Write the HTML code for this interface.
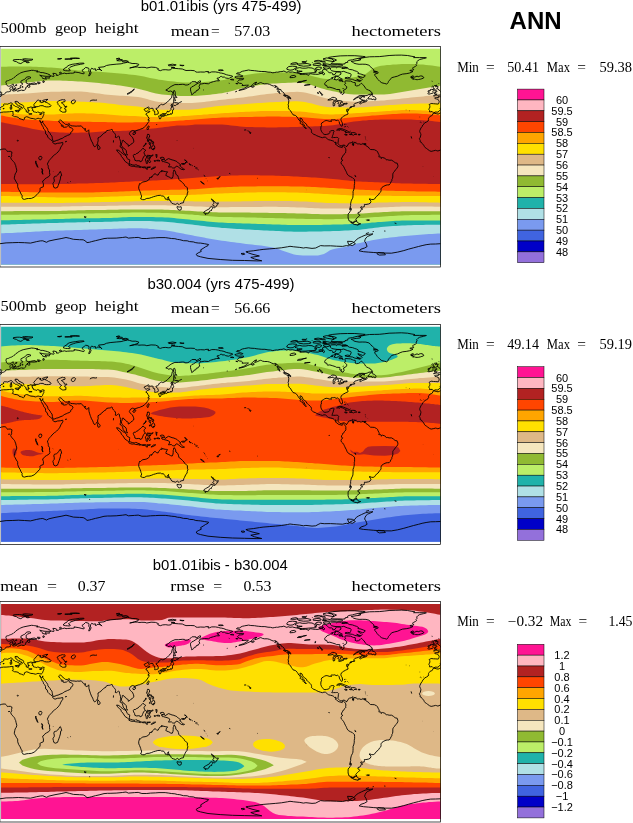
<!DOCTYPE html>
<html lang="en"><head><meta charset="utf-8"><title>ANN 500mb geopotential height</title>
<style>html,body{margin:0;padding:0;background:#fff}svg{display:block}</style></head>
<body>
<svg width="633" height="823" viewBox="0 0 633 823">
<rect width="633" height="823" fill="#fff"/>
<defs>
<clipPath id="cf0"><rect x="1.1" y="48.7" width="439.4" height="215.7"/></clipPath>
<clipPath id="cm0"><rect x="-0.1" y="46.5" width="440.6" height="220.5"/></clipPath>
<clipPath id="cf1"><rect x="1.1" y="326.7" width="439.4" height="215.1"/></clipPath>
<clipPath id="cm1"><rect x="-0.1" y="324.5" width="440.6" height="220"/></clipPath>
<clipPath id="cf2"><rect x="1.1" y="604" width="439.4" height="215"/></clipPath>
<clipPath id="cm2"><rect x="-0.1" y="601.6" width="440.6" height="220.4"/></clipPath>
</defs>
<g clip-path="url(#cf0)">
<rect x="0" y="40" width="442" height="230" fill="#BCEE68"/>
<path d="M-1,66.8 0,66.8 3,66.7 6,66.7 9,66.6 12,66.6 15,66.6 18,66.6 21,66.6 24,66.6 27,66.6 30,66.6 33,66.7 36,66.8 39,66.9 42,67.1 45,67.2 48,67.4 51,67.5 54,67.7 57,68 60,68.3 63,68.7 66,69 69,69.4 72,69.8 75,70.1 78,70.4 81,70.6 84,70.9 87,71.1 90,71.3 93,71.4 96,71.6 99,71.8 102,72 105,72.2 108,72.4 111,72.7 114,72.9 117,73.2 120,73.5 123,73.7 126,74 129,74.4 132,74.7 135,75.1 138,75.5 141,76 144,76.6 147,77.2 150,77.9 153,78.5 156,79.1 159,79.7 162,80.1 165,80.5 168,80.9 171,81.3 174,81.6 177,82 180,82.3 183,82.5 186,82.6 189,82.6 192,82.6 195,82.5 198,82.3 201,82.2 204,82 207,81.7 210,81.5 213,81.2 216,80.9 219,80.6 222,80.3 225,79.7 228,79.1 231,78.3 234,77.6 237,76.8 240,76 243,75.4 246,74.9 249,74.5 252,74 255,73.6 258,73.2 261,72.9 264,72.6 267,72.4 270,72.2 273,72.2 276,72.2 279,72.3 282,72.4 285,72.5 288,72.6 291,72.8 294,73 297,73.1 300,73.4 303,73.8 306,74.4 309,75.1 312,75.9 315,76.7 318,77.5 321,78.2 324,78.7 327,79.1 330,79.2 333,79.2 336,79.1 339,78.9 342,78.7 345,78.4 348,78.1 351,77.7 354,77.3 357,76.8 360,76.1 363,75.1 366,73.8 369,71.4 372,69.1 375,67.6 378,66.6 381,65.8 384,65.5 387,65.1 390,64.9 393,64.6 396,64.4 399,64.2 402,64.1 405,64 408,64 411,64 414,64.1 417,64.2 420,64.4 423,64.6 426,64.9 429,65.2 432,65.6 435,66 438,66.4 440,66.8 442,66.8 442,267 -1,267Z" fill="#90BA32"/>
<path d="M-1,85.7 0,85.7 3,85.3 6,84.9 9,84.5 12,84.1 15,83.8 18,83.4 21,83.1 24,82.8 27,82.5 30,82.2 33,81.9 36,81.5 39,81.2 42,81 45,80.7 48,80.6 51,80.5 54,80.5 57,80.5 60,80.6 63,80.7 66,80.8 69,81 72,81.1 75,81.3 78,81.4 81,81.6 84,81.8 87,82 90,82.2 93,82.5 96,82.8 99,83.1 102,83.4 105,83.7 108,84.1 111,84.4 114,84.8 117,85.2 120,85.6 123,86.1 126,86.5 129,87.1 132,87.6 135,88.1 138,88.7 141,89.4 144,90.2 147,91.1 150,91.9 153,92.7 156,93.4 159,94 162,94.4 165,94.7 168,95 171,95.3 174,95.5 177,95.7 180,95.9 183,96 186,96.1 189,96.1 192,96 195,95.9 198,95.8 201,95.5 204,95.3 207,95 210,94.7 213,94.3 216,94 219,93.6 222,93.2 225,92.6 228,92 231,91.2 234,90.4 237,89.5 240,88.7 243,88 246,87.4 249,86.9 252,86.3 255,85.8 258,85.3 261,84.8 264,84.4 267,84 270,83.7 273,83.5 276,83.4 279,83.2 282,83 285,82.9 288,82.8 291,82.7 294,82.6 297,82.6 300,82.7 303,83 306,83.6 309,84.3 312,85.2 315,86.2 318,87.2 321,88.2 324,89.1 327,90 330,90.6 333,91.2 336,91.8 339,92.4 342,92.9 345,93.4 348,93.9 351,94.2 354,94.4 357,94.4 360,94.4 363,94.4 366,94.4 369,94.4 372,94.4 375,94.4 378,94.4 381,94.4 384,94.4 387,94.2 390,93.9 393,93.4 396,93 399,92.4 402,91.9 405,91.4 408,90.9 411,90.5 414,90 417,89.5 420,89.1 423,88.6 426,88.1 429,87.6 432,87.1 435,86.6 438,86.1 440,85.7 442,85.7 442,267 -1,267Z" fill="#F5E6BE"/>
<path d="M-1,94.7 0,94.7 3,94.6 6,94.5 9,94.3 12,94.2 15,94.1 18,93.9 21,93.8 24,93.6 27,93.4 30,93.2 33,93 36,92.8 39,92.5 42,92.3 45,92.1 48,91.9 51,91.8 54,91.8 57,91.7 60,91.7 63,91.6 66,91.6 69,91.5 72,91.5 75,91.5 78,91.5 81,91.6 84,91.7 87,92 90,92.4 93,92.8 96,93.2 99,93.6 102,94.1 105,94.5 108,94.8 111,95.1 114,95.3 117,95.5 120,95.7 123,95.8 126,96 129,96.2 132,96.4 135,96.7 138,97.1 141,97.6 144,98.3 147,99.1 150,99.9 153,100.7 156,101.4 159,101.9 162,102.2 165,102.4 168,102.5 171,102.7 174,102.8 177,102.9 180,103 183,103.1 186,103.1 189,103.1 192,103 195,102.8 198,102.6 201,102.3 204,102 207,101.6 210,101.2 213,100.8 216,100.5 219,100.1 222,99.8 225,99.5 228,99.1 231,98.8 234,98.4 237,98.1 240,97.7 243,97.4 246,97 249,96.6 252,96.2 255,95.7 258,95.3 261,94.8 264,94.4 267,94 270,93.7 273,93.4 276,93.1 279,92.9 282,92.6 285,92.4 288,92.2 291,92 294,91.9 297,91.8 300,91.9 303,92.2 306,92.7 309,93.4 312,94.2 315,95.1 318,96.1 321,97 324,97.8 327,98.5 330,99 333,99.4 336,99.9 339,100.3 342,100.7 345,101 348,101.3 351,101.5 354,101.7 357,101.7 360,101.7 363,101.6 366,101.5 369,101.3 372,101.1 375,101 378,100.8 381,100.6 384,100.4 387,100.1 390,99.8 393,99.5 396,99.2 399,98.9 402,98.5 405,98.2 408,97.9 411,97.6 414,97.3 417,97 420,96.7 423,96.4 426,96.1 429,95.8 432,95.5 435,95.2 438,94.9 440,94.7 442,94.7 442,267 -1,267Z" fill="#DEB887"/>
<path d="M-1,103.3 0,103.3 3,103.2 6,103.1 9,102.9 12,102.8 15,102.7 18,102.6 21,102.4 24,102.3 27,102.2 30,102 33,101.8 36,101.6 39,101.4 42,101.2 45,101.1 48,101 51,100.9 54,100.9 57,100.9 60,101 63,101.1 66,101.2 69,101.3 72,101.4 75,101.5 78,101.6 81,101.7 84,101.8 87,101.9 90,102 93,102.2 96,102.4 99,102.6 102,102.8 105,103.1 108,103.4 111,103.7 114,104.1 117,104.5 120,104.9 123,105.2 126,105.5 129,105.7 132,106 135,106.3 138,106.6 141,107.1 144,107.6 147,108.1 150,108.6 153,109 156,109.4 159,109.6 162,109.7 165,109.7 168,109.7 171,109.7 174,109.7 177,109.7 180,109.7 183,109.7 186,109.7 189,109.7 192,109.6 195,109.3 198,109 201,108.6 204,108.1 207,107.6 210,107.2 213,106.7 216,106.3 219,105.9 222,105.7 225,105.4 228,105.2 231,105 234,104.8 237,104.6 240,104.4 243,104.2 246,104 249,103.8 252,103.6 255,103.3 258,103.1 261,102.9 264,102.7 267,102.5 270,102.3 273,102.2 276,102 279,101.9 282,101.7 285,101.6 288,101.5 291,101.4 294,101.3 297,101.3 300,101.4 303,101.7 306,102.2 309,102.9 312,103.6 315,104.4 318,105.2 321,105.9 324,106.5 327,107 330,107.2 333,107.2 336,107.2 339,107.3 342,107.3 345,107.4 348,107.4 351,107.4 354,107.4 357,107.4 360,107.3 363,107.2 366,107 369,106.8 372,106.5 375,106.2 378,106 381,105.8 384,105.6 387,105.3 390,105.1 393,104.9 396,104.7 399,104.5 402,104.3 405,104.1 408,104 411,103.9 414,103.8 417,103.7 420,103.6 423,103.5 426,103.5 429,103.4 432,103.4 435,103.3 438,103.3 440,103.3 442,103.3 442,267 -1,267Z" fill="#FFE000"/>
<path d="M-1,112 0,112 3,112.4 6,112.8 9,113.2 12,113.5 15,113.8 18,114.1 21,114.3 24,114.4 27,114.4 30,114.4 33,114.4 36,114.4 39,114.4 42,114.4 45,114.4 48,114.4 51,114.4 54,114.4 57,114.3 60,114.1 63,113.9 66,113.7 69,113.5 72,113.4 75,113.2 78,113.2 81,113.2 84,113.3 87,113.4 90,113.5 93,113.6 96,113.7 99,113.9 102,114.1 105,114.2 108,114.5 111,114.7 114,115 117,115.3 120,115.5 123,115.7 126,115.8 129,115.9 132,116 135,116.1 138,116.3 141,116.6 144,116.8 147,116.9 150,117 153,117.1 156,117.1 159,117.2 162,117.2 165,117.2 168,117.1 171,116.9 174,116.8 177,116.6 180,116.4 183,116.1 186,115.9 189,115.7 192,115.5 195,115.3 198,115.1 201,114.9 204,114.6 207,114.4 210,114.1 213,113.9 216,113.7 219,113.5 222,113.3 225,113.1 228,112.9 231,112.7 234,112.5 237,112.3 240,112.1 243,111.9 246,111.8 249,111.7 252,111.5 255,111.4 258,111.2 261,111.1 264,111 267,111 270,110.9 273,110.9 276,110.9 279,110.9 282,111 285,111 288,111.1 291,111.2 294,111.3 297,111.4 300,111.5 303,111.7 306,112 309,112.4 312,112.8 315,113.2 318,113.5 321,113.9 324,114.2 327,114.3 330,114.4 333,114.4 336,114.3 339,114.2 342,114 345,113.9 348,113.7 351,113.5 354,113.3 357,113.1 360,113 363,112.8 366,112.5 369,112.3 372,112.1 375,111.9 378,111.7 381,111.5 384,111.3 387,111.1 390,110.9 393,110.6 396,110.4 399,110.3 402,110.1 405,110 408,110 411,110 414,110.1 417,110.2 420,110.3 423,110.4 426,110.6 429,110.9 432,111.1 435,111.4 438,111.8 440,112 442,112 442,267 -1,267Z" fill="#FFA500"/>
<path d="M-1,115.2 0,115.2 3,115.8 6,116.4 9,117 12,117.6 15,118.1 18,118.5 21,118.9 24,119.2 27,119.5 30,119.7 33,119.9 36,120.1 39,120.2 42,120.4 45,120.5 48,120.6 51,120.8 54,120.9 57,121 60,121.1 63,121.2 66,121.3 69,121.4 72,121.5 75,121.5 78,121.6 81,121.7 84,121.7 87,121.8 90,121.8 93,121.9 96,121.9 99,122 102,122 105,122.1 108,122.2 111,122.2 114,122.3 117,122.5 120,122.5 123,122.5 126,122.5 129,122.4 132,122.4 135,122.3 138,122.3 141,122.2 144,122.2 147,122.1 150,122 153,122 156,121.9 159,121.8 162,121.7 165,121.6 168,121.4 171,121.2 174,121 177,120.8 180,120.6 183,120.4 186,120.1 189,119.9 192,119.7 195,119.5 198,119.2 201,119 204,118.7 207,118.5 210,118.3 213,118.1 216,117.9 219,117.7 222,117.6 225,117.5 228,117.4 231,117.3 234,117.3 237,117.2 240,117.1 243,117.1 246,117 249,116.9 252,116.9 255,116.8 258,116.8 261,116.7 264,116.7 267,116.6 270,116.6 273,116.6 276,116.6 279,116.6 282,116.7 285,116.7 288,116.8 291,116.8 294,116.9 297,117 300,117.1 303,117.2 306,117.4 309,117.7 312,118 315,118.2 318,118.5 321,118.7 324,118.9 327,119.1 330,119.1 333,119 336,118.9 339,118.7 342,118.4 345,118.1 348,117.8 351,117.5 354,117.2 357,116.9 360,116.7 363,116.4 366,116.2 369,115.9 372,115.6 375,115.4 378,115.2 381,115 384,114.8 387,114.6 390,114.3 393,114.1 396,113.9 399,113.8 402,113.6 405,113.5 408,113.5 411,113.5 414,113.6 417,113.6 420,113.7 423,113.9 426,114 429,114.2 432,114.4 435,114.7 438,115 440,115.2 442,115.2 442,267 -1,267Z" fill="#FF4500"/>
<path d="M-1,122.1 0,122.1 3,122.6 6,123.2 9,123.8 12,124.4 15,125 18,125.6 21,126.3 24,127 27,127.6 30,128.3 33,129 36,129.5 39,130.1 42,130.6 45,131.1 48,131.5 51,131.8 54,132.1 57,132.3 60,132.5 63,132.6 66,132.7 69,132.8 72,132.8 75,132.7 78,132.7 81,132.6 84,132.6 87,132.5 90,132.4 93,132.2 96,132 99,131.8 102,131.5 105,131.3 108,131.2 111,131.1 114,131 117,130.9 120,130.9 123,130.8 126,130.7 129,130.6 132,130.4 135,130.1 138,129.8 141,129.6 144,129.4 147,129.1 150,128.8 153,128.5 156,128.2 159,127.8 162,127.5 165,127.1 168,126.7 171,126.3 174,125.9 177,125.6 180,125.5 183,125.4 186,125.4 189,125.2 192,124.9 195,124.6 198,124.5 201,124.5 204,124.5 207,124.5 210,124.5 213,124.5 216,124.5 219,124.5 222,124.6 225,124.8 228,125 231,125.4 234,125.8 237,126.1 240,126.5 243,126.7 246,126.9 249,127 252,127.1 255,127.2 258,127.2 261,127.3 264,127.3 267,127.4 270,127.4 273,127.4 276,127.4 279,127.3 282,127.3 285,127.2 288,127.2 291,127.1 294,127 297,126.9 300,126.8 303,126.8 306,126.7 309,126.6 312,126.5 315,126.3 318,126.2 321,126 324,125.9 327,125.7 330,125.5 333,125.2 336,124.8 339,124.3 342,123.7 345,123.1 348,122.5 351,122 354,121.5 357,121.2 360,120.9 363,120.6 366,120.4 369,120.1 372,119.9 375,119.8 378,119.7 381,119.6 384,119.6 387,119.6 390,119.6 393,119.6 396,119.6 399,119.6 402,119.6 405,119.6 408,119.6 411,119.6 414,119.7 417,119.9 420,120 423,120.3 426,120.5 429,120.8 432,121.1 435,121.5 438,121.8 440,122.1 442,122.1 442,267 -1,267Z" fill="#B22222"/>
<path d="M-1,183.9 0,183.9 3,184 6,184 9,184 12,184.1 15,184.1 18,184.2 21,184.2 24,184.2 27,184.2 30,184.2 33,184.2 36,184.2 39,184.2 42,184.2 45,184.2 48,184.2 51,184.2 54,184.2 57,184.2 60,184.1 63,184 66,184 69,183.9 72,183.8 75,183.7 78,183.6 81,183.5 84,183.4 87,183.4 90,183.3 93,183.2 96,183.1 99,183 102,182.9 105,182.8 108,182.7 111,182.6 114,182.4 117,182.3 120,182.1 123,182 126,181.8 129,181.7 132,181.5 135,181.3 138,181.2 141,181.1 144,180.9 147,180.8 150,180.7 153,180.5 156,180.4 159,180.3 162,180.1 165,179.9 168,179.7 171,179.5 174,179.3 177,179.1 180,178.9 183,178.7 186,178.4 189,178.2 192,178 195,177.8 198,177.6 201,177.3 204,177.1 207,176.9 210,176.7 213,176.5 216,176.3 219,176.1 222,176 225,175.9 228,175.7 231,175.6 234,175.5 237,175.4 240,175.3 243,175.2 246,175.2 249,175.2 252,175.2 255,175.3 258,175.3 261,175.4 264,175.4 267,175.5 270,175.6 273,175.6 276,175.7 279,175.8 282,175.9 285,176 288,176.1 291,176.3 294,176.4 297,176.6 300,176.7 303,176.9 306,177 309,177.2 312,177.4 315,177.6 318,177.8 321,178 324,178.2 327,178.5 330,178.7 333,179 336,179.3 339,179.6 342,179.9 345,180.3 348,180.6 351,180.9 354,181.2 357,181.4 360,181.5 363,181.7 366,181.8 369,182 372,182.1 375,182.2 378,182.3 381,182.5 384,182.6 387,182.7 390,182.9 393,183 396,183.2 399,183.3 402,183.4 405,183.5 408,183.6 411,183.6 414,183.7 417,183.7 420,183.8 423,183.8 426,183.8 429,183.9 432,183.9 435,183.9 438,183.9 440,183.9 442,183.9 442,267 -1,267Z" fill="#FF4500"/>
<path d="M-1,191.7 0,191.7 3,191.7 6,191.8 9,191.8 12,191.9 15,191.9 18,192 21,192 24,192.1 27,192.1 30,192.2 33,192.3 36,192.3 39,192.4 42,192.5 45,192.5 48,192.6 51,192.6 54,192.6 57,192.6 60,192.6 63,192.6 66,192.6 69,192.6 72,192.6 75,192.6 78,192.6 81,192.6 84,192.6 87,192.5 90,192.5 93,192.4 96,192.3 99,192.2 102,192.1 105,192 108,192 111,191.9 114,191.8 117,191.7 120,191.5 123,191.4 126,191.3 129,191.2 132,191.1 135,190.9 138,190.8 141,190.7 144,190.6 147,190.5 150,190.4 153,190.3 156,190.2 159,190.1 162,190 165,189.9 168,189.9 171,189.8 174,189.8 177,189.7 180,189.7 183,189.6 186,189.6 189,189.5 192,189.3 195,189.2 198,189 201,188.7 204,188.5 207,188.3 210,188 213,187.8 216,187.6 219,187.4 222,187.3 225,187.2 228,187.1 231,186.9 234,186.8 237,186.7 240,186.6 243,186.6 246,186.5 249,186.4 252,186.4 255,186.4 258,186.3 261,186.3 264,186.2 267,186.2 270,186.2 273,186.2 276,186.2 279,186.2 282,186.3 285,186.3 288,186.3 291,186.4 294,186.4 297,186.5 300,186.5 303,186.6 306,186.7 309,186.8 312,187 315,187.1 318,187.3 321,187.4 324,187.6 327,187.7 330,187.9 333,188.1 336,188.2 339,188.4 342,188.6 345,188.8 348,189 351,189.2 354,189.4 357,189.5 360,189.7 363,189.8 366,189.9 369,190.1 372,190.2 375,190.3 378,190.4 381,190.5 384,190.6 387,190.7 390,190.7 393,190.8 396,190.9 399,191 402,191.1 405,191.1 408,191.2 411,191.3 414,191.3 417,191.4 420,191.4 423,191.5 426,191.5 429,191.6 432,191.6 435,191.6 438,191.7 440,191.7 442,191.7 442,267 -1,267Z" fill="#FFA500"/>
<path d="M-1,196.1 0,196.1 3,196.1 6,196.1 9,196.1 12,196.2 15,196.2 18,196.3 21,196.3 24,196.4 27,196.4 30,196.5 33,196.6 36,196.7 39,196.9 42,197 45,197.1 48,197.2 51,197.3 54,197.3 57,197.4 60,197.4 63,197.4 66,197.4 69,197.5 72,197.5 75,197.5 78,197.5 81,197.5 84,197.4 87,197.4 90,197.3 93,197.2 96,197.1 99,197 102,196.9 105,196.8 108,196.7 111,196.6 114,196.5 117,196.4 120,196.3 123,196.2 126,196 129,195.9 132,195.8 135,195.7 138,195.7 141,195.6 144,195.5 147,195.5 150,195.4 153,195.3 156,195.3 159,195.2 162,195.2 165,195.2 168,195.1 171,195.1 174,195.1 177,195 180,195 183,195 186,194.9 189,194.9 192,194.8 195,194.7 198,194.6 201,194.4 204,194.3 207,194.1 210,194 213,193.8 216,193.7 219,193.5 222,193.4 225,193.3 228,193.2 231,193.1 234,193 237,192.9 240,192.8 243,192.7 246,192.6 249,192.5 252,192.5 255,192.4 258,192.3 261,192.3 264,192.3 267,192.2 270,192.2 273,192.2 276,192.2 279,192.2 282,192.3 285,192.3 288,192.4 291,192.4 294,192.5 297,192.6 300,192.7 303,192.8 306,192.9 309,193.1 312,193.2 315,193.4 318,193.6 321,193.8 324,194 327,194.1 330,194.3 333,194.5 336,194.6 339,194.8 342,195 345,195.1 348,195.3 351,195.4 354,195.5 357,195.5 360,195.5 363,195.6 366,195.6 369,195.6 372,195.6 375,195.6 378,195.7 381,195.7 384,195.7 387,195.8 390,195.8 393,195.9 396,196 399,196 402,196.1 405,196.1 408,196.1 411,196.1 414,196.1 417,196.1 420,196.1 423,196.1 426,196.1 429,196.1 432,196.1 435,196.1 438,196.1 440,196.1 442,196.1 442,267 -1,267Z" fill="#FFE000"/>
<path d="M-1,202.7 0,202.7 3,202.7 6,202.7 9,202.7 12,202.7 15,202.7 18,202.7 21,202.7 24,202.7 27,202.7 30,202.7 33,202.8 36,202.8 39,202.9 42,202.9 45,202.9 48,203 51,203 54,203 57,203 60,202.9 63,202.9 66,202.8 69,202.8 72,202.7 75,202.7 78,202.6 81,202.5 84,202.5 87,202.4 90,202.4 93,202.3 96,202.3 99,202.2 102,202.1 105,202.1 108,202 111,201.9 114,201.9 117,201.8 120,201.7 123,201.6 126,201.5 129,201.5 132,201.4 135,201.3 138,201.3 141,201.2 144,201.1 147,201.1 150,201 153,201 156,200.9 159,200.9 162,200.9 165,200.9 168,200.9 171,201 174,201 177,201.1 180,201.2 183,201.2 186,201.3 189,201.3 192,201.3 195,201.4 198,201.4 201,201.5 204,201.5 207,201.5 210,201.6 213,201.6 216,201.6 219,201.6 222,201.6 225,201.6 228,201.6 231,201.5 234,201.5 237,201.4 240,201.4 243,201.3 246,201.3 249,201.3 252,201.2 255,201.1 258,201.1 261,201 264,201 267,200.9 270,200.9 273,200.9 276,200.9 279,200.9 282,201 285,201 288,201.1 291,201.1 294,201.2 297,201.3 300,201.4 303,201.5 306,201.6 309,201.8 312,202 315,202.2 318,202.4 321,202.6 324,202.8 327,202.9 330,203 333,203.1 336,203.1 339,203.2 342,203.3 345,203.3 348,203.3 351,203.4 354,203.4 357,203.4 360,203.4 363,203.3 366,203.2 369,203 372,202.9 375,202.7 378,202.6 381,202.5 384,202.5 387,202.4 390,202.3 393,202.3 396,202.2 399,202.2 402,202.1 405,202.1 408,202.1 411,202.1 414,202.1 417,202.1 420,202.2 423,202.2 426,202.3 429,202.4 432,202.4 435,202.5 438,202.6 440,202.7 442,202.7 442,267 -1,267Z" fill="#DEB887"/>
<path d="M-1,206.8 0,206.8 3,206.8 6,206.8 9,206.8 12,206.8 15,206.8 18,206.8 21,206.8 24,206.8 27,206.8 30,206.8 33,206.8 36,206.8 39,206.8 42,206.8 45,206.8 48,206.8 51,206.8 54,206.8 57,206.8 60,206.7 63,206.6 66,206.5 69,206.4 72,206.3 75,206.3 78,206.2 81,206.2 84,206.1 87,206.1 90,206 93,206 96,206 99,205.9 102,205.9 105,205.9 108,205.8 111,205.8 114,205.7 117,205.7 120,205.6 123,205.5 126,205.4 129,205.4 132,205.3 135,205.3 138,205.3 141,205.3 144,205.3 147,205.3 150,205.3 153,205.3 156,205.3 159,205.3 162,205.3 165,205.3 168,205.4 171,205.5 174,205.6 177,205.7 180,205.8 183,205.9 186,206 189,206.1 192,206.2 195,206.4 198,206.5 201,206.6 204,206.8 207,206.9 210,207 213,207.1 216,207.2 219,207.2 222,207.2 225,207.2 228,207.2 231,207.1 234,207.1 237,207.1 240,207.1 243,207 246,207 249,207 252,206.9 255,206.9 258,206.9 261,206.9 264,206.8 267,206.8 270,206.8 273,206.8 276,206.8 279,206.9 282,206.9 285,207 288,207.1 291,207.2 294,207.3 297,207.4 300,207.5 303,207.6 306,207.7 309,207.9 312,208 315,208.2 318,208.3 321,208.4 324,208.5 327,208.6 330,208.6 333,208.6 336,208.6 339,208.6 342,208.6 345,208.6 348,208.6 351,208.6 354,208.6 357,208.6 360,208.5 363,208.4 366,208.3 369,208.1 372,207.9 375,207.8 378,207.6 381,207.4 384,207.3 387,207.2 390,207 393,206.9 396,206.8 399,206.7 402,206.6 405,206.5 408,206.5 411,206.5 414,206.5 417,206.5 420,206.5 423,206.5 426,206.6 429,206.6 432,206.6 435,206.7 438,206.7 440,206.8 442,206.8 442,267 -1,267Z" fill="#F5E6BE"/>
<path d="M-1,211.2 0,211.2 3,211.2 6,211.2 9,211.2 12,211.2 15,211.1 18,211.1 21,211.1 24,211.1 27,211.1 30,211.1 33,211.1 36,211.1 39,211.1 42,211 45,211 48,211 51,211 54,211 57,210.9 60,210.9 63,210.8 66,210.7 69,210.6 72,210.5 75,210.4 78,210.3 81,210.2 84,210.2 87,210.1 90,210.1 93,210 96,210 99,210 102,209.9 105,209.9 108,209.8 111,209.8 114,209.7 117,209.7 120,209.6 123,209.5 126,209.5 129,209.5 132,209.4 135,209.4 138,209.4 141,209.4 144,209.4 147,209.4 150,209.5 153,209.5 156,209.5 159,209.6 162,209.6 165,209.7 168,209.8 171,209.9 174,210 177,210.2 180,210.4 183,210.5 186,210.7 189,210.8 192,211 195,211.2 198,211.4 201,211.6 204,211.7 207,211.9 210,212.1 213,212.2 216,212.3 219,212.4 222,212.4 225,212.5 228,212.5 231,212.5 234,212.5 237,212.5 240,212.6 243,212.6 246,212.6 249,212.6 252,212.7 255,212.7 258,212.7 261,212.8 264,212.8 267,212.8 270,212.9 273,212.9 276,213 279,213 282,213.1 285,213.1 288,213.2 291,213.2 294,213.3 297,213.4 300,213.5 303,213.5 306,213.6 309,213.8 312,213.9 315,214 318,214.1 321,214.2 324,214.2 327,214.3 330,214.3 333,214.3 336,214.3 339,214.2 342,214.2 345,214.1 348,214 351,213.9 354,213.9 357,213.8 360,213.6 363,213.5 366,213.3 369,213.1 372,212.8 375,212.6 378,212.4 381,212.2 384,212.1 387,211.9 390,211.8 393,211.6 396,211.5 399,211.4 402,211.3 405,211.2 408,211.2 411,211.2 414,211.2 417,211.2 420,211.2 423,211.2 426,211.2 429,211.2 432,211.2 435,211.2 438,211.2 440,211.2 442,211.2 442,267 -1,267Z" fill="#90BA32"/>
<path d="M-1,214.8 0,214.8 3,214.8 6,214.8 9,214.7 12,214.7 15,214.7 18,214.7 21,214.6 24,214.6 27,214.6 30,214.6 33,214.5 36,214.5 39,214.5 42,214.4 45,214.4 48,214.4 51,214.3 54,214.3 57,214.2 60,214.1 63,214 66,213.9 69,213.8 72,213.7 75,213.7 78,213.6 81,213.5 84,213.5 87,213.5 90,213.4 93,213.4 96,213.3 99,213.3 102,213.3 105,213.2 108,213.2 111,213.1 114,213.1 117,213 120,212.9 123,212.8 126,212.7 129,212.7 132,212.6 135,212.6 138,212.6 141,212.6 144,212.6 147,212.7 150,212.7 153,212.7 156,212.8 159,212.8 162,212.9 165,213 168,213.1 171,213.2 174,213.4 177,213.6 180,213.8 183,214 186,214.2 189,214.4 192,214.6 195,214.9 198,215.1 201,215.4 204,215.7 207,216 210,216.3 213,216.5 216,216.7 219,216.9 222,217 225,217 228,217.1 231,217.1 234,217.2 237,217.2 240,217.3 243,217.3 246,217.4 249,217.5 252,217.5 255,217.6 258,217.7 261,217.8 264,217.9 267,218 270,218 273,218.1 276,218.2 279,218.3 282,218.3 285,218.4 288,218.5 291,218.6 294,218.6 297,218.7 300,218.7 303,218.8 306,218.9 309,218.9 312,219 315,219 318,219.1 321,219.1 324,219.2 327,219.2 330,219.2 333,219.2 336,219.1 339,219 342,218.9 345,218.8 348,218.7 351,218.5 354,218.4 357,218.3 360,218.1 363,217.9 366,217.7 369,217.5 372,217.3 375,217.1 378,216.9 381,216.7 384,216.5 387,216.3 390,216.1 393,215.9 396,215.7 399,215.5 402,215.4 405,215.3 408,215.2 411,215.1 414,215.1 417,215 420,215 423,214.9 426,214.9 429,214.9 432,214.8 435,214.8 438,214.8 440,214.8 442,214.8 442,267 -1,267Z" fill="#BCEE68"/>
<path d="M-1,220.4 0,220.4 3,220.3 6,220.3 9,220.2 12,220.1 15,220.1 18,220 21,219.9 24,219.8 27,219.8 30,219.7 33,219.6 36,219.6 39,219.5 42,219.4 45,219.4 48,219.3 51,219.2 54,219.1 57,219.1 60,219 63,218.9 66,218.8 69,218.7 72,218.6 75,218.6 78,218.5 81,218.4 84,218.4 87,218.3 90,218.3 93,218.3 96,218.2 99,218.2 102,218.1 105,218.1 108,218 111,217.9 114,217.8 117,217.7 120,217.5 123,217.3 126,217.2 129,217.1 132,217 135,216.9 138,216.9 141,216.9 144,216.9 147,217 150,217 153,217.1 156,217.2 159,217.2 162,217.3 165,217.4 168,217.6 171,217.8 174,218.1 177,218.4 180,218.7 183,219 186,219.3 189,219.6 192,219.9 195,220.2 198,220.5 201,220.8 204,221.1 207,221.4 210,221.7 213,222 216,222.2 219,222.4 222,222.6 225,222.7 228,222.9 231,223 234,223.1 237,223.2 240,223.3 243,223.4 246,223.5 249,223.6 252,223.7 255,223.8 258,223.9 261,224 264,224.1 267,224.2 270,224.3 273,224.4 276,224.5 279,224.6 282,224.7 285,224.8 288,224.9 291,225 294,225.1 297,225.1 300,225.1 303,225.1 306,225.1 309,225 312,225 315,225 318,224.9 321,224.9 324,224.8 327,224.8 330,224.7 333,224.6 336,224.6 339,224.5 342,224.4 345,224.3 348,224.2 351,224.1 354,224 357,223.9 360,223.7 363,223.4 366,223.2 369,222.9 372,222.6 375,222.4 378,222.1 381,221.9 384,221.7 387,221.5 390,221.2 393,221 396,220.8 399,220.7 402,220.5 405,220.4 408,220.4 411,220.4 414,220.4 417,220.4 420,220.4 423,220.4 426,220.4 429,220.4 432,220.4 435,220.4 438,220.4 440,220.4 442,220.4 442,267 -1,267Z" fill="#20B2AA"/>
<path d="M-1,224.7 0,224.7 3,224.6 6,224.5 9,224.4 12,224.3 15,224.2 18,224.1 21,224 24,223.9 27,223.8 30,223.7 33,223.6 36,223.5 39,223.4 42,223.3 45,223.2 48,223.1 51,223 54,222.9 57,222.9 60,222.8 63,222.7 66,222.6 69,222.5 72,222.4 75,222.4 78,222.3 81,222.2 84,222.2 87,222.1 90,222.1 93,222 96,222 99,221.9 102,221.9 105,221.8 108,221.7 111,221.7 114,221.6 117,221.5 120,221.3 123,221.2 126,221.1 129,221 132,220.9 135,220.9 138,220.9 141,220.9 144,221 147,221.1 150,221.1 153,221.2 156,221.4 159,221.5 162,221.6 165,221.8 168,222 171,222.3 174,222.6 177,222.9 180,223.3 183,223.6 186,224 189,224.3 192,224.6 195,225 198,225.3 201,225.7 204,226 207,226.4 210,226.7 213,227 216,227.3 219,227.6 222,227.9 225,228.1 228,228.3 231,228.5 234,228.7 237,228.9 240,229 243,229.2 246,229.4 249,229.6 252,229.8 255,229.9 258,230.1 261,230.3 264,230.4 267,230.6 270,230.7 273,230.8 276,231 279,231.1 282,231.3 285,231.4 288,231.5 291,231.6 294,231.7 297,231.7 300,231.7 303,231.7 306,231.7 309,231.6 312,231.6 315,231.5 318,231.5 321,231.4 324,231.3 327,231.3 330,231.2 333,231.1 336,231 339,230.9 342,230.8 345,230.6 348,230.5 351,230.3 354,230.1 357,229.9 360,229.7 363,229.3 366,229 369,228.6 372,228.2 375,227.8 378,227.4 381,227.1 384,226.8 387,226.6 390,226.3 393,226.1 396,225.9 399,225.7 402,225.5 405,225.4 408,225.3 411,225.2 414,225.1 417,225 420,225 423,224.9 426,224.8 429,224.8 432,224.7 435,224.7 438,224.7 440,224.7 442,224.7 442,267 -1,267Z" fill="#B0E0E6"/>
<path d="M-1,233.4 0,233.4 3,233.3 6,233.1 9,233 12,232.9 15,232.7 18,232.6 21,232.4 24,232.3 27,232.1 30,232 33,231.8 36,231.6 39,231.5 42,231.3 45,231.1 48,231 51,230.8 54,230.7 57,230.6 60,230.5 63,230.4 66,230.3 69,230.3 72,230.2 75,230.1 78,230 81,229.9 84,229.8 87,229.7 90,229.6 93,229.5 96,229.4 99,229.3 102,229.2 105,229.1 108,229 111,228.9 114,228.8 117,228.7 120,228.6 123,228.5 126,228.4 129,228.3 132,228.2 135,228.2 138,228.2 141,228.3 144,228.4 147,228.6 150,228.9 153,229.1 156,229.4 159,229.7 162,230 165,230.3 168,230.8 171,231.3 174,231.8 177,232.4 180,233 183,233.6 186,234.2 189,234.8 192,235.3 195,235.9 198,236.5 201,237 204,237.6 207,238.2 210,238.7 213,239.2 216,239.8 219,240.2 222,240.7 225,241.1 228,241.6 231,242 234,242.3 237,242.7 240,243.1 243,243.5 246,243.9 249,244.3 252,244.6 255,245 258,245.3 261,245.6 264,246 267,246.4 270,246.9 273,247.5 276,248.3 279,249.3 282,250.4 285,251.5 288,252.5 291,253.5 294,254.4 297,255.1 300,255.3 303,255.4 306,255.4 309,255.5 312,255.5 315,255.5 318,255.4 321,254.8 324,254.1 327,252.2 330,250.2 333,249.2 336,248.6 339,248.1 342,247.6 345,247 348,246.3 351,245.4 354,244.5 357,243.6 360,242.9 363,242.2 366,241.5 369,240.9 372,240.3 375,239.7 378,239.2 381,238.7 384,238.3 387,237.9 390,237.5 393,237.2 396,236.9 399,236.5 402,236.3 405,236 408,235.7 411,235.4 414,235.2 417,234.9 420,234.7 423,234.5 426,234.3 429,234 432,233.9 435,233.7 438,233.5 440,233.4 442,233.4 442,267 -1,267Z" fill="#7A9AEF"/>
</g>
<g clip-path="url(#cf1)">
<rect x="0" y="320" width="442" height="230" fill="#20B2AA"/>
<path d="M-1,346.5 0,346.5 3,346.2 6,346 9,345.7 12,345.5 15,345.4 18,345.2 21,345.2 24,345.1 27,345.1 30,345.1 33,345.2 36,345.3 39,345.4 42,345.5 45,345.7 48,345.8 51,346 54,346.1 57,346.3 60,346.5 63,346.8 66,347 69,347.3 72,347.6 75,347.8 78,348.1 81,348.3 84,348.6 87,348.8 90,349 93,349.3 96,349.5 99,349.8 102,350 105,350.3 108,350.5 111,350.8 114,351.1 117,351.3 120,351.6 123,351.9 126,352.3 129,352.7 132,353.1 135,353.5 138,354 141,354.6 144,355.2 147,355.9 150,356.7 153,357.4 156,358.2 159,358.9 162,359.6 165,360.5 168,361.3 171,362 174,362.6 177,363 180,363.1 183,363.1 186,363.2 189,363.2 192,363.3 195,363.3 198,363.3 201,363.2 204,363.1 207,362.8 210,362.6 213,362.2 216,361.9 219,361.6 222,361.3 225,360.9 228,360.5 231,360.1 234,359.7 237,359.2 240,358.7 243,358.1 246,357.6 249,357 252,356.2 255,355.4 258,354.6 261,353.7 264,353 267,352.3 270,351.8 273,351.4 276,351.1 279,350.8 282,350.6 285,350.4 288,350.3 291,350.3 294,350.6 297,351 300,351.4 303,351.9 306,352.4 309,353.1 312,353.7 315,354.4 318,355.1 321,355.9 324,356.9 327,357.9 330,359 333,359.9 336,360.6 339,361.1 342,361.7 345,362.1 348,362.6 351,363 354,363.2 357,363.4 360,363.5 363,363.5 366,363.5 369,363.5 372,363.5 375,363.4 378,363.1 381,362.5 384,361.9 385.3,361.6 387,361.2 388.4,360.8 389.6,360.5 390.8,360.1 391.9,359.7 393.2,359.1 394.7,358.5 396.3,357.8 397.5,356.9 397.6,355.9 396.4,355 395,354.4 393.6,354 392.3,353.8 391,353.4 389.6,352.9 388.4,352.2 387.4,351.1 386.9,349.8 386.9,348.4 387.6,347.1 388.6,346.1 389.7,345.3 391,344.7 392.4,344.3 393.8,344 395.2,343.8 396.6,343.6 398,343.5 399.4,343.4 400.8,343.4 402.2,343.3 403.6,343.3 405,343.3 406.4,343.3 407.8,343.3 409.2,343.3 410.6,343.3 412,343.4 413.4,343.4 414.8,343.5 416.2,343.6 417.7,343.8 419,343.9 420.4,344.1 421.8,344.3 423.2,344.5 424.6,344.7 426,344.9 427.4,345.1 428.8,345.3 430.2,345.5 431.6,345.7 433,345.9 434.4,346 435.8,346.2 437.2,346.3 438.6,346.4 440,346.5 442,346.5 442,544.5 -1,544.5Z" fill="#BCEE68"/>
<path d="M-1,362.5 0,362.5 3,362.3 6,362.1 9,361.9 12,361.7 15,361.5 18,361.3 21,361.2 24,361 27,360.8 30,360.7 33,360.5 36,360.3 39,360.1 42,360 45,359.8 48,359.7 51,359.7 54,359.7 57,359.8 60,359.9 63,360 66,360.1 69,360.2 72,360.4 75,360.5 78,360.6 81,360.7 84,360.8 87,360.8 90,360.9 93,361 96,361 99,361.1 102,361.2 105,361.3 108,361.4 111,361.6 114,361.8 117,362.2 120,362.6 123,363.1 126,363.7 129,364.3 132,365.2 135,366.1 138,367.1 141,368 144,369 147,370 150,371 153,371.9 156,372.7 159,373.4 162,374 165,374.5 168,375 171,375.4 174,375.7 177,375.9 180,375.9 183,375.8 186,375.6 189,375.4 192,375.1 195,374.9 198,374.6 201,374.3 204,374 207,373.7 210,373.3 213,373 216,372.6 219,372.2 222,371.8 225,371.5 228,371.1 231,370.7 234,370.2 237,369.8 240,369.4 243,368.9 246,368.5 249,368 252,367.5 255,366.9 258,366.3 261,365.8 264,365.2 267,364.8 270,364.4 273,364.1 276,363.9 279,363.6 282,363.4 285,363.2 288,363 291,362.9 294,362.8 297,362.7 300,362.7 303,363 306,363.5 309,364.2 312,364.9 315,365.7 318,366.4 321,367.1 324,367.8 327,368.6 330,369.3 333,370 336,370.7 339,371.3 342,371.9 345,372.5 348,373.1 351,373.7 354,374.1 357,374.5 360,374.7 363,374.9 366,375 369,375.1 372,375.2 375,375.3 378,375.3 381,375.3 384,375 387,374.7 390,374.2 393,373.7 396,373.1 399,372.6 402,372 405,371.3 408,370.6 411,369.8 414,369.1 417,368.3 420,367.6 423,366.8 426,366.1 429,365.3 432,364.6 435,363.8 438,363 440,362.5 442,362.5 442,544.5 -1,544.5Z" fill="#90BA32"/>
<path d="M-1,370.7 0,370.7 3,370.6 6,370.5 9,370.4 12,370.3 15,370.2 18,370.1 21,370 24,369.9 27,369.8 30,369.6 33,369.5 36,369.4 39,369.2 42,369.1 45,369 48,368.9 51,368.9 54,368.9 57,368.9 60,368.9 63,368.9 66,368.9 69,368.9 72,368.9 75,368.9 78,368.9 81,368.9 84,368.9 87,369 90,369 93,369.1 96,369.2 99,369.3 102,369.4 105,369.5 108,369.6 111,369.8 114,370.1 117,370.6 120,371.2 123,371.9 126,372.6 129,373.2 132,373.9 135,374.6 138,375.4 141,376.2 144,377 147,378 150,378.9 153,379.8 156,380.5 159,381 162,381.4 165,381.7 168,382 171,382.2 174,382.4 177,382.5 180,382.5 183,382.3 186,382.1 189,381.8 192,381.5 195,381.2 198,380.9 201,380.6 204,380.2 207,379.9 210,379.5 213,379.1 216,378.7 219,378.3 222,378 225,377.6 228,377.3 231,377 234,376.7 237,376.4 240,376 243,375.7 246,375.3 249,374.9 252,374.5 255,374 258,373.5 261,373 264,372.6 267,372.1 270,371.7 273,371.4 276,371 279,370.6 282,370.3 285,369.9 288,369.6 291,369.3 294,369.1 297,369 300,369 303,369.2 306,369.7 309,370.2 312,370.9 315,371.5 318,372.1 321,372.7 324,373.3 327,374 330,374.7 333,375.3 336,375.8 339,376.1 342,376.5 345,376.8 348,377.1 351,377.4 354,377.6 357,377.8 360,377.8 363,377.8 366,377.8 369,377.8 372,377.8 375,377.8 378,377.8 381,377.8 384,377.6 387,377.3 390,376.9 393,376.5 396,376.1 399,375.8 402,375.4 405,375 408,374.6 411,374.2 414,373.8 417,373.4 420,373 423,372.7 426,372.3 429,371.9 432,371.6 435,371.3 438,370.9 440,370.7 442,370.7 442,544.5 -1,544.5Z" fill="#F5E6BE"/>
<path d="M-1,376.7 0,376.7 3,376.7 6,376.7 9,376.7 12,376.7 15,376.7 18,376.7 21,376.7 24,376.7 27,376.7 30,376.7 33,376.6 36,376.5 39,376.4 42,376.4 45,376.3 48,376.2 51,376.2 54,376.2 57,376.2 60,376.2 63,376.3 66,376.3 69,376.4 72,376.4 75,376.5 78,376.5 81,376.5 84,376.6 87,376.6 90,376.7 93,376.7 96,376.8 99,376.9 102,376.9 105,377 108,377.1 111,377.3 114,377.5 117,377.9 120,378.4 123,378.9 126,379.5 129,380.2 132,381.1 135,382.1 138,383 141,383.7 144,384.3 147,384.9 150,385.5 153,386 156,386.4 159,386.7 162,387 165,387.2 168,387.5 171,387.7 174,387.8 177,387.9 180,387.9 183,387.7 186,387.4 189,387 192,386.6 195,386.2 198,385.9 201,385.5 204,385.2 207,384.8 210,384.4 213,384.1 216,383.7 219,383.4 222,383.1 225,382.9 228,382.6 231,382.4 234,382.2 237,382 240,381.7 243,381.5 246,381.2 249,380.9 252,380.5 255,380.2 258,379.8 261,379.4 264,379 267,378.7 270,378.4 273,378.1 276,377.9 279,377.6 282,377.4 285,377.2 288,377 291,376.8 294,376.7 297,376.6 300,376.6 303,376.8 306,377.2 309,377.6 312,378.1 315,378.7 318,379.1 321,379.5 324,380.1 327,380.6 330,381 333,381.4 336,381.6 339,381.6 342,381.6 345,381.6 348,381.6 351,381.6 354,381.6 357,381.6 360,381.6 363,381.6 366,381.6 369,381.6 372,381.6 375,381.6 378,381.6 381,381.6 384,381.5 387,381.3 390,381 393,380.7 396,380.5 399,380.2 402,379.9 405,379.6 408,379.3 411,379 414,378.7 417,378.4 420,378.1 423,377.9 426,377.7 429,377.4 432,377.2 435,377 438,376.8 440,376.7 442,376.7 442,544.5 -1,544.5Z" fill="#DEB887"/>
<path d="M-1,383 0,383 3,383.1 6,383.2 9,383.3 12,383.5 15,383.6 18,383.7 21,383.9 24,384 27,384.2 30,384.3 33,384.5 36,384.7 39,385 42,385.2 45,385.4 48,385.5 51,385.7 54,385.8 57,385.9 60,386 63,386.1 66,386.1 69,386.2 72,386.3 75,386.3 78,386.3 81,386.3 84,386.2 87,386 90,385.9 93,385.7 96,385.5 99,385.4 102,385.2 105,385.1 108,385 111,385 114,385.2 117,385.6 120,386 123,386.6 126,387.1 129,387.7 132,388.4 135,389.1 138,389.7 141,390.3 144,390.8 147,391.2 150,391.7 153,392.1 156,392.3 159,392.4 162,392.4 165,392.4 168,392.4 171,392.4 174,392.4 177,392.4 180,392.4 183,392.1 186,391.7 189,391.3 192,390.8 195,390.4 198,390 201,389.6 204,389.3 207,388.9 210,388.6 213,388.3 216,388 219,387.7 222,387.4 225,387.2 228,386.9 231,386.7 234,386.5 237,386.2 240,386 243,385.8 246,385.6 249,385.4 252,385.2 255,384.9 258,384.7 261,384.5 264,384.3 267,384.1 270,384 273,384 276,383.9 279,383.9 282,383.9 285,383.9 288,383.8 291,383.8 294,383.8 297,383.8 300,383.8 303,384 306,384.3 309,384.7 312,385.1 315,385.5 318,385.8 321,386.1 324,386.4 327,386.7 330,387 333,387.2 336,387.3 339,387.3 342,387.2 345,387.2 348,387 351,386.9 354,386.8 357,386.6 360,386.5 363,386.4 366,386.2 369,386 372,385.8 375,385.7 378,385.5 381,385.3 384,385.1 387,384.9 390,384.7 393,384.4 396,384.2 399,384 402,383.8 405,383.5 408,383.3 411,383.1 414,383 417,382.9 420,382.9 423,382.9 426,382.9 429,382.9 432,382.9 435,382.9 438,383 440,383 442,383 442,544.5 -1,544.5Z" fill="#FFE000"/>
<path d="M-1,390.5 0,390.5 3,391.1 6,391.8 9,392.4 12,392.9 15,393.4 18,393.9 21,394.3 24,394.6 27,394.9 30,395.1 33,395.4 36,395.6 39,395.8 42,396 45,396.2 48,396.2 51,396.3 54,396.3 57,396.3 60,396.2 63,396.1 66,396 69,395.9 72,395.9 75,395.8 78,395.8 81,395.8 84,395.9 87,396.1 90,396.2 93,396.4 96,396.6 99,396.8 102,397 105,397.2 108,397.3 111,397.4 114,397.5 117,397.6 120,397.6 123,397.7 126,397.7 129,397.7 132,397.6 135,397.5 138,397.4 141,397.4 144,397.5 147,397.6 150,397.7 153,397.9 156,398 159,398 162,397.9 165,397.8 168,397.6 171,397.4 174,397.1 177,396.9 180,396.7 183,396.4 186,396.2 189,396 192,395.8 195,395.6 198,395.5 201,395.3 204,395.2 207,395.1 210,395 213,394.9 216,394.8 219,394.7 222,394.5 225,394.3 228,394 231,393.7 234,393.4 237,393.1 240,392.8 243,392.6 246,392.4 249,392.3 252,392.1 255,392 258,391.8 261,391.7 264,391.6 267,391.5 270,391.5 273,391.5 276,391.5 279,391.6 282,391.7 285,391.8 288,391.9 291,392 294,392.2 297,392.3 300,392.4 303,392.6 306,392.9 309,393.1 312,393.4 315,393.5 318,393.6 321,393.6 324,393.6 327,393.6 330,393.6 333,393.6 336,393.6 339,393.6 342,393.4 345,393.2 348,392.9 351,392.6 354,392.3 357,392 360,391.7 363,391.5 366,391.3 369,391.1 372,390.9 375,390.8 378,390.6 381,390.4 384,390.1 387,389.9 390,389.7 393,389.5 396,389.3 399,389.2 402,389 405,388.9 408,388.8 411,388.7 414,388.6 417,388.6 420,388.6 423,388.8 426,388.9 429,389.2 432,389.5 435,389.8 438,390.2 440,390.5 442,390.5 442,544.5 -1,544.5Z" fill="#FFA500"/>
<path d="M-1,395.6 0,395.6 3,396.4 6,397.2 9,397.9 12,398.6 15,399.2 18,399.7 21,400.2 24,400.5 27,400.8 30,401 33,401.2 36,401.4 39,401.5 42,401.7 45,401.8 48,401.9 51,401.9 54,401.9 57,401.8 60,401.6 63,401.3 66,401.1 69,400.8 72,400.6 75,400.5 78,400.4 81,400.4 84,400.6 87,400.7 90,400.9 93,401.2 96,401.4 99,401.7 102,402 105,402.2 108,402.4 111,402.5 114,402.7 117,402.8 120,403 123,403 126,403.1 129,403.1 132,403 135,402.8 138,402.6 141,402.5 144,402.4 147,402.3 150,402.2 153,402.1 156,401.9 159,401.8 162,401.6 165,401.3 168,401 171,400.6 174,400.3 177,400 180,399.7 183,399.5 186,399.3 189,399.1 192,398.9 195,398.8 198,398.7 201,398.6 204,398.6 207,398.6 210,398.5 213,398.5 216,398.5 219,398.4 222,398.4 225,398.3 228,398.1 231,398 234,397.9 237,397.8 240,397.7 243,397.6 246,397.6 249,397.6 252,397.6 255,397.6 258,397.7 261,397.7 264,397.8 267,397.8 270,397.9 273,397.9 276,398.1 279,398.2 282,398.5 285,398.8 288,399 291,399.3 294,399.6 297,399.8 300,399.9 303,400.1 306,400.2 309,400.4 312,400.5 315,400.6 318,400.6 321,400.5 324,400.3 327,400 330,399.6 333,399.2 336,398.8 339,398.5 342,398.1 345,397.8 348,397.4 351,397 354,396.7 357,396.3 360,396 363,395.7 366,395.4 369,395 372,394.7 375,394.5 378,394.3 381,394.1 384,393.9 387,393.8 390,393.7 393,393.6 396,393.5 399,393.4 402,393.3 405,393.2 408,393.1 411,393.1 414,393 417,393 420,393.1 423,393.2 426,393.5 429,393.8 432,394.2 435,394.7 438,395.2 440,395.6 442,395.6 442,544.5 -1,544.5Z" fill="#FF4500"/>
<path d="M-2,405.2 -1.2,405.3 -0.5,405.4 0.3,405.5 1.1,405.7 1.8,405.8 2.6,406 3.3,406.2 4.1,406.3 4.9,406.5 5.6,406.7 6.4,406.9 7.1,407.1 7.9,407.3 8.6,407.6 9.3,407.8 10.1,408 10.8,408.2 11.6,408.5 12.3,408.7 13.1,408.9 13.8,409.2 14.5,409.4 15.3,409.6 16,409.9 16.8,410.1 17.5,410.3 18.3,410.6 19,410.8 19.8,411 20.5,411.2 21.3,411.4 22,411.6 22.8,411.8 23.5,412 24.3,412.2 25,412.4 25.8,412.6 26.5,412.8 27.3,412.9 28,413.1 28.8,413.3 29.6,413.4 30.3,413.6 31.1,413.8 31.8,413.9 32.6,414.1 33.4,414.2 34.1,414.3 34.9,414.5 35.7,414.6 36.4,414.7 37.2,414.8 38,414.9 38.7,415 39.5,415.1 40.3,415.2 41.1,415.3 41.8,415.4 42.6,415.5 42.6,415.6 42.2,416.3 41.7,417 41.1,417.5 40.5,418 39.9,418.4 39.2,418.7 38.4,419 37.7,419.2 36.9,419.3 36.1,419.4 35.3,419.5 34.5,419.6 33.7,419.7 32.9,419.8 32.1,419.8 31.3,419.8 30.5,419.9 29.7,419.9 28.9,419.9 28.2,420 27.4,420 26.6,420 25.8,420 25,420.1 24.3,420.1 23.5,420.2 22.7,420.2 22,420.3 21.2,420.4 20.4,420.5 19.6,420.6 18.9,420.7 18.1,420.8 17.3,421 16.6,421.1 15.8,421.3 15,421.5 14.3,421.6 13.5,421.8 12.7,422 11.9,422.2 11.2,422.3 10.4,422.5 9.6,422.7 8.9,422.8 8.1,423 7.3,423.1 6.6,423.3 5.8,423.4 5,423.5 4.2,423.7 3.5,423.8 2.7,423.9 1.9,424 1.1,424.1 0.3,424.1 -0.4,424.2 -1.2,424.3 -2,424.3Z" fill="#B22222"/>
<path d="M315.1,415.5 316.6,413.8 318.2,412.4 320.1,411.3 322.1,410.4 324.2,409.6 326.3,408.9 328.5,408.3 330.6,407.7 332.7,407.1 334.8,406.6 337,406 339.1,405.4 341.2,404.8 343.3,404.2 345.4,403.6 347.6,403.1 349.7,402.6 351.9,402.3 354.1,401.9 356.3,401.7 358.5,401.4 360.7,401.2 362.9,401.1 365.1,400.9 367.3,400.8 369.5,400.7 371.7,400.7 373.9,400.6 376.1,400.6 378.3,400.6 380.5,400.6 382.7,400.6 384.9,400.7 387.1,400.7 389.3,400.8 391.5,400.9 393.7,401 395.9,401.1 398.1,401.2 400.3,401.3 402.5,401.5 404.7,401.6 406.9,401.7 409.1,401.9 411.3,402 413.5,402.2 415.7,402.4 417.9,402.6 420.1,402.8 422.3,403 424.5,403.2 426.7,403.4 428.9,403.6 431.1,403.9 433.3,404.1 435.4,404.4 437.6,404.6 439.8,404.9 442,405.2 442,424 439.9,423.8 437.7,423.5 435.5,423.3 433.4,423.1 431.2,422.9 429.1,422.8 426.9,422.6 424.8,422.5 422.6,422.4 420.5,422.3 418.3,422.2 416.1,422.1 414,422 411.8,421.9 409.7,421.9 407.5,421.8 405.3,421.8 403.2,421.8 401,421.7 398.9,421.7 396.7,421.7 394.5,421.7 392.4,421.7 390.2,421.7 388.1,421.7 385.9,421.7 383.7,421.7 381.6,421.7 379.4,421.7 377.3,421.7 375.1,421.7 372.9,421.7 370.8,421.7 368.6,421.7 366.4,421.7 364.3,421.7 362.1,421.7 360,421.7 357.8,421.7 355.6,421.6 353.5,421.6 351.3,421.5 349.1,421.4 347,421.3 344.8,421.1 342.7,420.9 340.5,420.7 338.4,420.4 336.3,420 334.1,419.6 332,419.2 329.9,418.8 327.8,418.3 325.7,417.8 323.6,417.4 321.4,416.9 319.3,416.4 317.2,416 315.1,415.6Z" fill="#B22222"/>
<path d="M150.8,413.5 151.6,412.7 153.8,411.7 156.7,410.9 159.5,410.1 161.9,409.4 164.1,408.9 166.1,408.4 168.1,408 170.2,407.6 172.4,407.3 174.7,407 177,406.8 179.3,406.6 181.6,406.5 183.9,406.4 186.2,406.4 188.4,406.4 190.7,406.4 193,406.4 195.3,406.5 197.6,406.7 199.9,406.9 202.1,407.2 204.2,407.5 206.2,408 208.4,408.6 210.8,409.4 213.5,410.4 215.4,411.7 215.4,413.3 213.7,415.1 211.4,416.3 209.2,417 207,417.3 204.8,417.5 202.6,417.7 200.4,417.9 198.1,418 195.8,418.2 193.5,418.3 191.2,418.4 189,418.5 186.7,418.5 184.5,418.5 182.2,418.4 179.9,418.3 177.6,418.2 175.3,418 172.9,417.8 170.6,417.6 168.4,417.3 166.3,417 164.2,416.7 162.2,416.3 160,415.9 157.4,415.4 154.6,414.8 152,414.2 150.8,413.5Z" fill="#B22222"/>
<path d="M20.5,452.4 20.7,451.8 21.3,451.3 22.1,450.9 23.1,450.6 24.1,450.4 25,450.2 25.9,450.1 26.7,450 27.5,450 28.2,450 29,450 29.8,450.1 30.7,450.2 31.5,450.3 32.3,450.5 33.1,450.7 33.9,451 34.6,451.2 35.3,451.6 36,451.9 36.8,452.2 37.6,452.5 38.6,452.7 39.7,453 40.7,453.1 41.8,453.3 42.6,453.4 43.2,453.6 43.5,453.7 43.4,453.8 42.9,453.9 42.2,454.1 41.2,454.2 40.2,454.4 39.1,454.6 38,454.8 37.1,455 36.2,455.3 35.4,455.5 34.7,455.8 34,456 33.2,456.2 32.5,456.3 31.7,456.3 30.9,456.3 30.1,456.3 29.2,456.2 28.4,456.1 27.5,456 26.7,455.9 25.9,455.8 25,455.6 24.3,455.5 23.5,455.2 22.7,454.9 22,454.4 21.3,453.8 20.7,453.1 20.5,452.4Z" fill="#B22222"/>
<path d="M13,449 13.5,448.6 14.2,448.4 14.9,448.4 15.5,448.6 15.9,449 16.2,449.6 16.4,450.3 16.5,451 16.6,451.6 16.6,452.3 16.5,452.9 16.4,453.5 16.2,454.1 15.9,454.8 15.4,455.4 15,455.8 14.5,456 14,455.8 13.5,455.4 13.1,454.7 12.8,454 12.6,453.4 12.5,452.7 12.5,452.1 12.5,451.5 12.5,450.8 12.6,450.2 12.7,449.5 13,449Z" fill="#B22222"/>
<path d="M350,449.5L353.5,452 357,451.8 360,453 363,451.5 365,448.8 368,446.8 372,446.2 385,445.9 395,446.3 398.5,447.5 400.4,450.9 398,453.5 393,455 385,455.8 374,455.6 368,454.8 364,454.2 359,454.8 354,454 351,452Z" fill="#B22222"/>
<path d="M-1,467.5 0,467.5 3,467.6 6,467.7 9,467.7 12,467.8 15,467.9 18,467.9 21,468 24,468 27,468 30,468 33,468 36,468 39,468 42,468 45,468 48,468 51,468 54,468 57,468 60,467.9 63,467.9 66,467.8 69,467.8 72,467.7 75,467.7 78,467.6 81,467.5 84,467.5 87,467.4 90,467.3 93,467.3 96,467.2 99,467.1 102,467 105,466.9 108,466.9 111,466.8 114,466.7 117,466.6 120,466.5 123,466.4 126,466.3 129,466.1 132,466 135,465.9 138,465.8 141,465.7 144,465.6 147,465.5 150,465.4 153,465.3 156,465.2 159,465.1 162,465 165,464.9 168,464.7 171,464.5 174,464.4 177,464.2 180,464 183,463.9 186,463.7 189,463.6 192,463.4 195,463.3 198,463.1 201,463 204,462.9 207,462.8 210,462.6 213,462.5 216,462.4 219,462.2 222,462.1 225,461.9 228,461.8 231,461.6 234,461.4 237,461.2 240,461.1 243,461 246,461 249,461 252,461 255,461 258,461 261,461 264,461 267,461 270,461 273,461 276,461 279,461.1 282,461.3 285,461.4 288,461.6 291,461.8 294,462 297,462.1 300,462.3 303,462.5 306,462.7 309,462.9 312,463.1 315,463.4 318,463.6 321,463.8 324,464.1 327,464.3 330,464.5 333,464.7 336,464.9 339,465.2 342,465.4 345,465.6 348,465.8 351,466 354,466.1 357,466.2 360,466.3 363,466.4 366,466.5 369,466.6 372,466.6 375,466.7 378,466.7 381,466.8 384,466.8 387,466.9 390,466.9 393,466.9 396,467 399,467 402,467 405,467.1 408,467.1 411,467.1 414,467.2 417,467.2 420,467.2 423,467.3 426,467.3 429,467.4 432,467.4 435,467.4 438,467.5 440,467.5 442,467.5 442,544.5 -1,544.5Z" fill="#FFA500"/>
<path d="M-1,472.3 0,472.3 3,472.4 6,472.4 9,472.5 12,472.5 15,472.6 18,472.7 21,472.7 24,472.8 27,472.8 30,472.9 33,472.9 36,473 39,473.1 42,473.1 45,473.2 48,473.2 51,473.2 54,473.2 57,473.2 60,473.1 63,473.1 66,473 69,473 72,472.9 75,472.9 78,472.8 81,472.8 84,472.7 87,472.7 90,472.6 93,472.6 96,472.5 99,472.5 102,472.4 105,472.4 108,472.3 111,472.3 114,472.2 117,472.1 120,472 123,471.9 126,471.8 129,471.7 132,471.6 135,471.5 138,471.4 141,471.3 144,471.2 147,471.1 150,471 153,470.9 156,470.8 159,470.7 162,470.6 165,470.5 168,470.4 171,470.3 174,470.2 177,470 180,469.9 183,469.8 186,469.8 189,469.7 192,469.6 195,469.5 198,469.5 201,469.4 204,469.4 207,469.3 210,469.3 213,469.2 216,469.2 219,469.1 222,469 225,468.9 228,468.8 231,468.6 234,468.5 237,468.3 240,468.2 243,468.1 246,468 249,467.9 252,467.8 255,467.8 258,467.7 261,467.6 264,467.6 267,467.5 270,467.5 273,467.5 276,467.5 279,467.6 282,467.7 285,467.9 288,468 291,468.2 294,468.3 297,468.5 300,468.6 303,468.7 306,468.9 309,469 312,469.2 315,469.4 318,469.5 321,469.7 324,469.9 327,470 330,470.2 333,470.4 336,470.5 339,470.7 342,470.9 345,471 348,471.2 351,471.3 354,471.4 357,471.5 360,471.6 363,471.7 366,471.7 369,471.8 372,471.8 375,471.9 378,471.9 381,472 384,472 387,472.1 390,472.1 393,472.2 396,472.2 399,472.2 402,472.3 405,472.3 408,472.3 411,472.3 414,472.3 417,472.3 420,472.3 423,472.3 426,472.3 429,472.3 432,472.3 435,472.3 438,472.3 440,472.3 442,472.3 442,544.5 -1,544.5Z" fill="#FFE000"/>
<path d="M-1,479.3 0,479.3 3,479.3 6,479.4 9,479.4 12,479.5 15,479.5 18,479.6 21,479.6 24,479.7 27,479.7 30,479.8 33,479.8 36,479.9 39,479.9 42,480 45,480 48,480.1 51,480.1 54,480.1 57,480.1 60,480 63,480 66,479.9 69,479.9 72,479.8 75,479.7 78,479.7 81,479.7 84,479.6 87,479.6 90,479.6 93,479.5 96,479.5 99,479.4 102,479.4 105,479.4 108,479.3 111,479.3 114,479.2 117,479.2 120,479.1 123,479.1 126,479 129,478.9 132,478.9 135,478.8 138,478.8 141,478.7 144,478.6 147,478.6 150,478.5 153,478.5 156,478.4 159,478.4 162,478.4 165,478.4 168,478.4 171,478.5 174,478.6 177,478.6 180,478.7 183,478.8 186,478.9 189,478.9 192,479 195,479 198,479.1 201,479.2 204,479.2 207,479.3 210,479.4 213,479.4 216,479.4 219,479.4 222,479.4 225,479.4 228,479.3 231,479.1 234,479 237,478.8 240,478.6 243,478.5 246,478.4 249,478.3 252,478.2 255,478.2 258,478.1 261,478 264,478 267,477.9 270,477.9 273,477.9 276,477.9 279,478 282,478 285,478.1 288,478.1 291,478.2 294,478.3 297,478.4 300,478.5 303,478.6 306,478.8 309,479 312,479.2 315,479.4 318,479.6 321,479.8 324,480 327,480.1 330,480.1 333,480.1 336,480.1 339,480.1 342,480.1 345,480.1 348,480.1 351,480.1 354,480.1 357,480.1 360,480.1 363,480 366,479.9 369,479.8 372,479.6 375,479.5 378,479.4 381,479.3 384,479.3 387,479.2 390,479.1 393,479.1 396,479 399,479 402,478.9 405,478.9 408,478.9 411,478.9 414,478.9 417,478.9 420,478.9 423,479 426,479 429,479.1 432,479.1 435,479.2 438,479.2 440,479.3 442,479.3 442,544.5 -1,544.5Z" fill="#DEB887"/>
<path d="M-1,484 0,484 3,484 6,484.1 9,484.1 12,484.2 15,484.2 18,484.2 21,484.3 24,484.3 27,484.3 30,484.3 33,484.4 36,484.4 39,484.4 42,484.5 45,484.5 48,484.5 51,484.5 54,484.5 57,484.5 60,484.4 63,484.4 66,484.3 69,484.2 72,484.1 75,484.1 78,484 81,483.9 84,483.9 87,483.8 90,483.8 93,483.7 96,483.7 99,483.6 102,483.6 105,483.5 108,483.5 111,483.4 114,483.4 117,483.3 120,483.3 123,483.2 126,483.2 129,483.1 132,483.1 135,483.1 138,483.1 141,483.1 144,483.1 147,483.1 150,483.1 153,483.1 156,483.1 159,483.1 162,483.1 165,483.1 168,483.2 171,483.3 174,483.4 177,483.6 180,483.7 183,483.9 186,484 189,484.1 192,484.3 195,484.4 198,484.6 201,484.8 204,484.9 207,485.1 210,485.2 213,485.3 216,485.4 219,485.4 222,485.4 225,485.4 228,485.3 231,485.2 234,485.2 237,485.1 240,485 243,484.9 246,484.8 249,484.7 252,484.6 255,484.5 258,484.4 261,484.3 264,484.2 267,484.1 270,484.1 273,484.1 276,484.1 279,484.1 282,484.2 285,484.2 288,484.3 291,484.4 294,484.4 297,484.5 300,484.5 303,484.6 306,484.7 309,484.8 312,485 315,485.1 318,485.2 321,485.3 324,485.3 327,485.4 330,485.4 333,485.4 336,485.4 339,485.4 342,485.4 345,485.4 348,485.4 351,485.4 354,485.4 357,485.4 360,485.4 363,485.3 366,485.2 369,485 372,484.9 375,484.8 378,484.6 381,484.5 384,484.4 387,484.4 390,484.3 393,484.2 396,484.1 399,484.1 402,484 405,484 408,484 411,484 414,484 417,484 420,484 423,484 426,484 429,484 432,484 435,484 438,484 440,484 442,484 442,544.5 -1,544.5Z" fill="#F5E6BE"/>
<path d="M-1,488.8 0,488.8 3,488.8 6,488.8 9,488.8 12,488.8 15,488.8 18,488.8 21,488.8 24,488.8 27,488.8 30,488.8 33,488.8 36,488.8 39,488.8 42,488.8 45,488.8 48,488.8 51,488.8 54,488.8 57,488.8 60,488.7 63,488.6 66,488.5 69,488.4 72,488.3 75,488.3 78,488.2 81,488.2 84,488.1 87,488.1 90,488 93,488 96,488 99,487.9 102,487.9 105,487.9 108,487.8 111,487.8 114,487.7 117,487.7 120,487.6 123,487.6 126,487.5 129,487.5 132,487.4 135,487.4 138,487.4 141,487.4 144,487.5 147,487.5 150,487.6 153,487.7 156,487.8 159,487.9 162,488 165,488.1 168,488.2 171,488.4 174,488.6 177,488.8 180,488.9 183,489.1 186,489.3 189,489.5 192,489.6 195,489.8 198,490 201,490.3 204,490.5 207,490.7 210,490.8 213,491 216,491.1 219,491.1 222,491.1 225,491.1 228,491.1 231,491.1 234,491 237,491 240,491 243,490.9 246,490.9 249,490.8 252,490.8 255,490.7 258,490.5 261,490.4 264,490.3 267,490.3 270,490.2 273,490.2 276,490.2 279,490.2 282,490.2 285,490.2 288,490.2 291,490.2 294,490.2 297,490.2 300,490.2 303,490.2 306,490.3 309,490.3 312,490.4 315,490.4 318,490.5 321,490.5 324,490.6 327,490.6 330,490.6 333,490.6 336,490.6 339,490.5 342,490.5 345,490.4 348,490.4 351,490.3 354,490.2 357,490.2 360,490.1 363,490 366,489.9 369,489.8 372,489.7 375,489.6 378,489.5 381,489.4 384,489.3 387,489.2 390,489.1 393,488.9 396,488.8 399,488.7 402,488.6 405,488.5 408,488.5 411,488.5 414,488.5 417,488.5 420,488.5 423,488.5 426,488.6 429,488.6 432,488.6 435,488.7 438,488.7 440,488.8 442,488.8 442,544.5 -1,544.5Z" fill="#90BA32"/>
<path d="M-1,492.3 0,492.3 3,492.3 6,492.3 9,492.3 12,492.3 15,492.3 18,492.2 21,492.2 24,492.2 27,492.2 30,492.2 33,492.2 36,492.1 39,492.1 42,492.1 45,492.1 48,492 51,492 54,492 57,491.9 60,491.8 63,491.7 66,491.6 69,491.6 72,491.5 75,491.4 78,491.3 81,491.2 84,491.2 87,491.1 90,491.1 93,491 96,491 99,490.9 102,490.9 105,490.8 108,490.8 111,490.7 114,490.7 117,490.6 120,490.5 123,490.4 126,490.3 129,490.3 132,490.2 135,490.2 138,490.2 141,490.2 144,490.3 147,490.4 150,490.5 153,490.6 156,490.7 159,490.8 162,490.9 165,491 168,491.2 171,491.4 174,491.7 177,491.9 180,492.2 183,492.4 186,492.7 189,492.9 192,493.1 195,493.3 198,493.6 201,493.8 204,494 207,494.2 210,494.4 213,494.6 216,494.8 219,494.9 222,494.9 225,495 228,495.1 231,495.1 234,495.2 237,495.2 240,495.3 243,495.3 246,495.3 249,495.3 252,495.2 255,495.2 258,495.1 261,495.1 264,495 267,494.9 270,494.9 273,494.9 276,494.9 279,494.9 282,494.9 285,494.9 288,494.9 291,494.9 294,494.9 297,494.9 300,494.9 303,494.9 306,494.9 309,494.9 312,494.9 315,494.9 318,494.9 321,494.9 324,494.9 327,494.9 330,494.9 333,494.9 336,494.9 339,494.8 342,494.8 345,494.7 348,494.6 351,494.5 354,494.5 357,494.4 360,494.3 363,494.1 366,494 369,493.8 372,493.7 375,493.5 378,493.4 381,493.2 384,493.1 387,493 390,492.8 393,492.7 396,492.6 399,492.5 402,492.4 405,492.3 408,492.3 411,492.3 414,492.3 417,492.3 420,492.3 423,492.3 426,492.3 429,492.3 432,492.3 435,492.3 438,492.3 440,492.3 442,492.3 442,544.5 -1,544.5Z" fill="#BCEE68"/>
<path d="M-1,496.3 0,496.3 3,496.3 6,496.2 9,496.2 12,496.1 15,496.1 18,496.1 21,496 24,496 27,496 30,496 33,495.9 36,495.9 39,495.9 42,495.9 45,495.9 48,495.8 51,495.8 54,495.8 57,495.7 60,495.6 63,495.5 66,495.3 69,495.2 72,495.1 75,495 78,494.9 81,494.8 84,494.8 87,494.7 90,494.7 93,494.6 96,494.6 99,494.5 102,494.5 105,494.4 108,494.3 111,494.3 114,494.2 117,494.1 120,494 123,493.9 126,493.8 129,493.8 132,493.7 135,493.7 138,493.7 141,493.7 144,493.8 147,493.9 150,494 153,494.2 156,494.3 159,494.5 162,494.6 165,494.8 168,495 171,495.2 174,495.5 177,495.7 180,496 183,496.3 186,496.5 189,496.8 192,497 195,497.3 198,497.6 201,497.9 204,498.2 207,498.5 210,498.7 213,498.9 216,499.1 219,499.3 222,499.4 225,499.4 228,499.5 231,499.6 234,499.7 237,499.7 240,499.8 243,499.8 246,499.8 249,499.8 252,499.8 255,499.8 258,499.8 261,499.8 264,499.8 267,499.8 270,499.8 273,499.8 276,499.8 279,499.8 282,499.8 285,499.8 288,499.8 291,499.8 294,499.8 297,499.8 300,499.8 303,499.8 306,499.8 309,499.8 312,499.8 315,499.7 318,499.7 321,499.7 324,499.7 327,499.6 330,499.6 333,499.6 336,499.5 339,499.4 342,499.4 345,499.3 348,499.2 351,499.1 354,499 357,498.9 360,498.7 363,498.6 366,498.4 369,498.2 372,498.1 375,497.9 378,497.7 381,497.6 384,497.4 387,497.2 390,497 393,496.9 396,496.7 399,496.5 402,496.4 405,496.3 408,496.3 411,496.3 414,496.3 417,496.3 420,496.3 423,496.3 426,496.3 429,496.3 432,496.3 435,496.3 438,496.3 440,496.3 442,496.3 442,544.5 -1,544.5Z" fill="#20B2AA"/>
<path d="M-1,500.1 0,500.1 3,500.1 6,500 9,500 12,499.9 15,499.9 18,499.8 21,499.8 24,499.7 27,499.7 30,499.6 33,499.6 36,499.6 39,499.5 42,499.5 45,499.4 48,499.4 51,499.3 54,499.3 57,499.2 60,499.1 63,498.9 66,498.8 69,498.7 72,498.6 75,498.5 78,498.4 81,498.3 84,498.2 87,498.2 90,498.1 93,498 96,498 99,497.9 102,497.9 105,497.8 108,497.7 111,497.7 114,497.6 117,497.5 120,497.5 123,497.4 126,497.3 129,497.3 132,497.2 135,497.2 138,497.2 141,497.3 144,497.4 147,497.5 150,497.7 153,497.8 156,498 159,498.2 162,498.4 165,498.6 168,498.8 171,499 174,499.3 177,499.5 180,499.8 183,500.1 186,500.3 189,500.6 192,500.9 195,501.2 198,501.5 201,501.9 204,502.2 207,502.5 210,502.8 213,503.1 216,503.4 219,503.5 222,503.7 225,503.8 228,504 231,504.1 234,504.2 237,504.3 240,504.3 243,504.4 246,504.5 249,504.6 252,504.7 255,504.7 258,504.8 261,504.9 264,504.9 267,505 270,505 273,505 276,505 279,505 282,505 285,505 288,505 291,505 294,505 297,505 300,505 303,505 306,505 309,504.9 312,504.9 315,504.8 318,504.8 321,504.7 324,504.6 327,504.6 330,504.5 333,504.4 336,504.3 339,504.3 342,504.2 345,504.1 348,503.9 351,503.8 354,503.7 357,503.6 360,503.4 363,503.2 366,503 369,502.8 372,502.6 375,502.4 378,502.2 381,502 384,501.8 387,501.6 390,501.4 393,501.2 396,501 399,500.8 402,500.7 405,500.6 408,500.5 411,500.4 414,500.4 417,500.3 420,500.3 423,500.2 426,500.2 429,500.2 432,500.1 435,500.1 438,500.1 440,500.1 442,500.1 442,544.5 -1,544.5Z" fill="#B0E0E6"/>
<path d="M-1,505 0,505 3,504.9 6,504.8 9,504.8 12,504.7 15,504.6 18,504.5 21,504.4 24,504.4 27,504.3 30,504.2 33,504.1 36,504 39,504 42,503.9 45,503.8 48,503.7 51,503.6 54,503.5 57,503.4 60,503.3 63,503.2 66,503.1 69,503 72,502.9 75,502.8 78,502.7 81,502.6 84,502.6 87,502.5 90,502.5 93,502.4 96,502.3 99,502.3 102,502.3 105,502.2 108,502.2 111,502.1 114,502.1 117,502.1 120,502 123,502 126,502 129,501.9 132,501.9 135,501.9 138,501.9 141,502 144,502.1 147,502.3 150,502.6 153,502.8 156,503.1 159,503.4 162,503.6 165,503.8 168,504.1 171,504.4 174,504.7 177,505 180,505.3 183,505.7 186,506 189,506.3 192,506.6 195,507 198,507.4 201,507.7 204,508.1 207,508.5 210,508.8 213,509.1 216,509.4 219,509.6 222,509.8 225,510 228,510.1 231,510.3 234,510.4 237,510.5 240,510.6 243,510.8 246,510.9 249,511 252,511.2 255,511.3 258,511.5 261,511.6 264,511.8 267,511.9 270,512 273,512 276,512.1 279,512.1 282,512.2 285,512.2 288,512.2 291,512.3 294,512.3 297,512.3 300,512.3 303,512.3 306,512.2 309,512.2 312,512.1 315,512 318,511.9 321,511.8 324,511.6 327,511.5 330,511.4 333,511.3 336,511.1 339,510.9 342,510.7 345,510.5 348,510.3 351,510.1 354,509.9 357,509.6 360,509.4 363,509.1 366,508.8 369,508.5 372,508.3 375,508 378,507.7 381,507.5 384,507.2 387,507 390,506.8 393,506.6 396,506.3 399,506.1 402,506 405,505.8 408,505.7 411,505.6 414,505.5 417,505.4 420,505.3 423,505.2 426,505.2 429,505.1 432,505.1 435,505 438,505 440,505 442,505 442,544.5 -1,544.5Z" fill="#7A9AEF"/>
<path d="M-1,513.2 0,513.2 3,513.1 6,512.9 9,512.8 12,512.6 15,512.5 18,512.4 21,512.2 24,512.1 27,512 30,511.8 33,511.7 36,511.6 39,511.4 42,511.3 45,511.2 48,511.1 51,510.9 54,510.8 57,510.7 60,510.5 63,510.4 66,510.2 69,510.1 72,510 75,509.8 78,509.7 81,509.6 84,509.4 87,509.2 90,509.1 93,508.9 96,508.8 99,508.6 102,508.5 105,508.5 108,508.4 111,508.4 114,508.4 117,508.4 120,508.5 123,508.5 126,508.6 129,508.6 132,508.7 135,508.8 138,508.9 141,509 144,509.3 147,509.6 150,509.9 153,510.3 156,510.7 159,511 162,511.4 165,511.8 168,512.2 171,512.6 174,513 177,513.4 180,513.8 183,514.3 186,514.7 189,515 192,515.4 195,515.7 198,516.1 201,516.4 204,516.7 207,517 210,517.4 213,517.7 216,518 219,518.3 222,518.6 225,518.9 228,519.2 231,519.5 234,519.8 237,520.1 240,520.4 243,520.7 246,521 249,521.3 252,521.6 255,521.9 258,522.2 261,522.5 264,522.8 267,523.1 270,523.4 273,523.7 276,524 279,524.3 282,524.6 285,524.9 288,525.2 291,525.5 294,525.8 297,526.1 300,526.4 303,526.8 306,527.2 309,527.5 312,527.8 315,527.9 318,527.9 321,527.7 324,527.6 327,527.3 330,527.1 333,526.8 336,526.4 339,525.9 342,525.4 345,524.8 348,524.2 351,523.6 354,523 357,522.5 360,522 363,521.5 366,521 369,520.5 372,520 375,519.5 378,519 381,518.5 384,518.1 387,517.6 390,517.2 393,516.7 396,516.3 399,515.9 402,515.5 405,515.2 408,514.9 411,514.7 414,514.4 417,514.2 420,514 423,513.8 426,513.7 429,513.5 432,513.4 435,513.3 438,513.2 440,513.2 442,513.2 442,544.5 -1,544.5Z" fill="#4064E0"/>
</g>
<g clip-path="url(#cf2)">
<rect x="0" y="598" width="442" height="230" fill="#B22222"/>
<path d="M-1,614.8 0,614.8 3,615.1 6,615.4 9,615.6 12,615.9 15,616.2 18,616.5 21,616.9 24,617.2 27,617.5 30,617.9 33,618.3 36,618.8 39,619.2 42,619.7 45,620 48,620.3 51,620.5 54,620.5 57,620.6 60,620.6 63,620.6 66,620.7 69,620.7 72,620.7 75,620.8 78,620.9 81,621 84,621.1 87,621.2 90,621.2 93,621.3 96,621.3 99,621.2 102,620.9 105,620.6 108,620.4 111,620.1 114,619.9 117,619.7 120,619.5 123,619.3 126,619.2 129,619.2 132,619.5 135,619.8 138,620.1 141,620.4 144,620.6 147,620.6 150,620.5 153,620.5 156,620.3 159,620.2 162,620 165,619.1 168,617.8 171,617.6 174,617.6 177,617.5 180,617.4 183,617.4 186,617.4 189,617.4 192,617.4 195,617.4 198,617.4 201,617.4 204,617.4 207,617.4 210,617.4 213,617.5 216,617.5 219,617.5 222,617.5 225,617.6 228,617.7 231,617.8 234,617.9 237,618 240,618.1 243,618.2 246,618.2 249,618.2 252,618.1 255,618 258,617.8 261,617.7 264,617.5 267,617.3 270,617.1 273,616.9 276,616.7 279,616.5 282,616.3 285,616 288,615.7 291,615.4 294,615.2 297,614.9 300,614.6 303,614.3 306,614 309,613.7 312,613.4 315,613.1 318,612.8 321,612.5 324,612.2 327,612 330,611.8 333,611.6 336,611.5 339,611.4 342,611.3 345,611.2 348,611.1 351,611 354,610.9 357,610.8 360,610.6 363,610.4 366,610.2 369,610.1 372,609.9 375,609.8 378,609.7 381,609.6 384,609.6 387,609.6 390,609.7 393,609.7 396,609.8 399,609.8 402,609.9 405,610 408,610.1 411,610.3 414,610.6 417,610.9 420,611.4 423,611.8 426,612.3 429,612.7 432,613.2 435,613.8 438,614.4 440,614.8 442,614.8 442,824 -1,824Z" fill="#FFB6C1"/>
<path d="M164.8,645 165,644.4 165.7,644 166.7,643.6 167.9,643.3 169.1,643 170.2,642.7 171.2,642.4 172.1,642.1 172.9,641.9 173.7,641.7 174.5,641.5 175.3,641.4 176.1,641.3 176.9,641.2 177.8,641.2 178.7,641.1 179.6,641.1 180.6,641 181.7,640.8 182.9,640.6 184.2,640.3 185.5,640 186.8,639.8 188,639.5 189.1,639.4 189.9,639.4 190.5,639.7 190.8,640.2 190.7,640.9 190.3,641.8 189.6,642.6 188.9,643.2 188.1,643.7 187.3,644.1 186.4,644.4 185.5,644.7 184.6,644.9 183.7,645.2 182.7,645.3 181.8,645.5 180.8,645.7 179.9,645.8 179,646 178,646.1 177.1,646.3 176.2,646.5 175.3,646.7 174.3,646.9 173.4,647.1 172.5,647.2 171.6,647.4 170.7,647.5 169.7,647.6 168.8,647.5 167.8,647.3 166.8,646.9 165.9,646.3 165.1,645.7 164.8,645Z" fill="#FF1493"/>
<path d="M200.8,638.7 201.6,637.6 203.9,636.4 206.5,635.3 208.8,634.3 210.7,633.6 212.6,633 214.5,632.5 216.6,632.1 218.8,631.8 221,631.5 223.3,631.3 225.6,631.1 227.9,631 230.2,630.9 232.5,630.8 234.8,630.8 237,630.8 239.2,630.8 241.3,630.9 243.3,631 245.3,631.1 247.2,631.3 249.1,631.5 251.2,631.8 253.5,632.1 256.2,632.4 259.2,632.8 261.9,633.3 263.5,634 263.4,635 261.5,636 258.9,637 256.6,637.7 254.6,638.3 252.6,638.7 250.5,639.1 248.5,639.5 246.3,640 244.1,640.4 241.9,640.9 239.7,641.4 237.5,641.8 235.4,642.2 233.2,642.6 231,642.9 228.9,643.1 226.7,643.1 224.5,643 222.2,642.8 220,642.5 217.8,642.2 215.7,641.8 213.6,641.4 211.6,641 209.6,640.7 207.5,640.4 205,640 202.3,639.5 200.8,638.7Z" fill="#FF1493"/>
<path d="M318.5,628 319.8,626.5 322.6,625.4 325.6,624.6 328,624 330.3,623.4 332.7,622.9 335.2,622.4 337.7,621.9 340.3,621.4 342.9,621 345.5,620.7 348.1,620.4 350.7,620.3 353.3,620.2 355.8,620.2 358.4,620.2 360.9,620.3 363.5,620.4 366,620.6 368.6,620.7 371.2,620.9 373.7,621.1 376.3,621.3 378.8,621.5 381.4,621.7 384,621.9 386.6,622.1 389.1,622.3 391.7,622.6 394.2,622.8 396.8,623.1 399.3,623.5 401.8,623.9 404.3,624.3 406.8,624.7 409.3,625.1 411.8,625.5 414.4,625.8 417.1,626.1 419.8,626.4 422.4,626.8 424.8,627.7 426.9,629.1 428.3,631.2 427.5,633 425.1,634.4 422,635.5 418.8,636.5 416.1,637.3 413.7,638.1 411.4,638.8 409.2,639.5 407,640.1 404.6,640.7 402.1,641.3 399.6,641.8 397,642.3 394.4,642.8 391.8,643.2 389.2,643.7 386.7,644.1 384.1,644.5 381.6,644.9 379.1,645.2 376.5,645.3 374,645.4 371.4,645.3 368.8,645.2 366.3,645 363.7,644.7 361.1,644.3 358.6,644 356.1,643.5 353.6,643 351.1,642.4 348.6,641.8 346.1,641.1 343.7,640.3 341.3,639.4 338.9,638.4 336.5,637.3 334.1,636.2 331.8,635.2 329.5,634.3 327.2,633.5 324.9,632.6 322.4,631.4 319.8,629.8 318.5,628Z" fill="#FF1493"/>
<path d="M-1,638.8 0,638.8 3,638.7 6,638.7 9,638.7 12,638.6 15,638.6 18,638.6 21,638.6 24,638.6 27,638.6 30,638.9 33,639.3 36,639.8 39,640.4 42,641 45,641.5 48,641.8 51,642 54,642.1 57,642.2 60,642.3 63,642.4 66,642.5 69,642.5 72,642.6 75,642.6 78,642.6 81,642.6 84,642.4 87,642.1 90,641.7 93,641.2 96,640.6 99,640.1 102,639.7 105,639.4 108,639.1 111,639.1 114,639.1 117,639.2 120,639.3 123,639.4 126,639.5 129,639.9 132,641.1 135,642.8 138,644.8 141,647.3 144,649.8 147,651.9 150,653.9 153,655.4 156,656.7 159,657.7 162,658.2 165,658.2 168,658.2 171,658.2 174,658.1 177,657.7 180,657.3 183,656.9 186,656.6 189,656.5 192,656.4 195,656.4 198,656.3 201,656.3 204,656.3 207,656.2 210,656.2 213,656.2 216,656.1 219,656 222,655.9 225,655.7 228,655.3 231,654.9 234,654.5 237,654 240,653.4 243,652.7 246,651.9 249,651.1 252,650.2 255,649.4 258,648.7 261,647.8 264,647 267,646.2 270,645.6 273,645 276,644.5 279,644.1 282,643.6 285,643.3 288,643.1 291,643.1 294,643.3 297,643.5 300,643.8 303,644.1 306,644.3 309,644.4 312,644.4 315,644.5 318,644.5 321,644.6 324,644.6 327,644.7 330,644.8 333,645.1 336,645.6 339,646.2 342,646.8 345,647.4 348,647.9 351,648.3 354,648.7 357,649 360,649.3 363,649.5 366,649.5 369,649.4 372,649.3 375,649.2 378,649 381,648.8 384,648.5 387,648.3 390,647.9 393,647.5 396,647.1 399,646.7 402,646.2 405,645.7 408,645.1 411,644.6 414,644 417,643.4 420,642.8 423,642.2 426,641.6 429,641 432,640.4 435,639.8 438,639.2 440,638.8 442,638.8 442,824 -1,824Z" fill="#B22222"/>
<path d="M-1,644.1 0,644.1 3,644.1 6,644.2 9,644.3 12,644.4 15,644.5 18,644.7 21,644.9 24,645.1 27,645.4 30,645.9 33,646.5 36,647.2 39,648 42,649 45,650 48,651 51,651.6 54,652 57,652.3 60,652.6 63,652.7 66,652.7 69,652.7 72,652.7 75,652.7 78,652.7 81,652.6 84,652.3 87,651.6 90,650.9 93,650.3 96,649.9 99,649.6 102,649.3 105,649.1 108,648.9 111,648.9 114,649 117,649.2 120,649.5 123,650.1 126,651.2 129,652.6 132,654.3 135,656.6 138,659.1 141,660.6 144,661.6 147,662.1 150,662.5 153,662.6 156,662.6 159,662.6 162,662.6 165,662.6 168,662.4 171,661.9 174,661.4 177,661 180,660.8 183,660.6 186,660.5 189,660.4 192,660.3 195,660.2 198,660.2 201,660.2 204,660.3 207,660.4 210,660.5 213,660.6 216,660.7 219,660.7 222,660.7 225,660.6 228,660.5 231,660.3 234,660 237,659.7 240,659.2 243,658.1 246,657 249,656 252,655.2 255,654.3 258,653.6 261,653 264,652.5 267,652.1 270,651.7 273,651.2 276,650.7 279,650.1 282,649.5 285,649.1 288,648.8 291,648.8 294,648.8 297,648.9 300,648.9 303,648.9 306,649 309,649 312,649.1 315,649.1 318,649.2 321,649.2 324,649.3 327,649.4 330,649.5 333,649.6 336,649.8 339,650 342,650.3 345,650.5 348,650.7 351,651 354,651.3 357,651.7 360,651.9 363,652.1 366,652.1 369,652.1 372,652.1 375,652.1 378,652.1 381,652.1 384,652.1 387,651.9 390,651.7 393,651.4 396,651.1 399,650.8 402,650.4 405,650.1 408,649.6 411,649.2 414,648.8 417,648.3 420,647.8 423,647.3 426,646.8 429,646.2 432,645.7 435,645.1 438,644.5 440,644.1 442,644.1 442,824 -1,824Z" fill="#FF4500"/>
<path d="M-1,649.1 0,649.1 3,648.7 6,648.4 9,648.3 12,648.3 15,648.4 18,648.7 21,649.3 24,649.9 27,650.6 30,651.7 33,653.1 36,654.5 39,655.8 42,657.2 45,658.6 48,660 51,661.2 54,662.3 57,663.4 60,664.3 63,664.8 66,665 69,665.2 72,665.3 75,665.4 78,665.5 81,665.5 84,665.2 87,664.7 90,664.1 93,663.5 96,663.1 99,662.5 102,662.1 105,661.9 108,662.1 111,662.4 114,662.9 117,663.4 120,664.1 123,664.8 126,665.5 129,666.2 132,667.2 135,668.1 138,668.7 141,668.9 144,668.7 147,668.3 150,667.9 153,667.6 156,667.3 159,667.1 162,666.9 165,666.6 168,666.3 171,665.9 174,665.5 177,665.2 180,664.9 183,664.6 186,664.4 189,664.1 192,663.9 195,663.8 198,663.8 201,663.9 204,664.1 207,664.4 210,664.7 213,665 216,665.2 219,665.3 222,665.3 225,665.2 228,665.1 231,665 234,664.8 237,664.5 240,663.9 243,662.8 246,661.4 249,660.4 252,659.5 255,658.6 258,657.9 261,657.3 264,656.9 267,656.6 270,656.2 273,655.9 276,655.5 279,655.1 282,654.7 285,654.4 288,654.2 291,654.2 294,654.2 297,654.2 300,654.2 303,654.2 306,654.2 309,654.2 312,654.2 315,654.1 318,654.1 321,654 324,654 327,653.9 330,653.9 333,653.9 336,653.9 339,654 342,654.1 345,654.1 348,654.2 351,654.4 354,654.6 357,654.9 360,655.1 363,655.3 366,655.3 369,655.3 372,655.3 375,655.3 378,655.3 381,655.3 384,655.3 387,655 390,654.7 393,654.3 396,653.9 399,653.6 402,653.3 405,653 408,652.7 411,652.4 414,652.1 417,651.8 420,651.5 423,651.1 426,650.8 429,650.4 432,650.1 435,649.7 438,649.4 440,649.1 442,649.1 442,824 -1,824Z" fill="#FFA500"/>
<path d="M-1,653.6 0,653.6 3,653.1 6,652.8 9,652.7 12,652.7 15,652.8 18,653.3 21,654.1 24,654.9 27,655.8 30,657.1 33,658.5 36,660.1 39,661.5 42,663.1 45,664.7 48,666.2 51,667.5 54,668.6 57,669.7 60,670.6 63,671.1 66,671.4 69,671.6 72,671.8 75,671.9 78,672 81,672 84,671.8 87,671.6 90,671.3 93,671.1 96,671 99,670.9 102,670.9 105,670.8 108,670.8 111,670.8 114,671 117,671.4 120,671.9 123,672.4 126,672.9 129,673.1 132,673.4 135,673.6 138,673.8 141,673.9 144,674 147,674.1 150,674.2 153,674.2 156,674 159,673.6 162,673.2 165,672.7 168,672.2 171,671.6 174,671 177,670.5 180,670.2 183,669.8 186,669.5 189,669.3 192,669 195,668.9 198,668.9 201,669 204,669.3 207,669.6 210,669.9 213,670.2 216,670.5 219,670.6 222,670.6 225,670.4 228,670.2 231,669.9 234,669.6 237,669.2 240,668.6 243,667.8 246,667 249,666.1 252,665.2 255,664.2 258,663.2 261,662.3 264,661.3 267,661 270,661.1 273,661.3 276,661.7 279,662.4 282,663.2 285,664.1 288,664.9 291,665.5 294,666.2 297,666.9 300,667.3 303,667.3 306,666.7 309,665.7 312,664.6 315,663.6 318,662.8 321,661.9 324,661.1 327,660.5 330,660 333,659.7 336,659.4 339,659.2 342,659 345,658.8 348,658.7 351,658.6 354,658.4 357,658.3 360,658.3 363,658.2 366,658.2 369,658.2 372,658.2 375,658.2 378,658.2 381,658.2 384,658.2 387,657.9 390,657.6 393,657.2 396,656.9 399,656.5 402,656.3 405,656.1 408,655.9 411,655.7 414,655.5 417,655.3 420,655.1 423,654.9 426,654.6 429,654.4 432,654.2 435,654 438,653.8 440,653.6 442,653.6 442,824 -1,824Z" fill="#FFE000"/>
<path d="M-1,683.7 0,683.7 3,683.5 6,683.3 9,683.1 12,682.9 15,682.7 18,682.6 21,682.4 24,682.2 27,682 30,681.8 33,681.6 36,681.4 39,681.3 42,681.1 45,680.9 48,680.7 51,680.6 54,680.4 57,680.2 60,680 63,679.8 66,679.7 69,679.6 72,679.6 75,679.6 78,679.7 81,679.7 84,679.8 87,679.9 90,680 93,680.2 96,680.5 99,680.9 102,681.3 105,681.8 108,682.8 111,684 114,684.9 117,685.7 120,686.4 123,686.5 126,686.4 129,686.3 132,686.1 135,685.7 138,685.1 141,684.5 144,683.9 147,683.2 150,682.6 153,682.1 156,681.5 159,680.9 162,680.2 165,679.6 168,679.1 171,678.6 174,678.2 177,678 180,678 183,678.1 186,678.1 189,678.3 192,678.4 195,678.7 198,679.2 201,679.9 204,681.5 207,683.2 210,684.6 213,685.7 216,686.8 219,687.7 222,688.5 225,689.3 228,689.9 231,690.4 234,690.7 237,691 240,691.2 243,691.3 246,691.4 249,691.6 252,691.7 255,691.9 258,692.1 261,692.2 264,692.2 267,692.3 270,692.3 273,692.4 276,692.4 279,692.4 282,692.4 285,692.4 288,692.4 291,692.4 294,692.4 297,692.4 300,692.4 303,692.4 306,692.4 309,692.4 312,692.4 315,692.4 318,692.4 321,692.1 324,691.8 327,691.4 330,690.6 333,689.7 336,688.8 339,687.7 342,686.6 345,685.8 348,685.2 351,684.8 354,684.5 357,684.2 360,684.1 363,684.2 366,684.5 369,684.8 372,685 375,685 378,685 381,685 384,685 387,684.9 390,684.9 393,684.9 396,684.8 399,684.8 402,684.7 405,684.4 408,684.1 411,683.8 414,683.5 417,683.4 420,683.4 423,683.4 426,683.4 429,683.4 432,683.5 435,683.5 438,683.6 440,683.7 442,683.7 442,824 -1,824Z" fill="#DEB887"/>
<ellipse cx="428.5" cy="693.4" rx="6.3" ry="2.5" fill="#F5E6BE"/>
<path d="M304.3,740.4 304.8,739.2 305.9,738.2 307.2,737.4 308.5,736.9 309.8,736.5 311.2,736.3 312.6,736.1 313.9,736 315.3,735.9 316.8,735.8 318.2,735.8 319.6,735.8 321,735.8 322.4,735.8 323.7,735.9 325.1,736.1 326.5,736.3 327.9,736.6 329.2,736.9 330.6,737.4 331.8,737.9 333.1,738.6 334.2,739.4 335.3,740.3 336.3,741.3 337.2,742.4 337.9,743.7 338.3,745 338.2,746.3 337.7,747.7 337,748.9 336,750 335,751 333.9,751.8 332.6,752.5 331.4,753.1 330,753.5 328.7,753.8 327.3,754 325.9,754 324.5,753.9 323.1,753.7 321.7,753.4 320.4,753 319,752.5 317.8,752 316.5,751.4 315.3,750.7 314,750 312.8,749.3 311.7,748.5 310.5,747.7 309.4,746.9 308.4,746 307.4,745 306.5,744 305.5,742.9 304.6,741.6 304.3,740.4Z" fill="#F5E6BE"/>
<ellipse cx="182.8" cy="742.3" rx="29.7" ry="6.8" fill="#FFE000"/>
<ellipse cx="269" cy="745.3" rx="16" ry="6.3" fill="#FFE000" transform="rotate(4 269 745.3)"/>
<path d="M-2,757.2 3.2,756.4 8.4,755.4 13.5,754.3 18.6,753.1 23.7,751.7 28.8,750.4 34,749.4 39.2,748.9 44.5,748.8 49.7,749 55,749.3 60.3,749.6 65.5,749.8 70.8,750.1 76,750.4 81.3,750.6 86.5,750.8 91.8,751 97,751.1 102.3,751.2 107.6,751.2 112.8,751.2 118.1,751.1 123.4,751 128.6,750.9 133.9,750.8 139.1,750.7 144.4,750.7 149.7,750.6 154.9,750.5 160.2,750.5 165.4,750.5 170.7,750.5 176,750.6 181.2,750.7 186.5,750.8 191.7,750.9 197,751 202.2,751.1 207.5,751.2 212.8,751.2 218,751.2 223.3,751.1 228.6,751 233.8,751.1 239.1,751.3 244.3,751.8 249.5,752.5 254.7,753.4 259.9,754.3 265.1,755.2 270.3,756.1 275.4,757 280.6,757.7 285.9,758.3 291.2,758.7 296.4,759 301.6,759.8 306.5,761.7 306.5,762 301.7,764.2 296.8,766.1 291.8,767.8 286.8,769.4 281.7,770.9 276.6,772.3 271.5,773.5 266.3,774.5 261.1,775.3 255.9,775.9 250.6,776.4 245.3,776.8 240.1,777.1 234.8,777.3 229.5,777.4 224.3,777.5 219,777.5 213.7,777.4 208.4,777.3 203.2,777.2 197.9,777 192.6,776.7 187.4,776.5 182.1,776.2 176.8,775.9 171.6,775.6 166.3,775.3 161,775.1 155.8,774.9 150.5,774.8 145.2,774.7 140,774.7 134.7,774.8 129.4,775 124.1,775.2 118.9,775.4 113.6,775.7 108.3,775.9 103.1,776 97.8,776.1 92.5,776.1 87.2,776.1 82,776 76.7,775.9 71.4,775.7 66.2,775.4 60.9,775.1 55.6,774.8 50.4,774.4 45.1,773.9 39.9,773.4 34.6,772.9 29.4,772.2 24.2,771.5 18.9,770.8 13.7,770.1 8.5,769.5 3.2,768.8 -2,768.3Z" fill="#F5E6BE"/>
<path d="M359.5,756 359.6,754.3 359.9,752.8 360.4,751.3 361.1,749.9 362,748.5 363,747.3 364.1,746.2 365.3,745.2 366.6,744.2 368,743.4 369.4,742.7 370.9,742 372.4,741.5 373.9,741.1 375.5,740.7 377,740.4 378.6,740.2 380.2,740.1 381.8,740 383.4,740 385,740 386.6,740 388.1,740.1 389.7,740.2 391.3,740.4 392.9,740.6 394.4,740.8 396,741.1 397.6,741.4 399.1,741.7 400.7,742.1 402.2,742.5 403.7,742.9 405.2,743.5 406.7,744 408.2,744.7 409.6,745.4 410.9,746.2 412.3,747 413.6,747.9 415,748.7 416.3,749.6 417.7,750.3 419.1,751.1 420.5,751.8 422,752.4 423.5,753 425,753.6 426.5,754 428,754.5 429.5,754.9 431.1,755.3 432.6,755.6 434.2,755.9 435.7,756.2 437.3,756.5 438.9,756.7 440.4,757 442,757.2 442,768.3 440.6,768.5 439.2,768.5 437.8,768.5 436.4,768.4 435,768.3 433.6,768.1 432.2,767.9 430.8,767.6 429.4,767.4 428,767.2 426.6,766.9 425.2,766.7 423.8,766.6 422.4,766.5 421,766.4 419.6,766.3 418.2,766.3 416.7,766.3 415.3,766.3 413.9,766.3 412.5,766.3 411.1,766.3 409.7,766.4 408.3,766.4 406.9,766.4 405.5,766.4 404,766.4 402.6,766.4 401.2,766.4 399.8,766.4 398.4,766.4 397,766.4 395.6,766.4 394.2,766.4 392.8,766.4 391.4,766.4 389.9,766.4 388.5,766.4 387.1,766.4 385.7,766.4 384.3,766.3 382.9,766.3 381.5,766.2 380,766.1 378.6,766 377.2,765.8 375.8,765.6 374.5,765.4 373.1,765.1 371.7,764.8 370.3,764.4 369,764 367.7,763.5 366.4,762.9 365.1,762.3 363.9,761.6 362.7,760.8 361.6,759.9 360.5,759Z" fill="#F5E6BE"/>
<path d="M19.1,762.6 22.4,759.8 26.6,758.4 30.8,757.3 35,756.4 39.3,755.7 43.7,755.2 48.1,755 52.4,754.8 56.8,754.7 61.2,754.6 65.5,754.6 69.9,754.7 74.3,754.7 78.6,754.8 83,754.9 87.3,755.1 91.7,755.2 96.1,755.3 100.4,755.4 104.8,755.4 109.2,755.4 113.5,755.3 117.9,755.2 122.3,755.1 126.6,754.9 131,754.8 135.4,754.6 139.7,754.5 144.1,754.4 148.4,754.4 152.8,754.4 157.2,754.3 161.5,754.3 165.9,754.3 170.3,754.2 174.6,754.2 179,754.2 183.4,754.2 187.7,754.3 192.1,754.4 196.4,754.5 200.8,754.6 205.2,754.7 209.5,754.8 213.9,754.9 218.3,754.9 222.6,754.9 227,754.8 231.4,754.8 235.7,755 240.1,755.4 244.4,756 248.7,756.9 253,757.8 257.2,758.7 261.5,759.8 265.6,761.1 269.6,762.8 273.5,764.9 273.5,765.4 269.6,767.3 265.5,768.9 261.3,770.2 257.1,771.3 252.8,772.2 248.5,773 244.2,773.8 239.9,774.5 235.6,775 231.2,775.4 226.9,775.7 222.5,775.9 218.1,776 213.8,776.1 209.4,776 205,775.9 200.7,775.8 196.3,775.6 191.9,775.3 187.6,775.1 183.2,774.8 178.9,774.5 174.5,774.2 170.2,773.9 165.8,773.6 161.4,773.4 157.1,773.1 152.7,772.9 148.3,772.7 144,772.5 139.6,772.5 135.2,772.5 130.9,772.6 126.5,772.9 122.2,773.1 117.8,773.3 113.4,773.6 109.1,773.7 104.7,773.8 100.3,773.8 96,773.8 91.6,773.7 87.2,773.5 82.9,773.3 78.5,773 74.2,772.8 69.8,772.5 65.5,772.2 61.1,771.8 56.7,771.5 52.4,771.2 48,770.9 43.6,770.6 39.3,770.1 35,769.3 30.8,768.3 26.6,767.1 22.5,765.5 19.1,762.8Z" fill="#90BA32"/>
<path d="M37.4,763.3 40.5,761.2 44.2,760.2 47.9,759.5 51.6,759 55.4,758.6 59.1,758.3 62.9,758.1 66.7,757.9 70.5,757.8 74.2,757.7 78,757.7 81.8,757.7 85.6,757.8 89.3,757.9 93.1,758 96.9,758.2 100.7,758.3 104.4,758.5 108.2,758.6 112,758.6 115.7,758.6 119.5,758.5 123.3,758.4 127.1,758.2 130.8,758 134.6,757.9 138.4,757.7 142.1,757.5 145.9,757.4 149.7,757.2 153.5,757.1 157.2,757 161,756.9 164.8,756.9 168.6,756.8 172.3,756.8 176.1,756.8 179.9,756.8 183.7,756.8 187.4,756.9 191.2,757 195,757.1 198.7,757.2 202.5,757.3 206.3,757.4 210.1,757.5 213.8,757.6 217.6,757.6 221.4,757.6 225.2,757.5 229,757.6 232.7,757.7 236.5,758.1 240.2,758.6 243.9,759.3 247.6,760.2 251.3,761.2 254.7,762.9 257.4,765.5 257.4,765.9 254.7,768.6 251.3,770.1 247.6,771 243.8,771.7 240.1,772.4 236.4,773 232.7,773.6 228.9,773.9 225.2,774.1 221.4,774.3 217.6,774.3 213.8,774.3 210,774.2 206.2,774.1 202.5,773.9 198.7,773.7 194.9,773.5 191.2,773.2 187.4,773 183.6,772.7 179.9,772.5 176.1,772.2 172.3,772 168.6,771.7 164.8,771.5 161,771.2 157.3,771 153.5,770.8 149.7,770.6 145.9,770.4 142.2,770.3 138.4,770.3 134.6,770.3 130.8,770.4 127.1,770.6 123.3,770.8 119.5,771 115.8,771.2 112,771.3 108.2,771.3 104.4,771.3 100.7,771.2 96.9,771 93.1,770.8 89.3,770.6 85.6,770.3 81.8,770 78,769.8 74.3,769.5 70.5,769.3 66.7,769 63,768.8 59.2,768.5 55.4,768.2 51.7,767.8 48,767.2 44.2,766.5 40.6,765.5 37.4,763.5Z" fill="#BCEE68"/>
<path d="M62.6,764.7 65.6,764.1 68.7,763.7 71.8,763.4 74.9,763.2 78,763 81.1,762.8 84.2,762.7 87.3,762.6 90.4,762.6 93.5,762.5 96.6,762.6 99.7,762.6 102.8,762.6 105.9,762.6 109,762.6 112.1,762.6 115.2,762.5 118.3,762.4 121.4,762.3 124.5,762.2 127.6,762 130.7,761.9 133.8,761.7 136.9,761.6 140,761.4 143.1,761.2 146.2,761.1 149.3,760.9 152.4,760.8 155.5,760.6 158.6,760.5 161.7,760.4 164.8,760.3 167.9,760.2 171,760.2 174.1,760.1 177.2,760.1 180.3,760 183.4,760 186.5,760 189.6,760 192.8,760 195.9,760 199,760 202.1,760.1 205.2,760.1 208.3,760.1 211.4,760.2 214.5,760.3 217.6,760.3 220.7,760.4 223.8,760.5 226.9,760.7 230,760.9 233.1,761.2 236.2,761.7 239.1,762.6 241.8,764 244.3,766 244.3,766.3 241.8,768.3 239.1,769.6 236.1,770.5 233,771 229.9,771.3 226.8,771.6 223.7,771.7 220.6,771.8 217.5,771.8 214.4,771.9 211.3,771.8 208.2,771.8 205.1,771.7 202,771.6 198.9,771.5 195.8,771.3 192.7,771.1 189.6,770.9 186.5,770.7 183.4,770.4 180.3,770.1 177.2,769.8 174.1,769.5 171,769.2 167.9,769 164.9,768.7 161.8,768.5 158.7,768.3 155.6,768.1 152.5,768 149.4,767.9 146.3,767.8 143.2,767.8 140,767.8 136.9,767.8 133.8,767.8 130.7,767.9 127.6,767.9 124.5,768 121.4,768.1 118.3,768.1 115.2,768.2 112.1,768.2 109,768.2 105.9,768.2 102.8,768.1 99.7,768 96.6,767.8 93.5,767.7 90.4,767.5 87.3,767.3 84.2,767.1 81.1,766.9 78,766.6 74.9,766.3 71.8,766 68.8,765.6 65.7,765.2 62.6,764.9Z" fill="#20B2AA"/>
<path d="M-1,772.3 0,772.3 3,772.6 6,772.8 9,773.1 12,773.3 15,773.6 18,773.8 21,774 24,774.3 27,774.5 30,774.7 33,774.9 36,775.1 39,775.3 42,775.5 45,775.7 48,775.9 51,776.1 54,776.3 57,776.4 60,776.6 63,776.8 66,776.9 69,777 72,777.1 75,777.2 78,777.2 81,777.2 84,777.2 87,777.2 90,777.3 93,777.3 96,777.3 99,777.3 102,777.3 105,777.3 108,777.3 111,777.3 114,777.2 117,777.2 120,777 123,776.9 126,776.8 129,776.6 132,776.6 135,776.5 138,776.5 141,776.5 144,776.6 147,776.6 150,776.7 153,776.7 156,776.8 159,776.8 162,776.9 165,777 168,777 171,777.1 174,777.2 177,777.3 180,777.4 183,777.5 186,777.6 189,777.7 192,777.8 195,778 198,778.1 201,778.2 204,778.3 207,778.4 210,778.5 213,778.6 216,778.7 219,778.8 222,778.8 225,778.9 228,778.9 231,779 234,779 237,779 240,779 243,778.9 246,778.8 249,778.6 252,778.5 255,778.3 258,778.1 261,777.9 264,777.7 267,777.4 270,777.1 273,776.8 276,776.4 279,776 282,775.5 285,775 288,774.5 291,774.1 294,773.5 297,773 300,772.5 303,772 306,771.4 309,770.9 312,770.4 315,769.8 318,769.3 321,768.8 324,768.4 327,768 330,767.8 333,767.7 336,767.5 339,767.4 342,767.4 345,767.3 348,767.3 351,767.4 354,767.6 357,767.8 360,768.1 363,768.3 366,768.6 369,768.9 372,769.3 375,769.6 378,769.9 381,770.2 384,770.4 387,770.6 390,770.8 393,771 396,771.1 399,771.3 402,771.4 405,771.6 408,771.7 411,771.8 414,771.9 417,772 420,772.1 423,772.2 426,772.2 429,772.3 432,772.4 435,772.4 438,772.5 440,772.5 442,772.5 442,824 -1,824Z" fill="#FFE000"/>
<path d="M-1,778 0,778 3,778.1 6,778.3 9,778.4 12,778.5 15,778.7 18,778.8 21,778.9 24,779 27,779.1 30,779.2 33,779.3 36,779.4 39,779.5 42,779.6 45,779.8 48,779.9 51,780 54,780.1 57,780.2 60,780.3 63,780.3 66,780.4 69,780.5 72,780.5 75,780.6 78,780.6 81,780.6 84,780.6 87,780.6 90,780.7 93,780.7 96,780.7 99,780.7 102,780.7 105,780.7 108,780.7 111,780.7 114,780.7 117,780.6 120,780.6 123,780.5 126,780.4 129,780.4 132,780.3 135,780.3 138,780.3 141,780.3 144,780.4 147,780.4 150,780.4 153,780.5 156,780.6 159,780.6 162,780.7 165,780.8 168,780.9 171,781 174,781.1 177,781.2 180,781.3 183,781.4 186,781.5 189,781.6 192,781.7 195,781.7 198,781.8 201,781.8 204,781.9 207,781.9 210,782 213,782 216,782.1 219,782.2 222,782.3 225,782.4 228,782.6 231,782.8 234,782.9 237,783 240,783 243,783 246,783 249,783 252,783 255,783 258,782.9 261,782.8 264,782.6 267,782.4 270,782.2 273,782 276,781.8 279,781.6 282,781.4 285,781.1 288,780.8 291,780.6 294,780.3 297,780 300,779.7 303,779.4 306,779.1 309,778.7 312,778.3 315,777.9 318,777.4 321,776.9 324,776.5 327,776.2 330,776 333,775.9 336,775.7 339,775.6 342,775.6 345,775.5 348,775.5 351,775.5 354,775.6 357,775.7 360,775.8 363,775.9 366,776 369,776.1 372,776.2 375,776.3 378,776.4 381,776.5 384,776.6 387,776.7 390,776.8 393,776.9 396,777.1 399,777.2 402,777.3 405,777.4 408,777.5 411,777.5 414,777.6 417,777.7 420,777.8 423,777.9 426,777.9 429,778 432,778.1 435,778.2 438,778.3 440,778.3 442,778.3 442,824 -1,824Z" fill="#FFA500"/>
<path d="M-1,783 0,783 3,783 6,783 9,783 12,783 15,783 18,783 21,783 24,783 27,783 30,783 33,783 36,783 39,783 42,783 45,783 48,783 51,783.1 54,783.1 57,783.1 60,783.1 63,783.2 66,783.2 69,783.2 72,783.3 75,783.3 78,783.3 81,783.3 84,783.3 87,783.4 90,783.4 93,783.4 96,783.4 99,783.4 102,783.5 105,783.5 108,783.5 111,783.5 114,783.5 117,783.5 120,783.6 123,783.6 126,783.6 129,783.6 132,783.6 135,783.6 138,783.6 141,783.7 144,783.7 147,783.7 150,783.7 153,783.7 156,783.8 159,783.8 162,783.8 165,783.8 168,783.9 171,783.9 174,784 177,784 180,784.1 183,784.1 186,784.2 189,784.3 192,784.4 195,784.4 198,784.5 201,784.6 204,784.6 207,784.7 210,784.8 213,784.9 216,784.9 219,785 222,785 225,785.1 228,785.2 231,785.2 234,785.3 237,785.4 240,785.4 243,785.5 246,785.5 249,785.6 252,785.6 255,785.6 258,785.6 261,785.6 264,785.5 267,785.4 270,785.4 273,785.3 276,785.2 279,785.1 282,785 285,784.9 288,784.8 291,784.6 294,784.5 297,784.4 300,784.2 303,784 306,783.9 309,783.6 312,783.3 315,783 318,782.6 321,782.3 324,782 327,781.8 330,781.7 333,781.7 336,781.7 339,781.7 342,781.7 345,781.7 348,781.7 351,781.7 354,781.7 357,781.7 360,781.7 363,781.7 366,781.7 369,781.7 372,781.7 375,781.8 378,781.8 381,781.8 384,781.9 387,781.9 390,782 393,782 396,782 399,782.1 402,782.1 405,782.2 408,782.2 411,782.3 414,782.4 417,782.4 420,782.5 423,782.6 426,782.6 429,782.7 432,782.8 435,782.9 438,782.9 440,783 442,783 442,824 -1,824Z" fill="#FF4500"/>
<path d="M-1,787.6 0,787.6 3,787.6 6,787.5 9,787.5 12,787.5 15,787.5 18,787.4 21,787.4 24,787.4 27,787.4 30,787.3 33,787.3 36,787.3 39,787.3 42,787.2 45,787.2 48,787.2 51,787.2 54,787.1 57,787.1 60,787.1 63,787.1 66,787 69,787 72,787 75,787 78,787 81,787 84,787 87,787 90,787 93,787 96,787 99,787 102,787 105,787 108,787 111,787 114,787 117,787 120,787 123,787 126,787 129,787 132,787 135,787 138,787 141,787 144,787 147,787 150,787 153,787 156,787 159,787 162,787 165,787 168,787 171,787 174,787 177,787.1 180,787.1 183,787.1 186,787.1 189,787.2 192,787.2 195,787.2 198,787.3 201,787.3 204,787.4 207,787.4 210,787.4 213,787.5 216,787.5 219,787.6 222,787.6 225,787.7 228,787.8 231,787.9 234,788.1 237,788.2 240,788.3 243,788.4 246,788.6 249,788.6 252,788.7 255,788.7 258,788.7 261,788.7 264,788.7 267,788.7 270,788.7 273,788.7 276,788.7 279,788.7 282,788.7 285,788.7 288,788.7 291,788.7 294,788.7 297,788.7 300,788.7 303,788.7 306,788.7 309,788.7 312,788.6 315,788.4 318,788.2 321,788 324,787.8 327,787.7 330,787.6 333,787.6 336,787.6 339,787.6 342,787.6 345,787.6 348,787.6 351,787.6 354,787.6 357,787.6 360,787.6 363,787.6 366,787.6 369,787.6 372,787.6 375,787.6 378,787.6 381,787.6 384,787.6 387,787.6 390,787.6 393,787.6 396,787.6 399,787.6 402,787.6 405,787.6 408,787.6 411,787.6 414,787.6 417,787.6 420,787.6 423,787.6 426,787.6 429,787.6 432,787.6 435,787.6 438,787.6 440,787.6 442,787.6 442,824 -1,824Z" fill="#B22222"/>
<path d="M-1,792.9 0,792.9 3,792.8 6,792.8 9,792.7 12,792.7 15,792.6 18,792.6 21,792.5 24,792.4 27,792.4 30,792.3 33,792.2 36,792.2 39,792.1 42,792 45,792 48,791.9 51,791.8 54,791.7 57,791.6 60,791.6 63,791.5 66,791.4 69,791.3 72,791.2 75,791.2 78,791.1 81,791 84,791 87,790.9 90,790.8 93,790.7 96,790.7 99,790.6 102,790.5 105,790.5 108,790.4 111,790.4 114,790.3 117,790.3 120,790.3 123,790.2 126,790.2 129,790.1 132,790.1 135,790.1 138,790 141,790 144,790 147,790 150,789.9 153,789.9 156,789.9 159,789.9 162,789.9 165,789.9 168,789.9 171,790 174,790 177,790.1 180,790.2 183,790.3 186,790.3 189,790.4 192,790.6 195,790.7 198,790.8 201,790.9 204,791 207,791.1 210,791.2 213,791.4 216,791.5 219,791.6 222,791.7 225,791.8 228,791.9 231,792 234,792.1 237,792.2 240,792.3 243,792.4 246,792.5 249,792.6 252,792.8 255,792.9 258,793.1 261,793.3 264,793.5 267,793.8 270,794 273,794.3 276,794.6 279,794.9 282,795.2 285,795.5 288,795.8 291,796.2 294,796.5 297,796.9 300,797.2 303,797.6 306,798 309,798.4 312,798.9 315,799.4 318,799.9 321,800.4 324,800.8 327,801.1 330,801.2 333,801.2 336,801.2 339,801.2 342,801.2 345,801.2 348,801.2 351,801.1 354,801 357,800.9 360,800.7 363,800.4 366,800.2 369,799.9 372,799.5 375,799.1 378,798.7 381,798.2 384,797.8 387,797.4 390,796.9 393,796.5 396,796 399,795.7 402,795.3 405,795 408,794.7 411,794.4 414,794.1 417,793.9 420,793.7 423,793.5 426,793.4 429,793.2 432,793.1 435,793 438,792.9 440,792.9 442,792.9 442,824 -1,824Z" fill="#FFB6C1"/>
<path d="M-1,801.5 0,801.5 3,801.5 6,801.4 9,801.3 12,801.2 15,801 18,800.9 21,800.6 24,800.2 27,799.7 30,799.2 33,798.8 36,798.5 39,798.2 42,798 45,797.8 48,797.6 51,797.4 54,797.3 57,797.2 60,797.2 63,797.1 66,797 69,797 72,796.9 75,796.9 78,796.9 81,796.9 84,796.9 87,796.9 90,796.9 93,796.9 96,796.9 99,796.9 102,796.9 105,796.9 108,796.9 111,796.9 114,796.9 117,796.9 120,796.9 123,796.9 126,796.9 129,796.9 132,796.9 135,796.9 138,796.9 141,796.9 144,796.9 147,796.9 150,796.9 153,796.9 156,796.9 159,796.9 162,796.9 165,796.9 168,796.9 171,797 174,797.1 177,797.1 180,797.2 183,797.3 186,797.4 189,797.4 192,797.5 195,797.5 198,797.5 201,797.6 204,797.6 207,797.6 210,797.7 213,797.7 216,797.8 219,797.9 222,798 225,798.2 228,798.4 231,798.8 234,799.1 237,799.5 240,799.8 243,800.1 246,800.5 249,801 252,801.5 255,802.1 258,803 261,804.3 264,805.9 267,808.5 270,810.9 273,813 276,814.3 279,814.9 282,815.3 285,815.6 288,815.9 291,816.1 294,816.3 297,816.4 300,816.5 303,816.6 306,816.8 309,816.9 312,817 315,817.2 318,817.4 321,817.5 324,817.6 327,817.7 330,817.7 333,817.7 336,817.6 339,817.5 342,817.4 345,817.3 348,817.2 351,817 354,816.6 357,816.3 360,815.8 363,815.4 366,814.9 369,814.4 372,813.8 375,813.2 378,812.6 381,811.8 384,811.1 387,810.2 390,809.2 393,808.3 396,807.4 399,806.5 402,805.8 405,805.2 408,804.6 411,804.1 414,803.7 417,803.3 420,803 423,802.6 426,802.4 429,802.1 432,801.9 435,801.7 438,801.6 440,801.5 442,801.5 442,824 -1,824Z" fill="#FF1493"/>
</g>
<g clip-path="url(#cm0)"><path d="M39.5,118.7 38.9,118.4 37.9,118.3 36.5,118.8 35.4,119.2 33.2,118.6 30.8,118.3 29.3,117.7 28.1,117.1 26.5,116.7 24.4,117.7 24.4,119.3 23.4,119.9 21.4,119.2 19,118.4 18.4,117.4 16.1,116.7 14.6,116.7 13.4,116 12.3,115.5 13.4,114.2 12.9,113.2 12.9,112.5 13.4,111.8 11.9,111.4 9.5,111.8 6.1,112 3.6,112 1.2,112.4 -0.8,113.3 -2.5,114.1 -3.7,113.8 -6.5,113.1 -7.3,113.2 -7.6,113.9 -8.4,115.4 -9.4,115.9 -10.5,116.3 -11.3,117.5 -12,118.4 -12.2,119.5 -11.8,119.8 -12.5,121 -14.1,122.1 -15.8,122.8 -16.4,123.8 -17.8,125 -18.4,126.6 -19.5,127.9 -20.7,130.6 -20.9,131.5 -20.2,133.2 -19.9,133.6 -19.6,134.7 -20.2,137.3 -21,138.5 -21.5,138.9 -20.6,139.7 -20.4,140.5 -20.5,141.8 -19.1,142.3 -18.4,143.4 -17.9,144 -16.8,145.2 -16.2,146.4 -15.3,147.6 -14.1,148.4 -13.3,149.1 -11.1,150.7 -9.5,151.4 -7.4,150.9 -4.9,150.3 -3.7,150.7 -2.6,151 -0.3,150.1 1.4,149.3 2.9,149.1 4.1,149 5.3,149.1 6.1,149.7 6.7,150.4 7.4,151.5 8.5,151.4 10.4,151.3 11,151.9 11.8,151.9 11.9,153.1 11.5,154.3 11.7,155.5 11.5,156.3 10.7,157.6 11.3,159.2 12.2,160.2 13.4,161.5 14.4,162.6 14.9,163.6 15,164.2 15.6,165.3 16.1,167.5 16.8,170.2 16.3,172.2 15.2,173.9 14.8,175.4 14.3,177.9 14.4,178.8 15.2,180 16.3,182.2 17.6,184.1 17.7,184.9 17.7,186.8 18.6,189.3 20.1,191.8 21.1,194.1 22.3,195.9 21.9,197.2 22.5,198.3 22.6,198.9 24.4,199.4 27,198.6 28.6,198.5 31.3,198.4 34.1,197.2 36.9,194.7 37.9,193.4 39.8,191.7 40.2,189.8 39.8,188.6 41.1,187.6 43.3,186.8 43.4,186 43.4,183.7 42.9,182.5 42.7,181 44.4,179.8 45.1,178.7 46.5,177.8 48.8,176.6 49.8,175.1 49.9,174.5 49.5,172.7 49.6,169.9 49.1,169.4 48.3,167.8 48.3,166.6 48,165.1 47.4,164.3 47.8,163 48.5,161.8 49,160.7 50,159.6 50.7,158.8 52,157.2 54.4,154.9 55.4,154.3 56.6,153.3 58.1,151.9 59.3,150.3 59.9,149.5 60.9,147 62.1,145.2 62.9,144.1 62.7,142.4 60.2,143 57.5,143.3 55,144.1 53.2,143 52.7,142.6 52.9,141.6 52.2,140.9 50.4,139.5 49.1,138.5 48.3,137.8 47.9,137.3 47.1,134.9 45.7,133.9 45.5,132.9 45.5,131.2 44.7,129.8 43.6,128.8 43.4,127.6 42.7,126.3 41.9,125.1 41.3,123.7 40.6,122.5 39.8,120.9 39.7,120.3M480,118.7 479.4,118.4 478.4,118.3 477.1,118.8 476,119.2 473.8,118.6 471.3,118.3 469.9,117.7 468.6,117.1 467.1,116.7 465,117.7 465,119.3 464,119.9 461.9,119.2 459.6,118.4 459,117.4 456.7,116.7 455.2,116.7 454,116 452.9,115.5 454,114.2 453.5,113.2 453.5,112.5 454,111.8 452.5,111.4 450,111.8 446.6,112 444.2,112 441.7,112.4 439.8,113.3 438.1,114.1 436.8,113.8 434,113.1 433.3,113.2 432.9,113.9 432.2,115.4 431.2,115.9 430.1,116.3 429.2,117.5 428.5,118.4 428.4,119.5 428.8,119.8 428,121 426.4,122.1 424.7,122.8 424.1,123.8 422.8,125 422.1,126.6 421,127.9 419.8,130.6 419.7,131.5 420.3,133.2 420.7,133.6 420.9,134.7 420.3,137.3 419.6,138.5 419.1,138.9 419.9,139.7 420.2,140.5 420.1,141.8 421.4,142.3 422.1,143.4 422.6,144 423.7,145.2 424.3,146.4 425.2,147.6 426.4,148.4 427.3,149.1 429.5,150.7 431.1,151.4 433.2,150.9 435.6,150.3 436.8,150.7 437.9,151 440.3,150.1 442,149.3 443.4,149.1 444.7,149 445.9,149.1 446.6,149.7 447.2,150.4 448,151.5 449.1,151.4 450.9,151.3 451.5,151.9 452.4,151.9 452.5,153.1 452,154.3 452.2,155.5 452,156.3 451.3,157.6 451.9,159.2 452.7,160.2 454,161.5 454.9,162.6 455.4,163.6 455.6,164.2 456.2,165.3 456.7,167.5 457.4,170.2 456.9,172.2 455.8,173.9 455.3,175.4 454.8,177.9 454.9,178.8 455.8,180 456.9,182.2 458.1,184.1 458.2,184.9 458.2,186.8 459.1,189.3 460.7,191.8 461.7,194.1 462.9,195.9 462.4,197.2 463,198.3 463.1,198.9 465,199.4 467.5,198.6 469.1,198.5 471.8,198.4 474.6,197.2 477.5,194.7 478.4,193.4 480.4,191.7 480.8,189.8 480.4,188.6 481.6,187.6 483.8,186.8 483.9,186 483.9,183.7 483.5,182.5 483.2,181 484.9,179.8 485.7,178.7 487,177.8 489.3,176.6 490.3,175.1 490.4,174.5 490.1,172.7 490.2,169.9 489.7,169.4 488.8,167.8 488.8,166.6 488.6,165.1 488,164.3 488.3,163 489.1,161.8 489.6,160.7 490.6,159.6 491.3,158.8 492.5,157.2 495,154.9 495.9,154.3 497.2,153.3 498.6,151.9 499.9,150.3 500.5,149.5 501.4,147 502.7,145.2 503.4,144.1 503.3,142.4 500.7,143 498,143.3 495.6,144.1 493.7,143 493.2,142.6 493.5,141.6 492.8,140.9 490.9,139.5 489.7,138.5 488.8,137.8 488.5,137.3 487.6,134.9 486.3,133.9 486,132.9 486,131.2 485.3,129.8 484.2,128.8 483.9,127.6 483.2,126.3 482.5,125.1 481.9,123.7 481.1,122.5 480.4,120.9 480.3,120.3M71.3,102 71.8,100.8 73.1,100.1 74.6,100 75.6,100.8 75,102 74.6,103 73.4,103.7 72.2,103.6 71.3,102.9 71.3,102M174.3,169.9 175.6,172.1 175.9,174.3 177.8,175.7 178.4,177.5 178.9,179.4 179.6,180.4 181.1,181.2 182.5,182.7 184.1,184.3 184.5,185.5 185.3,186.2 186.6,187.1 187.4,187.7 187.4,190.4 187.9,191.8 187.2,193.9 187.1,195.2 185.7,197.1 185.1,198.3 184.5,199.6 183.8,200.8 183.5,202.7 181.1,203.2 179.8,203.9 179.1,204.6 178,203.9 177.4,203.3 176.8,203.7 175.6,204.4 173.2,203.8 171.9,203.3 170.9,202.1 170.7,200.8 169.4,200.4 169.4,199.5 168.9,198.6 168.6,199.7 167.5,200 168.2,198.4 168.6,196.7 167.6,198 166.4,199.1 166.3,199.5 165.4,199.1 164.9,197.8 164.2,196.9 163.6,196.1 161.5,195.9 160.5,195.3 157.8,195.5 155.4,196.2 153.5,196.7 151.7,197.4 149.1,198.3 146.8,198.4 144.2,199.7 142.5,199.6 140.8,198.9 140.7,197.9 141.4,197.5 141.6,195.9 141,194.7 140.7,193.5 140.2,192 139.6,190.6 138.8,188.8 138.7,186.8 139.2,184.9 139.7,183.5 140.2,184.1 141.3,183 142.8,182 145.1,181.6 146.8,181.1 148.6,180 149.5,178.8 149.5,177.8 150.3,177 151.2,177.9 151.2,176.7 152.3,176.7 152.9,175.5 153.9,174.3 155.1,173.7 156.3,174.5 156.8,175.1 158.2,175 158.7,173.9 159.4,172.9 160,171.9 160.5,171.6 162.1,171.6 162.2,170.7 161.5,170.5 162.7,171 165.2,171.6 166.4,171.7 167.5,171.8 167,172.9 166.4,173.3 166.3,174.5 165.6,175.1 167,176.1 168.2,176.6 170.1,177.5 170.8,178.2 172.3,178.2 173,176.3 173.2,174.5 173.2,172.7 173.6,171.4 173.8,170.2 174.3,169.9M127,94.1 128.4,93.9 130.3,92.8 132.1,91.7 133.7,90.1 134.3,88.9 133.3,89.5 131.9,91.2 129.7,92.4 127.8,93.5 127,94.1M89.9,101.3 91.1,100.4 93,100 95.4,100.2 97,100M35.4,106.7 37,106.7 38.4,106.5 40.3,105.7 43,105.7 44.4,106.5 46.3,106.9 48.5,106.9 50.6,106.4 51,105.6 50.1,104.5 48.5,103.7 47.8,103.1 46.2,102.4 44.9,101.8 45.7,101.7 46.3,100.8 46.8,100 48,99.4 45.8,99.5 45,99.8 43.1,100.3 42.5,100.6 43.1,101.5 44.6,101.5 43.3,102 41.8,102.6 40.9,102.5 40.9,101.8 39.7,101.7 41.1,100.8 39.7,100.7 38.5,100.1 37.5,100.2 36.3,101.8 35.1,103 34.1,104.2 33.6,105.1 34.2,105.8 35.4,106.7M134.1,154.3 135.2,154.7 136.2,153.7 138.2,152.9 139.5,151.3 140.7,150.7 141.9,149.5 142.9,148.2 144,149 144.5,149.7 145.8,150.3 144.4,151.6 144,152.5 144.4,154.1 145.6,155.5 144.4,155.8 143.7,156.8 142.9,158.3 142.5,159.4 142.1,160.8 140.3,161.8 140.1,160.9 138.2,160.7 136.8,160.9 134.9,160.3 134.6,158.6 133.6,156.9 133.3,155.5 134.1,154.3M58.7,100.8 60.5,100.2 62.4,99.6 63.6,99.8 64.8,99.7 65.1,100.4 64.8,101.7 62.7,102 62.4,102.6 61.4,102.8 62.6,103.7 64.1,104.7 64.4,106.3 64.8,106.7 66.6,106.2 66.9,106.9 65.8,107.1 64.8,108.1 64.6,109 65.9,109.4 65.9,111.4 66,111.9 63.6,112.2 62.4,112.1 61.1,111.3 60.5,111.2 59.8,110.1 59.8,109.6 60.4,108.8 61.6,107.6 60.5,107.4 59.9,106.3 59.1,105.6 58.1,104.5 58.1,103.5 57.1,102.6 57.5,101.8 58.4,101.3 58.7,100.8M17.1,140.6 17.8,140 18.3,140.7 17.6,141.2 17.1,140.6M25.6,61.7 28.7,61.8 29.3,62.5 26.9,62.8 25.6,61.7M39.5,118.7 41.3,118.9 42,118.4 42.5,117.7 42.8,116.9 43.4,115.5 43.8,114.9 43.8,113.6 44.2,112.2 43.1,112.2 42.3,112 41.4,112.6 40.1,113 39.1,112.4 37.5,111.9 36.8,112.6 35.6,112.2 34.6,112 33.5,111.8 33.4,110.7 32.1,110.2 32.9,109.2 31.9,108.7 32,108.1 32,107.4 31.6,107.1 29.8,107 29.3,107.7 29,108.1 28,107.4 27.6,107.6 27.7,108.4 28.1,109 27.9,109.6 28.8,109.9 29.3,110.9 29,110.7 28.1,110.7 28.3,111.2 27.9,111.2 28.3,112.5 27.5,112.5 27,111.8 26.5,112 26,110.8 26.5,110.3 25.8,110.2 25.3,109.4 24.8,108.7 24.4,108.2 23.7,107.6 23.7,106.5 23.3,105.6 22.1,104.9 20,103.9 18.6,103.1 18.2,102 17.6,101.7 16.8,102.2 16.8,101.3 15,101.5 15.2,102.2 15,102.8 16.5,103.7 17.3,105.1 18.6,105.8 19.8,105.8 19.4,106.3 20.6,106.8 22,107.4 22.6,108 22.5,108.4 22,108.1 21,107.5 20.3,108.4 21,109.2 20.3,109.9 19.5,110.7 19,110.4 19.5,108.8 19.2,108.1 18.1,107.3 17.3,107.1 16.6,106.7 15.4,106.4 14.4,105.6 13.5,105.2 12.8,104.6 12.6,103.9 11.9,103.1 10.8,102.8 9.7,103.4 8.9,103.6 7.2,104.3 6.6,104.1 5.8,104.1 4.7,103.9 3.7,104.3 3.6,104.8 4,105.3 2.6,106.4 1.4,106.8 1.1,107.3 -0.1,108.1 -0.4,108.7 0.2,109.7 -0.7,110.2 -1.3,111 -2.7,112.1 -4.3,112.1 -5.4,112.1 -6.6,112.9 -6.9,113 -7.8,112.4 -8.5,111.5 -9.7,111.8 -11.1,111.8 -10.9,110.5 -11.7,109.6 -11.6,108.8 -10.9,108 -10.7,106.8 -10.8,105.4 -11.4,104.6 -10.3,104 -9.5,103.5 -7,103.7 -4.7,103.9 -2.5,104.1 -2,103.9 -1.5,102.4 -1.4,101.3 -1.5,100.6 -2.3,100.2 -2.7,99.2 -3.8,99 -5.4,98.6 -5.9,97.9 -4.9,97.5 -3.7,97.4 -2.5,97.7 -1.9,97.7 -2,97.4 -2.4,96.3 -1.6,96.3 -1.4,96.7 -0.4,96.8 0.1,96.6 1.3,96.1 1.9,95.1 2.3,94.7 3.5,94.5 4.4,94.2 5,93.5 5.7,92.4 6.6,92.1 7.5,91.8 8.5,91.8 9.7,91.5 10.6,91.2 10.8,91 10.5,90.6 10.2,90 10.2,89.3 9.9,88.7 9.9,87.9 10.5,87.3 12.1,86.7 12.9,86.6 12.8,87 12.6,87.9 13.3,88.2 12.4,88.5 11.9,89.3 11.6,89.9 11.9,90.1 12.4,90.6 13.4,90.6 13.3,91.1 14.8,90.8 16.5,90.4 17.4,91.2 19,90.8 20.1,90.5 21.4,90.1 23,90.4 22.8,90.6 24.4,90.2 25.8,89 25.6,88 26.3,87 27.6,86.5 28.3,87.3 29.3,87.4 29.8,87.1 29.9,85.7 28.7,85.5 28.6,84.8 30.2,84.5 31.8,84.3 34.2,84.4 36.9,83.9 35.4,83.5 35.1,82.9 33,83.2 30.5,83.6 28.1,84 27.1,83.3 26,82.8 26.3,81.8 26,81 26.3,80 27.5,79.2 29.3,78.3 31,77.7 29.9,76.9 29.4,76.7 27.1,77 26.3,77.3 25.9,78.1 24.8,79.2 23.2,79.9 21.9,80.6 21.1,80.9 20.9,81.7 21,82.9 22.6,83.5 22.8,84 22.1,84.6 21.5,85.2 20.5,85.5 20.3,86.5 20,87.8 19.5,88.4 19,88.5 17.9,88.5 17.6,89.2 16.8,89.4 15.9,89.1 15.5,88.7 15.2,88.3 15.7,87.8 14.9,87.3 14.5,86.6 13.7,85.7 13.7,85.1 13.3,84.8 13,83.9 12.8,84.5 12.4,85 11.5,85.1 10.7,85.6 9.7,86.1 8.5,86.2 7.3,85.7 6.8,85 6.3,84.5 6.3,83.3 5.9,82.6 6.1,81.8 6.2,81.1 7.4,80.8 8.6,80.5 9.4,80 10.4,79.7 11.6,79.3 12.2,78.8 13.2,78.3 13.7,77.8 14.9,77.1 15.4,76.5 15.9,75.9 17.6,74.9 18.3,74.1 19.5,73.6 20.8,72.8 23.2,72 25,71.5 29,70.8 31.5,70.3 33.6,70.4 34.8,70.7 38,71.1 36.7,71.6 36.7,72 39.1,71.8 40.8,72.6 42.8,72.6 45.2,73.2 47.7,73.9 50.1,75 50.5,75.6 49.5,76.1 47.1,76.4 44,76.1 42.2,75.8 39.7,75.2 40.9,76.1 42.5,77.7 42.5,78.3 45.2,79 46.6,79 45.8,78.4 45,77.7 46.5,77.8 48.7,78.2 49.5,78.2 48.9,77.1 51.3,76 53.8,76.5 54.2,75.9 53.6,75 52.9,73.3 55,73.5 56.9,74.3 56.2,75.3 58.3,75.4 59.3,74.4 62.4,73.6 64.8,73.1 66,73.7 67.3,73.5 70.3,73.2 72.8,73.2 74.4,72.8 74,71.9 78.9,72.6 81.9,73.5 83.8,73.8 84.4,73 83.2,71.6 81.9,70.4 83.8,69.2 85,68 85.6,67.4 88.7,68.2 89,69.8 88.7,71 89.9,72.8 89.3,74.1 88.7,75.9 89.9,75.5 90.5,74.1 91.1,72.8 90.3,71 90.9,69.2 91.7,68.2 93.6,69.2 95.4,68.7 95.4,70.4 96.6,70.2 97.9,69.2 100.9,69.8 101.8,71 100.3,69.4 98.5,67.4 104,66.8 106.4,65.5 110.1,64.8 116.2,64.2 121.1,63.8 123.5,63.1 127.6,62.3 129.7,62.8 132.1,63.5 135.8,63.5 138.8,64.3 138.2,65.5 134.6,66.8 130.9,67.7 129.7,68 134.6,67 137.6,67 138.8,67.5 141.9,67.3 145,67.4 146.8,68 151.1,67.1 155.4,67.4 158.4,68.6 157.8,69.7 160.3,70.7 162.7,69.8 165.8,69.7 168.2,70 170.7,69.8 171.3,68.7 172.5,68.2 178.6,68.7 182.3,69 184.1,69.8 186,70.5 190.9,70.4 194.5,70.7 195.8,72 197.6,72.2 200.6,72 204.3,72.1 205.9,71.6 208.6,71.5 208,72.8 209.2,72.8 211.7,71.9 215.3,71.9 218.4,72.4 220.2,73 221.4,73.1 223.9,73.7 226.3,74.7 228.8,75.3 230.6,75.5 232.8,76.4 231.9,77 230,77.5 229.4,78.3 228.4,78.4 225.7,78 224.5,77.1 222.1,77.1 221.4,76.3 220.2,76.7 219,78 217.2,78.1 217.2,78.9 219,79.9 219.4,80.8 216.6,80.8 213.5,81.6 210.4,82.6 208.4,83.8 204.3,83.4 201.9,83.9 200,83.9 199.8,85.1 198.8,86.2 199.4,86.8 199.7,88.4 198,89.6 198.2,90.1 196.4,90.5 195.8,92.1 194.2,92.3 193.7,93.5 191.7,94.7 191.5,93.5 190.9,91.7 190.5,89.9 190.6,88 191.8,86.8 193.3,86.2 195.1,85 197,83.8 198.8,82.9 200.4,82.3 200.6,80.9 199.4,80.8 198.2,82 196.1,82.9 195.8,81.7 192.1,81.7 191.5,82.3 189.6,83.8 189,84.4 187.2,85 184.7,85 184.5,84.4 182.3,84.3 178.6,84.6 174.9,84.6 171.9,86 170.1,87.1 168.2,88.7 165.8,90.1 167.6,90.7 168.2,91.5 170.7,91 172.5,91.9 173.1,93.5 172.3,94.1 171.9,96 171.6,97.8 170.1,99 169.2,100.2 167.4,102 165.8,103.2 163.9,104.5 162.7,104.8 161.5,104.3 160.3,104.9 159.9,105.3 158.8,105.9 158.7,107.1 157.2,108.1 156.1,108.4 155.9,109.1 157.1,109.9 157.8,110.9 158.4,113 157.9,114.1 156.6,114.3 155.4,114.7 154.6,114.6 154.8,113.6 154.9,113 154.5,112 154.9,111.2 153.5,110.8 152.8,110.3 153.2,109.7 153.2,108.7 152.1,108.2 150.5,108.6 148.8,109.4 148.3,108.7 149.2,107.5 148.3,107 146.3,108.2 144.1,109.3 144.4,110.2 145.6,110.9 145.8,111.5 146.8,111.3 147.8,110.8 148.5,111.2 149.9,111.3 149.7,111.9 147.3,112.9 146.2,113.7 145.9,114.6 147.2,115.2 147.9,116.6 149,118.2 149.1,119.1 147.8,119.9 149.2,120.4 148.9,121.5 148,122.7 147.2,123.9 146.4,125.1 145.6,126.1 144.5,127 142.9,128.3 140.7,129.1 139.7,129.6 138.8,129.8 137,130.4 135.2,131 134.8,132.1 134.3,131.9 134.3,130.7 133.5,130.6 132.4,130.5 130.6,131.5 130,132.4 129.4,133.6 129.4,134 130.3,135.2 131.6,136.7 132.4,137.2 133.3,139.1 133.6,140 133.8,141.2 133.6,142.3 132.2,143.5 131,144.1 130.5,144.8 128.8,146 128.2,146.3 128.3,145 127.8,144.1 126.6,143.9 126,143 125.4,142.2 123.9,141.3 123.4,140.3 122.9,140.3 122.3,140.6 122.3,141.4 122.1,142.4 121.3,144 121.6,145.6 122.3,146.5 123.1,148 123.9,148.4 125.1,149.2 126.1,150.3 126.5,152.1 126.6,153.6 127.6,155 127,155.2 126.5,154.9 125,154.1 124,153.1 123.2,151.9 122.8,150.2 122.4,149 121.7,147.9 121,147 120.2,147.1 120.2,145.8 120.6,144.6 120.5,143.4 120.6,141.7 120,139.7 119.5,138.5 119.4,136.7 118.7,136.2 117.7,136.7 116.7,137.5 115.3,137.4 115.6,135.5 115.3,134.3 114.6,133.3 113.6,132.3 112.5,130.7 112.3,129.6 111.3,129.4 110.7,130 109.5,130.2 108.3,130.4 106.7,130.6 106.2,131.6 106,132.1 104.9,132.7 103.8,133.3 101.9,135.2 100.7,136.1 100.7,136.6 99.3,137.1 99,137.5 98,137.9 98,139.2 98.2,140.8 97.7,142.3 97.6,143.4 97.7,144.2 97,144.2 96.5,145.3 95.6,146 94.8,146.9 94.1,146.4 93.2,144.6 92.7,143 91.5,141.1 90.6,138.8 90.3,137.9 89.7,136.1 89,133.6 88.9,132.4 88.9,131 88.7,129.8 88.3,130.2 87.4,131.3 86.1,131.3 85.1,130.5 84.4,129.8 86,128.9 84.9,129 83.8,128.4 82.6,127.7 81.9,126.6 81.3,125.9 79,126.1 77.7,126 76.2,126.2 74.1,126 72.2,125.9 70.7,125.6 69.7,124.5 69.5,123.8 68.8,123.7 67.9,124.3 67.1,124.4 65.4,124.3 64.3,123.3 62.1,121.6 61.5,120.5 60.5,120.1 59.9,119.8 59.4,120.4 58.7,121 59.2,122.1 59.7,122.9 60.8,123.9 61.4,124.5 61.4,125.5 62.1,126.6 62.1,125.7 62.6,125 63.1,125.4 63.1,126.5 62.9,127 64.2,127.3 66.5,127 67.6,126 68.5,125.4 68.8,124.8 69,125.7 69.3,127.1 71.7,128.1 73.1,129.4 72.5,130.7 71.8,131.8 70.7,132.4 70.6,132.8 70.7,133.8 69.1,134.9 67.6,135.3 66.2,136.1 64.8,136.6 63.8,137.3 62.4,138.3 60,139.1 58.1,140.1 56.2,140.5 55,141.2 53.2,141.3 52.8,140.6 52.4,138.8 52.2,137.3 52,136.2 50.7,134.9 50.1,133.4 48.9,132.1 47.9,130.6 47.7,129.4 46.5,127.4 45.5,126.3 44.5,124.9 43.4,123.3 42.8,122.6 42.8,120.9 42.2,122.3 41.9,122.9 41.1,122.3 40.6,122 40,120.6 39.8,120.3M480,118.7 481.9,118.9 482.6,118.4 483.1,117.7 483.3,116.9 483.9,115.5 484.3,114.9 484.3,113.6 484.8,112.2 483.7,112.2 482.8,112 482,112.6 480.6,113 479.7,112.4 478.1,111.9 477.3,112.6 476.1,112.2 475.1,112 474,111.8 473.9,110.7 472.7,110.2 473.4,109.2 472.4,108.7 472.6,108.1 472.6,107.4 472.2,107.1 470.4,107 469.9,107.7 469.5,108.1 468.5,107.4 468.2,107.6 468.3,108.4 468.6,109 468.4,109.6 469.4,109.9 469.9,110.9 469.5,110.7 468.6,110.7 468.9,111.2 468.4,111.2 468.9,112.5 468,112.5 467.5,111.8 467.1,112 466.6,110.8 467.1,110.3 466.3,110.2 465.8,109.4 465.3,108.7 465,108.2 464.2,107.6 464.2,106.5 463.9,105.6 462.6,104.9 460.6,103.9 459.1,103.1 458.7,102 458.1,101.7 457.4,102.2 457.4,101.3 455.6,101.5 455.8,102.2 455.6,102.8 457,103.7 457.9,105.1 459.1,105.8 460.3,105.8 460,106.3 461.2,106.8 462.5,107.4 463.1,108 463,108.4 462.5,108.1 461.5,107.5 460.8,108.4 461.5,109.2 460.8,109.9 460.1,110.7 459.6,110.4 460.1,108.8 459.7,108.1 458.6,107.3 457.9,107.1 457.1,106.7 455.9,106.4 454.9,105.6 454.1,105.2 453.3,104.6 453.1,103.9 452.5,103.1 451.4,102.8 450.3,103.4 449.4,103.6 447.7,104.3 447.1,104.1 446.4,104.1 445.3,103.9 444.3,104.3 444.2,104.8 444.5,105.3 443.2,106.4 442,106.8 441.6,107.3 440.5,108.1 440.1,108.7 440.7,109.7 439.9,110.2 439.3,111 437.8,112.1 436.2,112.1 435.1,112.1 434,112.9 433.6,113 432.8,112.4 432.1,111.5 430.8,111.8 429.5,111.8 429.6,110.5 428.9,109.6 429,108.8 429.6,108 429.9,106.8 429.7,105.4 429.1,104.6 430.2,104 431.1,103.5 433.5,103.7 435.8,103.9 438.1,104.1 438.5,103.9 439,102.4 439.2,101.3 439,100.6 438.3,100.2 437.8,99.2 436.7,99 435.1,98.6 434.6,97.9 435.6,97.5 436.8,97.4 438.1,97.7 438.7,97.7 438.5,97.4 438.2,96.3 438.9,96.3 439.2,96.7 440.1,96.8 440.6,96.6 441.8,96.1 442.5,95.1 442.8,94.7 444,94.5 444.9,94.2 445.5,93.5 446.3,92.4 447.1,92.1 448.1,91.8 449.1,91.8 450.3,91.5 451.1,91.2 451.4,91 451,90.6 450.8,90 450.8,89.3 450.4,88.7 450.4,87.9 451,87.3 452.6,86.7 453.5,86.6 453.3,87 453.1,87.9 453.8,88.2 453,88.5 452.5,89.3 452.1,89.9 452.5,90.1 453,90.6 454,90.6 453.8,91.1 455.3,90.8 457,90.4 458,91.2 459.6,90.8 460.7,90.5 461.9,90.1 463.5,90.4 463.4,90.6 465,90.2 466.3,89 466.2,88 466.8,87 468.2,86.5 468.9,87.3 469.9,87.4 470.4,87.1 470.5,85.7 469.3,85.5 469.1,84.8 470.7,84.5 472.3,84.3 474.8,84.4 477.5,83.9 476,83.5 475.6,82.9 473.5,83.2 471.1,83.6 468.6,84 467.7,83.3 466.6,82.8 466.8,81.8 466.6,81 466.8,80 468,79.2 469.9,78.3 471.6,77.7 470.5,76.9 470,76.7 467.7,77 466.8,77.3 466.4,78.1 465.3,79.2 463.8,79.9 462.4,80.6 461.7,80.9 461.4,81.7 461.5,82.9 463.1,83.5 463.4,84 462.6,84.6 462,85.2 461.1,85.5 460.8,86.5 460.6,87.8 460.1,88.4 459.6,88.5 458.5,88.5 458.1,89.2 457.4,89.4 456.4,89.1 456,88.7 455.8,88.3 456.2,87.8 455.4,87.3 455.1,86.6 454.2,85.7 454.2,85.1 453.8,84.8 453.6,83.9 453.3,84.5 453,85 452,85.1 451.3,85.6 450.3,86.1 449.1,86.2 447.8,85.7 447.4,85 446.9,84.5 446.9,83.3 446.5,82.6 446.6,81.8 446.7,81.1 448,80.8 449.2,80.5 449.9,80 450.9,79.7 452.1,79.3 452.7,78.8 453.7,78.3 454.2,77.8 455.4,77.1 455.9,76.5 456.4,75.9 458.1,74.9 458.9,74.1 460.1,73.6 461.3,72.8 463.8,72 465.6,71.5 469.5,70.8 472.1,70.3 474.2,70.4 475.4,70.7 478.6,71.1 477.2,71.6 477.2,72 479.7,71.8 481.4,72.6 483.3,72.6 485.8,73.2 488.2,73.9 490.7,75 491,75.6 490.1,76.1 487.6,76.4 484.6,76.1 482.7,75.8 480.3,75.2 481.5,76.1 483.1,77.7 483.1,78.3 485.8,79 487.1,79 486.4,78.4 485.5,77.7 487,77.8 489.2,78.2 490.1,78.2 489.5,77.1 491.9,76 494.3,76.5 494.7,75.9 494.1,75 493.5,73.3 495.6,73.5 497.4,74.3 496.8,75.3 498.9,75.4 499.9,74.4 502.9,73.6 505.4,73.1 506.6,73.7 507.8,73.5 510.9,73.2 513.3,73.2 514.9,72.8 514.5,71.9 519.4,72.6 522.5,73.5 524.3,73.8 524.9,73 523.7,71.6 522.5,70.4 524.3,69.2 525.6,68 526.2,67.4 529.2,68.2 529.6,69.8 529.2,71 530.4,72.8 529.8,74.1 529.2,75.9 530.4,75.5 531.1,74.1 531.7,72.8 530.8,71 531.4,69.2 532.3,68.2 534.1,69.2 536,68.7 536,70.4 537.2,70.2 538.4,69.2 541.5,69.8 542.3,71 540.8,69.4 539,67.4 544.5,66.8 547,65.5 550.6,64.8 556.8,64.2 561.7,63.8 564.1,63.1 568.1,62.3 570.2,62.8 572.7,63.5 576.3,63.5 579.4,64.3 578.8,65.5 575.1,66.8 571.4,67.7 570.2,68 575.1,67 578.2,67 579.4,67.5 582.5,67.3 585.5,67.4 587.4,68 591.6,67.1 595.9,67.4 599,68.6 598.4,69.7 600.8,70.7 603.3,69.8 606.3,69.7 608.8,70 611.2,69.8 611.8,68.7 613,68.2 619.2,68.7 622.8,69 624.7,69.8 626.5,70.5 631.4,70.4 635.1,70.7 636.3,72 638.1,72.2 641.2,72 644.9,72.1 646.5,71.6 649.1,71.5 648.5,72.8 649.8,72.8 652.2,71.9 655.9,71.9 658.9,72.4 660.8,73 662,73.1 664.4,73.7 666.9,74.7 669.3,75.3 671.2,75.5 673.4,76.4 672.4,77 670.6,77.5 670,78.3 669,78.4 666.3,78 665.1,77.1 662.6,77.1 662,76.3 660.8,76.7 659.6,78 657.7,78.1 657.7,78.9 659.6,79.9 659.9,80.8 657.1,80.8 654,81.6 651,82.6 648.9,83.8 644.9,83.4 642.4,83.9 640.6,83.9 640.3,85.1 639.4,86.2 640,86.8 640.2,88.4 638.5,89.6 638.7,90.1 636.9,90.5 636.3,92.1 634.7,92.3 634.2,93.5 632.3,94.7 632,93.5 631.4,91.7 631,89.9 631.2,88 632.4,86.8 633.9,86.2 635.7,85 637.5,83.8 639.4,82.9 641,82.3 641.2,80.9 640,80.8 638.7,82 636.7,82.9 636.3,81.7 632.6,81.7 632,82.3 630.2,83.8 629.6,84.4 627.7,85 625.3,85 625,84.4 622.8,84.3 619.2,84.6 615.5,84.6 612.4,86 610.6,87.1 608.8,88.7 606.3,90.1 608.2,90.7 608.8,91.5 611.2,91 613,91.9 613.7,93.5 612.8,94.1 612.4,96 612.2,97.8 610.6,99 609.7,100.2 607.9,102 606.3,103.2 604.5,104.5 603.3,104.8 602,104.3 600.8,104.9 600.4,105.3 599.3,105.9 599.2,107.1 597.8,108.1 596.7,108.4 596.4,109.1 597.6,109.9 598.4,110.9 599,113 598.5,114.1 597.1,114.3 595.9,114.7 595.2,114.6 595.3,113.6 595.4,113 595.1,112 595.4,111.2 594.1,110.8 593.3,110.3 593.7,109.7 593.7,108.7 592.6,108.2 591,108.6 589.3,109.4 588.8,108.7 589.8,107.5 588.8,107 586.9,108.2 584.7,109.3 584.9,110.2 586.1,110.9 586.4,111.5 587.4,111.3 588.3,110.8 589.1,111.2 590.4,111.3 590.3,111.9 587.8,112.9 586.7,113.7 586.5,114.6 587.7,115.2 588.5,116.6 589.6,118.2 589.7,119.1 588.3,119.9 589.8,120.4 589.4,121.5 588.6,122.7 587.7,123.9 587,125.1 586.1,126.1 585,127 583.4,128.3 581.2,129.1 580.3,129.6 579.4,129.8 577.6,130.4 575.7,131 575.4,132.1 574.9,131.9 574.9,130.7 574,130.6 572.9,130.5 571.2,131.5 570.6,132.4 570,133.6 570,134 570.8,135.2 572.2,136.7 572.9,137.2 573.9,139.1 574.1,140 574.4,141.2 574.1,142.3 572.8,143.5 571.6,144.1 571.1,144.8 569.4,146 568.7,146.3 568.9,145 568.4,144.1 567.2,143.9 566.5,143 565.9,142.2 564.5,141.3 564,140.3 563.5,140.3 562.9,140.6 562.8,141.4 562.6,142.4 561.9,144 562.1,145.6 562.9,146.5 563.6,148 564.5,148.4 565.7,149.2 566.7,150.3 567,152.1 567.2,153.6 568.1,155 567.5,155.2 567,154.9 565.6,154.1 564.6,153.1 563.7,151.9 563.4,150.2 563,149 562.3,147.9 561.5,147 560.8,147.1 560.8,145.8 561.2,144.6 561,143.4 561.2,141.7 560.5,139.7 560.1,138.5 559.9,136.7 559.2,136.2 558.2,136.7 557.2,137.5 555.9,137.4 556.1,135.5 555.9,134.3 555.2,133.3 554.2,132.3 553.1,130.7 552.8,129.6 551.9,129.4 551.2,130 550,130.2 548.8,130.4 547.2,130.6 546.7,131.6 546.6,132.1 545.5,132.7 544.4,133.3 542.4,135.2 541.2,136.1 541.2,136.6 539.9,137.1 539.5,137.5 538.5,137.9 538.5,139.2 538.8,140.8 538.3,142.3 538.2,143.4 538.3,144.2 537.5,144.2 537.1,145.3 536.2,146 535.3,146.9 534.6,146.4 533.7,144.6 533.3,143 532,141.1 531.2,138.8 530.8,137.9 530.2,136.1 529.6,133.6 529.5,132.4 529.5,131 529.2,129.8 528.9,130.2 528,131.3 526.7,131.3 525.7,130.5 524.9,129.8 526.5,128.9 525.4,129 524.3,128.4 523.1,127.7 522.5,126.6 521.9,125.9 519.6,126.1 518.2,126 516.7,126.2 514.7,126 512.7,125.9 511.2,125.6 510.3,124.5 510,123.8 509.4,123.7 508.4,124.3 507.7,124.4 506,124.3 504.9,123.3 502.7,121.6 502.1,120.5 501.1,120.1 500.5,119.8 500,120.4 499.2,121 499.7,122.1 500.2,122.9 501.3,123.9 501.9,124.5 501.9,125.5 502.7,126.6 502.7,125.7 503.2,125 503.6,125.4 503.6,126.5 503.4,127 504.7,127.3 507.1,127 508.2,126 509,125.4 509.4,124.8 509.5,125.7 509.9,127.1 512.2,128.1 513.7,129.4 513.1,130.7 512.3,131.8 511.2,132.4 511.1,132.8 511.2,133.8 509.6,134.9 508.2,135.3 506.7,136.1 505.4,136.6 504.4,137.3 502.9,138.3 500.6,139.1 498.6,140.1 496.8,140.5 495.6,141.2 493.7,141.3 493.4,140.6 493,138.8 492.8,137.3 492.5,136.2 491.3,134.9 490.7,133.4 489.5,132.1 488.5,130.6 488.2,129.4 487,127.4 486,126.3 485,124.9 483.9,123.3 483.3,122.6 483.3,120.9 482.7,122.3 482.5,122.9 481.6,122.3 481.1,122 480.5,120.6 480.3,120.3M216.9,178.3 218.5,178.2 218.4,179 217,178.9 216.9,178.3M218.6,177.3 220.2,176.6 219.6,177.3 218.6,177.3M57.5,58.9 61.7,58.5 59.9,59.1 57.5,58.9M64.8,59.1 69.7,58.7 72.2,59.1 68.5,59.3 64.8,59.1M70.3,58.3 75.8,58.5 79.5,58.4 75.8,57.9 70.3,58.3M-7,95.8 -6.4,96 -5.1,95.6 -4.2,95.2 -3,95.3 -1.6,95.1 -0.2,95 1.2,94.9 1.7,94.5 0.8,94.1 1.5,93.6 2.1,92.9 1.5,92.4 0.3,92.4 0.4,92.2 0.1,91.6 -0.2,91 -0.8,90.5 -1.5,90.4 -1.8,89.9 -2.5,88.9 -4,88.7 -3.2,88.3 -2.6,87.3 -2.3,86.8 -2.5,86.6 -4.3,86.6 -5.2,86.8 -4.7,86.3 -3.8,85.7 -3.7,85.5 -6.2,85.5 -6.5,86 -7.1,86.7 -7,87.1 -7.6,87.8 -6.8,88.2 -6.9,88.7 -7.1,89.5 -6.2,88.8 -5.9,88.7 -5.7,89.3 -6.2,89.9 -6,90.4 -4.3,90 -4.5,90.5 -4,91 -3.6,91 -3.7,91.8 -4.7,91.9 -5.7,91.9 -5.3,92.2 -5.9,92.5 -5.1,92.4 -5.1,93 -5.8,93.4 -6.5,93.6 -6.3,93.9 -4.9,94 -4,94.1 -3.4,94 -3.7,94.4 -5.1,94.5 -5.6,94.7 -6.2,95.3 -6.8,95.7 -7,95.8M433.5,95.8 434.1,96 435.5,95.6 436.3,95.2 437.6,95.3 438.9,95.1 440.4,95 441.7,94.9 442.2,94.5 441.4,94.1 442.1,93.6 442.6,92.9 442.1,92.4 440.9,92.4 440.9,92.2 440.6,91.6 440.4,91 439.8,90.5 439,90.4 438.8,89.9 438.1,88.9 436.6,88.7 437.3,88.3 437.9,87.3 438.3,86.8 438.1,86.6 436.2,86.6 435.4,86.8 435.8,86.3 436.7,85.7 436.8,85.5 434.4,85.5 434,86 433.4,86.7 433.5,87.1 432.9,87.8 433.8,88.2 433.6,88.7 433.4,89.5 434.4,88.8 434.6,88.7 434.9,89.3 434.4,89.9 434.5,90.4 436.2,90 436.1,90.5 436.6,91 437,91 436.8,91.8 435.8,91.9 434.9,91.9 435.2,92.2 434.6,92.5 435.5,92.4 435.5,93 434.7,93.4 434,93.6 434.3,93.9 435.6,94 436.6,94.1 437.2,94 436.8,94.4 435.5,94.5 435,94.7 434.4,95.3 433.8,95.7 433.5,95.8M135.4,132.3 135.8,132.9 135.2,133.9 134.1,134.6 133,134.3 132.8,133.4 133.7,132.6 134.6,132.3 135.4,132.3M156,154.1 156.6,154.9 157.4,154.9 156.6,155.8 157.2,156.4 156.5,156.8 156.6,157.7 156.1,156.1 156,154.1M244.5,130 245.6,129.8 245.4,130.1 244.5,130M246.8,130.5 247.5,130.8M248,131 248.6,131.1M248.7,131.3 249.6,131.6M249.6,132.2 250.6,132.4 251.1,133 250.1,133.6 249.6,132.9 249.6,132.2M173.6,101.4 174.9,102.6 177.8,102.9 178.4,104 176.7,104.5 175.2,105.7 173.2,104.9 171.6,105.1 172.5,105.7 172.7,105.9 172.1,105.9 171.4,106.4 171,105.4 171.6,104.2 172.5,104.2 172.9,104 173.4,102.9 173.6,101.4M172.4,106.3 173,106.4 173.1,107.5 173.7,108.6 173.1,110.2 172.5,110.3 172.5,111.8 172.4,113.3 171.6,114.2 171,114.2 171,113.5 170.9,113.9 170.3,113.8 169.9,114.7 169.4,114.2 169.1,114.7 167.6,114.7 167.4,114.2 167.5,115 166.7,115.5 166.1,116.1 165.3,115.2 165.5,114.7 165.2,114.7 163.9,114.8 162,115 160.3,115.4 160.1,114.9 160.8,114.9 161.6,114.3 162.3,113.7 164.2,113.6 166,113.6 166.4,113.3 166.5,112.7 167.2,112.1 167.2,111.4 168,111.2 167.6,111.8 167.8,112 169.1,111.5 170.1,110.7 170.7,109.9 171,109.4 170.9,108.2 171.3,107.9 171.6,106.7 172.1,107 172.7,106.7 172.4,106.3M412.7,79.2 413.6,78.8 413.3,78.3 411.1,77.8 413,77.7 413.6,77.1 410.5,77.1 412.1,76 413.1,75.9 414.4,77.1 415.7,76.9 415.8,76.4 417.9,76.3 418.2,76.9 419.1,76.4 420.7,75.9 422.5,76.1 422.8,76.9 423.9,77.5 423.4,78.2 421.9,78.7 420.3,79.2 418.5,79.5 417.2,79.7 415.7,79.5 414.6,79.1 412.7,79.2M431.4,89.4 433,89.6 433.5,90.4 432.8,91.1 433,91.9 433.2,92.4 432.7,93.3 431.9,93.4 430.3,93.8 428.5,94.2 427.8,93.4 428.6,92.8 429.5,92.1 428,91.8 428.1,91.1 428.3,90.7 430,90.7 430.5,90.4 429.9,90.2 430.3,89.7 431.4,89.4M128.7,165.1 129.7,164 130.6,164.2 132.8,165 135.1,165.2 135.8,164.6 137.9,165.6 139.9,166.2 140.1,167.4 138.2,166.9 135.8,166.8 134,166.2 132.1,166.3 130.3,165.8 128.7,165.1M59.3,72.8 60.5,72.2 61.5,72.8 60.3,73.2 59.3,72.8M178.1,103.4 179.4,102.6 181.8,101.5M160.3,115.5 161.1,115.9 161.1,116.4 161.1,117.1 160.9,118 160.6,118.6 159.9,119.1 159.8,118.3 159.4,118.7 159.3,117.8 159,117.4 158.8,117 158.7,116.4 158.4,116.1 159,116 159.5,115.9 160.3,115.5M37.8,83.8 38.5,82.8 37.3,82.2 39.7,82.2 40.3,83.1 39.1,83.7 37.8,83.8M140.1,166.8 141.5,167 140.9,167.5 140.1,166.8M141.9,167 142.8,167 142.5,167.7 141.9,167M142.9,167.2 144.4,166.8 145.8,167.2 145,167.7 143.1,167.8 142.9,167.2M146.7,167.2 148.6,167 150.5,166.9 150.2,167.4 148,167.7 146.7,167.2M151.1,169.4 152.3,168 153.5,167.3 155.7,167 154.8,167.8 152.9,168.8 151.1,169.4M145.6,168.4 146.8,168.3 147.8,169 146.8,169.2 145.6,168.4M147.5,134.3 149.1,134.5 149.6,135.7 149.5,137.1 148.8,137.5 148.8,138.8 149.5,139.7 150.5,139.7 151.6,140 151.8,141.4 150.8,140.9 149.9,140.2 149,139.8 148,140.2 147.5,139.5 147.9,139 147.4,139.1 146.9,138.5 146.7,137.1 147.2,137.2 147.3,135.5 147.5,134.3M60.3,171.4 61.1,173.3 61.7,175.5 60.9,175.7 60.6,177 60.4,178.9 59.7,181.2 59.1,183.1 58.2,185.5 57.5,187.4 55.3,188.1 53.8,187.4 53.4,185.4 52.9,183.7 53.3,182.8 54.2,181.6 54.3,180 53.8,178.2 54.4,176.6 55.6,176.2 56.6,176 57.7,175 58.6,173.9 59.1,173.2 59.7,172.1 60.3,171.4M41.6,168.5 42.3,170.2 41.9,172.1 42.7,174.1 43,174.4 42.4,172.1 42.7,170.2 41.9,168.5 41.6,168.5M32,108.1 32.6,107.6 33.6,107.6 35.4,107.5 36.1,107.3 35.4,106.8 34.2,106.9 33.4,107.1 32.6,107.4 32,107.4M153.4,144.8 154.5,145.9 154.8,147.9 154.4,149.1 153.7,148.8 153.7,148.2 153.4,149.9 151.9,149.2 151.7,147.9 151,147.6 149.4,148.4 149.5,147.3 150.5,146.4 151.5,146.8 152.6,146.3 153.4,144.8M147.3,140.3 148.5,140.5 148.6,141.7 147.9,141.8 147.3,140.3M154.1,160.7 155.4,160.5 155.6,161.3 154.4,161.4 154.1,160.7M156.6,160.3 158.4,160.2 160,160.9 158.4,160.9 156.6,160.8 156.6,160.3M181.4,163.7 182.9,163.5 184.5,163.5 186,162 186.3,162.6 185.3,163.6 184.1,164.3 182.3,164.3 181.4,163.7M200.6,181.4 202.5,182.5 204.3,184.1 203.1,183.7 201.3,182.4 200.6,181.4M160.3,157.7 162.1,157.2 163.9,157.7 164.3,159.2 165.2,160.8 167,159.4 168.6,158.6 170.1,159.2 172.1,159.9 173.1,160.1 175.7,161 176.8,161.5 178.4,163.1 179.8,164.1 180.8,165 179.8,165.1 180.1,165.9 181.3,166.9 182.3,167.9 183.5,169.1 184.5,169.4 183.5,169.7 181.1,169.2 180.1,168.4 178.6,167.2 177.1,166.2 176.2,166.2 175.3,167.2 174.9,168 173.7,168 172.5,167.9 171.3,166.8 169.8,166.9 168.5,167 169.4,165.3 169.8,164.1 168.8,163.4 167,162.5 165.2,162.1 163.3,161.5 162.5,161.7 161.5,160.3 163.3,159.8 163.7,159.4 161.9,159.4 160.5,158.5 160.3,157.7M184.5,159.9 186,160.8 187.2,162.4 186.8,161.4 185.3,160.2 184.5,159.9M22.6,59.2 24.4,58.7 28.1,59 33,59.3 31.8,60.2 28.1,60.4 25,60.1 22.6,59.2M69.7,70.9 67.3,70.8 65.4,70.7 63,69.8 64.2,68.8 64.8,68 66.6,67.5 67.3,66.2 69.1,65.2 72.2,64.3 75.8,63.8 79.5,63.2 83.8,63.1 84.1,63.6 80.7,64.3 75.8,65.2 73.4,65.9 70.9,66.8 69.7,67.6 68.5,68.8 70.3,70 69.7,70.9M168.2,64.9 172.5,64.2 176.2,64.9 173.7,65.7 168.8,65.8 168.2,64.9M179.8,65.2 184.1,65.4 182.3,65.8 179.8,65.2M171.3,67.4 174.9,67.5 173.7,67.7 171.3,67.4M211.3,198.9 212.3,199.6 213.2,200 213.6,201.2 214,202 214.7,201.5 215.2,202.4 215.7,202.8 216.8,203.3 218.4,202.9 217.8,204.2 217.7,204.8 216.6,205.1 216.6,205.8 215.7,207 214.5,207.7 213.9,207.3 214.2,206.4 214.1,205.6 213.2,205.4 212.6,204.9 213,204.5 213.6,203.9 213.9,202.7 213.4,201.8 212.6,200.8 211.7,199.6 211.3,198.9M211.3,206.4 211.8,207.2 212.9,207 213.2,207.8 212.5,208.7 211.7,209.4 211.4,210 211.8,210.4 210.7,210.7 209.6,211.1 209.2,212 208.8,213 207.7,213.7 205.9,213.8 204.9,213.3 203.7,213 204.1,211.9 205.3,211 206.2,210.5 208,209.5 209.5,208.7 209.9,207.8 210.6,206.9 211.3,206.4M43.1,82.6 42.8,81.1 44,80.8 44.4,82 43.1,82.6M143.4,146.5 145,145.4 146.2,144 145.9,142.9 145.3,144.2 143.9,145.8 143.4,146.5M149.2,142.3 150.6,142.8 150,144 150.6,145.6 149.9,144.7 149.1,144 149.2,142.3M156.2,125 157,124.2M173.7,90.7 174.6,90.6 175.3,92.3 175.2,94.1 175.6,96 176.4,96.9 177,97.5 174.9,96.8 174.7,99 175.3,99.8 175.6,100.7 174.6,100 173.7,100.9 173.6,99.6 173.8,98.4 173.7,96.6 174,94.7 173.4,93.5 173.5,91.8 173.7,90.7M152.1,141.6 153.3,141.6 153.8,143.1 152.9,143.4 152.9,144.3 152.3,143.6 152.1,142.8 152.1,141.6M229.2,173.3 230,173.7M230.3,173.9 230.6,173.9M116.8,60.6 119.3,59.5 122.3,59.6 122.3,60.4 119.9,60.9 116.8,60.6M122.3,60.9 126,60.6 128.4,61.4 126,62.1 122.3,61.7 122.3,60.9M116.2,58.9 119.3,58 119.9,59.1 116.2,58.9M164.7,115.2 164.2,116.4 163.3,116 162.7,117 162.1,116.4 161.5,116.1 162.3,115.5 162.7,115.3 163.9,115 164.7,115.2M65.3,141.7 66.6,141.4 65.8,141.8 65.3,141.7M70.1,181.4 70.7,181.6M67.6,182.5 68.2,182.7M84.1,216.8 86.2,217 85.4,217.5 84.1,216.8M52.9,171 53.2,171.3M409.3,110.8 409.7,110.8M405.9,109.9 406.2,109.9M419.7,117 420.1,117M419.9,122.3 420.7,122.1M421.3,122.7 421.7,122.7M423.1,122.3 423.5,122M411.1,136.3 411.7,138.5M394.6,223 396.4,223.6M367.1,220 368.3,219.7 369.5,220.1 367.9,220.7 367.1,220M365.9,219.8 366.8,220.2M113.5,140.3 113.4,142.5M10.1,156.4 8.1,156.5M328.5,157.4 329.1,158 329.8,157.5M306.6,189.9 306.7,189.9M257.4,178.3 257.9,178.4M89.3,221.7 90.1,221.8M118.4,171.6 118.5,171.7M193.5,148.4 193.7,148.5M177,140.6 177.3,140.2M433.5,176.2 433.5,176.3M422.9,166.4 423,166.6M11.3,104.6 11.6,106.4 10.6,105.8 11.3,104.6M10,107 11.8,106.9 11.7,109.1 10.4,109.3 10.2,107.7 10,107M15.2,110.5 18.9,110.3 18.4,112.1 15.2,111 15.2,110.5M28.7,113.8 32.1,113.9 29.3,114.2 28.7,113.8M39.5,114.2 42.2,113.5 41.4,114.3 40,114.6 39.5,114.2M2.9,108.6 4.1,108.4 3.7,109 2.9,108.6M431.7,81.1 432.5,81.4M438.7,83.3 439,83.9M436.6,85 437.1,85M431.9,86.6 431.6,87.3M432.8,85.9 432.1,86.3M27.5,85.9 28.1,85.5 26.9,86.1 27.5,85.9M22.2,86.3 23.2,87 22.3,87.4 22.2,86.3M20.3,88.4 20.9,87.1M18.1,89.6 18.4,89.7M13.2,89.3 12.8,89.9 13.7,89.5 15.2,89.5 15.2,88.7 14,88.8 13.2,89.3M189.3,163.5 190.7,165.1 189.9,165 189.3,163.5M191.5,165 192.7,165.8M194,166.1 195.5,167.2M195.5,168.3 196.7,168.8M196.6,167.2 197.3,168.4M197.6,169.4 198.6,169.9M97.9,144.8 99,145.9 99.4,146.4 100.2,147.9 99.9,148.8 99.1,149.3 98.1,149.5 97.7,148.5 97.6,147 97.7,145.8 97.9,144.8M204.9,214.2 205.8,214.2 205.5,214.6 204.9,214.2M152.7,154.9 151.7,155.5 150.5,155.6 148.6,155.4 147.8,155.2 146.8,155.8 146.6,156.8 146.6,157.7 145.9,158.6 145.3,160.2 145.9,161 146.2,162.3 146.1,163.1 146.6,163.6 147.3,163.6 147.3,161.7 147.2,160.3 148,160.1 148.6,161.7 149.2,162.6 150.2,162.5 150.7,161.7 149.9,160.8 149.5,159.2 148.6,159.1 149.9,158 151,157.9 150.5,157.5 148.9,157.9 148,158.3 147.5,158 146.9,157.6 147,156.4 148,156.1 149.9,156.1 151.1,156.4 152.3,156.1 153.2,154.9 152.7,154.9M116.6,149.9 118.9,150.4 119.9,151.3 120.7,152.1 122.3,153.3 123.3,154.2 124.5,154.7 126,155.9 127,157.1 126.6,158 127.8,159 129.7,159.8 129.7,160.8 129.4,162.3 129.4,163.9 128.7,163.9 128,163.5 127.2,162.9 125.1,161.4 122.8,158 121.3,156.4 120.9,154.7 119.5,153.7 117.6,151.8 116.6,149.9M13.4,59.8 17.1,59.5 19.5,59.5 22,59.8 23.2,60.7 26.3,61.1 23.2,61.9 22.6,62.5 20.8,63.6 18.3,62.9 17.1,62.1 16.5,61.7 14,61.1 13,60.3 13.4,59.8M148.6,126 149.2,126.3 148.8,127.6 148.4,128.8 147.8,130 147.2,129.3 146.9,128.2 147.7,126.8 148,126.2 148.6,126M35.8,160.9 36.1,162.9 37.3,165.3 37.9,167.4 37.4,166.9 36.5,165.1 35.6,162.9 35.8,160.9M177,206.6 179.2,207.1 181.1,206.7 181.4,208.2 181.1,209.7 179.8,210.2 178.6,210 177.8,208.8 177.1,207.6 177,206.6M15.2,85.6 15.9,84.6 17.1,85 16.5,85.6 15.2,85.6M203.8,174.9 204.6,175.9M204.7,176.3 205.3,177M205.9,178.3 206.2,178.6M207,180.6 207.3,180.8M38.9,157.4 39.7,156.4 41.3,156.4 41.9,157.4 41.6,158.6 40.9,159.8 39.7,159.9 38.9,159 38.9,157.4M218.4,70.2 220.2,69.8 222.7,70 223.3,70.4 220.2,70.7 218.4,70.2M340.8,92.1 342,92.5 341.4,92.1 340.8,92.1M237,91.2 235.2,91.9M227.6,93.3 226.8,93.4M203,89.6 203.7,90.1M347.5,241.3 352.4,241.5 355.4,243.7 352.4,245.6 348.7,244.7 347.5,241.3M275.9,86.2 274.7,87.2 275.5,88 276.2,87.1 275.9,86.2M277.1,88.3 278.4,89.3 277.7,90.1 277,89.3 277.1,88.3M345.2,148 344.6,147 343.2,145.8 342,146.8 342.1,147.9 341.4,147.3 339.1,146.8 338.1,146.3 336.8,145.1 336.2,145 335.5,144.1 335.6,143.3 334.3,141.9 333.2,140.9 332.2,140.7 330.6,140.2 328.6,139.7 327.5,139 325.6,137.3 324,137.1 322.4,137.7 320.6,137.2 318.2,136.3 316.3,135.5 315.4,134.9 313.8,134.4 312.7,133.5 311.4,132.4 311.1,131.9 311.6,131.5 311.5,130.6 310.9,129.1 310.3,128.5 308.6,127 307.4,125.9 306.6,125.4 306.6,124.3 304.8,122.8 303.2,121.6 302.5,120.3 302,118.8 300.1,118.1 300,119.1 300.5,120.3 301.6,121.5 302.5,122.7 303.1,123.7 304.2,124.9 304.7,126.3 305.4,127.3 306.1,127.9 306,128.9 305.5,128.3 303.9,127.1 303.2,126.3 303.1,124.9 301.5,124.2 300.4,123.6 299.8,122.9 300.7,122.3 300.1,121.1 298.9,120 298.2,118.8 297.7,118.1 297.2,117.2 295.6,115.5 293,114.8 292.1,113.3 291.3,112.2 290.6,110.8 290,110.5 289.1,109.3 288.3,107.6 288.5,105.9 288.1,104.7 288.6,103.2 288.8,100.6 287.9,97.9 290,98.1 290.6,99.1 290.7,98 290,97.2 289.7,96.8 288.1,96 286.3,95.3 284.5,94.7 284.1,93.2 282.6,91.7 281,90.7 280.8,89.5 279.2,89.5 278.7,88.3 277.1,86.8 275.9,85.9 274.7,85.6 273.3,86 271.9,85.5 269.4,84.3 267.3,83.8 264.3,83.8 262.4,83.3 261.8,82.9 260.6,82.6 259.1,83.1 257.7,83.8 254.7,84.8 255.1,84.2 255.3,82.9 256.9,82.3 255.1,82.6 253.9,83.4 252.7,84.4 251.8,85.2 251.8,86 249.6,86.8 247.4,87.8 245.3,88.9 242.9,89.6 240.7,90.1 238.8,90.4 241,89.5 243.5,88.7 244.7,88 246.5,87.1 247.8,85.6 248.4,85.2 246.5,85.2 244.1,85.4 242,85.5 242.5,84.4 241.6,83.5 239.2,83.2 238.1,82.5 237.4,81.7 238.6,80.5 238.9,79.9 241,79.9 243.2,79.5 243.7,78.3 242.9,78.3 241,78.3 238.1,78.3 236.7,78.1 234.8,77 236.7,76.3 239.2,75.9 240.2,76.4 242.5,76.4 242.9,75.9 241.6,75.4 240.2,75 239.8,74.4 236.4,73.7 237.1,73 239.8,72.8 241,71.9 242.3,71.3 244.7,70.8 248.6,70 250.8,70.4 254.5,70.7 256.9,71 258.8,71.3 261.8,71.5 264.9,71.5 268,72.1 270.4,72.2 272.8,72.8 274.7,72.5 276.5,72.1 277.7,72.2 280.2,71.6 282,71.6 283.9,71 285.1,71.6 286.9,72.4 288.1,71.6 290,72.2 292.4,72 296.1,72.8 299.2,73 301,73.7 299.8,74.3 302.2,74.4 305.9,74.2 307.7,74.7 308.3,75.5 308.9,74.3 310.8,73.7 312.6,74.1 315.7,74.3 318.1,74.3 320,73.7 321.2,73.5 323,73.8 323.6,74.9 324.9,73.8 323.6,72.6 322.7,71.4 322.4,70.2 324.2,69.3 325.5,69.6 326.9,70.4 327.9,71.6 328.5,72.2 329.8,72.8 331.6,72.8 332.8,73.7 332.8,74.9 334,74.7 335.3,74.1 335.9,72.8 336.5,71.9 339.5,72 340.8,72.8 341,74.1 339.5,75 338.3,76.1 335.9,75.9 334.9,75.9 335.3,76.7 333.4,77.3 331.6,77.7 332.8,78.7 330.4,78.9 329.5,79.8 327.3,80.5 326.1,82 325.3,82.5 324.6,83.8 325.2,85.2 326.7,85.4 327.3,87.1 327.5,87.4 329.8,87.2 332.8,88 335.3,88.9 336.5,89.5 339.8,89.6 339.9,91.1 339.9,92.3 340.8,93.2 342,94.4 343.2,94.1 344.1,92.9 343.8,91.3 343.5,90.2 345.7,89.3 346.6,88 346.8,86.8 345.3,85.5 344.4,84.4 345.7,83.5 345,82.3 345,81 345.7,80.8 348.1,81 350.6,81.1 352.4,82 353.6,82.5 355.2,82.6 355.4,84 355.1,85.2 356.7,86 358.5,85.6 360,84.6 361,83.4 361.6,83.3 362.8,84.6 364,85.9 364.9,87.1 365.5,88.3 366.8,89.4 368.5,90.1 370.1,90.7 370.4,91.7 372,92.5 372.3,93.6 370.7,94.2 368.9,94.5 367.1,95.5 365,95.7 362.2,95.6 359.1,95.7 357.9,96.7 356.6,97.3 355.2,98.3 353.4,99.8 354.8,99.2 356.7,97.9 358.5,97.2 361,96.9 361.8,97.4 360.7,98.4 359.4,98.4 361,98.9 361.2,99.6 361.6,100.4 362.4,100.8 364,101.2 365.2,101.3 366.6,99.6 367.2,100.8 365.9,101.7 362.8,102.5 361.6,103.2 360.3,103.9 359.6,103.5 360,102.5 361.6,101.7 359.7,101.8 358.5,102.3 356.7,102.9 354.8,103.5 354.5,103.7 353.9,104.7 353.6,105.3 354.1,105.8 354.8,105.7 354.8,106 354,106.3 353,106.4 351.8,106.5 349.9,107.4 351.8,107 349.9,107.5 349.9,108.4 349.5,108.8 348.8,109.4 348.1,108.7 348.6,109.7 348.5,110.5 347.6,111.5 347.5,111.8 347,110.3 347.1,109.1 346.8,110.5 347.1,111.9 347.6,112.4 348.1,113.9 346.9,114.6 345.7,115 345,115.5 343.8,116 342.7,117 341.4,117.8 340.9,119.4 340.9,119.9 341.4,121.2 342,122.1 342.5,123.9 342.5,125.4 342.1,126.1 341.3,126.2 340.5,125.1 340.2,124.5 339.3,123.1 339.3,121.7 338.4,120.8 337.7,120.1 336.1,120.6 334.9,119.8 333.8,119.9 332.8,119.9 331.6,119.9 331,120.1 331.1,121.1 331.5,121.5 330.4,121.4 329.1,121.2 327.9,120.8 326.1,120.5 324.5,121.1 323.3,122 321.6,123.1 321.3,124.5 321.6,125.3 320.9,127 320.8,129.4 321.4,131.2 322.4,132.7 322.9,133.4 323.6,134 324.9,134.6 326.7,134.4 327.9,134.1 328.8,133.9 329.5,133 329.8,132.7 329.9,131.5 330.4,131 330.7,130.8 332.8,130.5 333.8,130.6 334.3,131.1 333.5,132.2 333.4,133.3 333.1,134.5 332.6,135.5 332.4,136.7 331.7,137.4 332.6,137.7 333.4,137.5 335.3,137.5 336.5,137.4 337.7,137.5 338.7,138.5 338.3,139.7 338.3,140.9 338.1,142.2 337.9,143.4 338.1,143.5 338.9,144.6 339.9,145.6 340.8,145.8 341.7,145.7 342.7,145.3 343.8,145.1 345,145.4 345.8,146.2 346.5,146.3 346.4,147 347.1,145.8 348,145.1 348.1,144.1 349,143.4 349.7,143 351.2,142.8 352.8,141.7 353.4,142.2 352.5,142.6 352.9,143.5 352.9,144.8 353.6,145.2 353.6,144 353.6,143.4 354.6,142.8 354.8,141.9 355.1,142.8 356.3,142.9 356.9,143.6 357.3,144 358.5,143.9 359.7,143.9 361,144.5 361.7,144.2 361.9,144 363.4,143.7 364.6,143.7 363.6,144.1 364,144.6 365.2,144.8 366.1,145.8 367.1,146.4 368.3,147 369.3,148.5 370.5,149.5 372.9,149.6 374.4,149.7 376.5,150.8 377.5,151.5 378.1,153.1 378.9,154.6 379.3,156.1 378.7,156.8 379.9,157 381.1,157.1 381.4,157.7 381.1,158.5 382.4,157.5 384.2,158 385.4,158.6 386,159.6 386.3,159.8 387.3,159.7 389.1,160.2 391.6,160.2 393.4,161.3 394.9,162.5 395.8,163 397.2,163.1 397.4,163.9 397.9,165.4 397.8,166.7 396.8,168.6 395.2,170.1 394.6,171.2 393.4,172.7 392.8,173.9 392.8,174.9 392.8,177 392.5,178.4 391.9,179.4 391.8,180.8 391.2,181.6 390.3,183.2 390.3,183.7 389.1,184.9 387.6,184.9 386,185.2 383.8,186.2 382,187.4 381.3,188.1 381,189.6 381.1,190.6 380.8,191.8 379.7,192.8 378.9,194.1 378.1,195.2 376.7,196.2 375.2,198 374.7,198.9 373.2,199.6 371.7,199.5 369.8,198.9 369,199.1 370.4,200 370.5,200.8 371.1,201.3 370.1,203.3 368.5,204 365.9,204.5 364.4,204.4 364.4,205.8 364.3,206.7 362.4,207.2 361,206.7 360.7,208 361.9,208.6 362.7,209.1 361.6,209.2 361,209.8 360.6,211.3 360.1,211.9 358.1,212.5 357.9,213 357.9,213.7 359.1,214.3 359.9,215.3 358.5,216.4 357.7,217.4 356.7,218.2 355.8,219.2 356.1,220 356.8,220.9 355.4,221.1 353.9,221.4 353.7,222.5 352.4,222.3 350.6,221.4 349.1,220.9 348.7,219.8 348.1,218 348.1,216.2 348.1,214.3 348,214 349.3,212.9 350.2,211.3 351.2,210 351.4,208.6 350.2,208 350.2,207 350.7,205.5 350.6,203.9 351,201.8 351.5,200.2 352.5,198.4 352.9,197.2 353,195.3 353.1,193.4 353,191.7 353.7,189.8 354.2,187.9 354.3,185.7 354.2,185 354.6,183.7 354.6,181.5 354.5,179.4 353.2,178.4 352.4,177.6 350.6,176.7 348.5,175.6 347.1,173.9 346.5,172.3 346.1,171.4 345.4,170.2 344.7,168.8 344.3,167.9 343.7,166.7 342.7,165.2 341.4,164.1 341,162.5 341.5,161.4 342.1,161 342.7,159.9 342.2,159.9 341.4,159.4 341.6,158 342.5,156.8 342.6,155.8 343,155.5 343.9,155 344.1,154.6 344.6,153.6 346.1,152 345.7,151.6 345.9,150.1 345.7,148.7 345.2,148M-0.1,243.7 6.1,242.9 12.2,242.7 18.3,242.5 24.4,242.7 30.5,243.1 36.7,241.6 40.3,240.9 42.8,240.8 46.5,242.3 48.9,241 55,239.7 61.1,238.6 66,237.5 69.7,238.3 73.4,239.3 79.5,239.7 83.2,239.8 85.6,241 86.8,242.6 89.3,242.3 91.7,241.6 95.4,240.7 99.1,239.8 104,238.6 107.6,238.2 110.1,238.2 116.2,238.1 122.3,237.5 126,237 128.4,238.1 134.6,237.6 138.2,237.4 141.9,238.5 146.8,238.5 150.5,238.1 155.4,237.8 159,237.6 165.2,237.6 168.8,238.1 171.3,238.5 174.9,238.7 177.4,239.4 179.8,239.7 183.5,240.7 187.2,240.8 189.6,241.6 193.3,241.9 195.8,242.7 198.2,243 200.6,243.1 204.3,243.7 208.6,244.5 208,245.6 205.5,246.8 203.1,248.4 200.6,249.9 201.3,251.4 198.2,252.9 196.2,254.3 197,255.7 200.6,256.8 208,258.4 220.2,259.5 232.5,260.3 244.7,260.5 256.9,260.9 261.8,260.8 254.5,259 250.8,257.4 259.4,256 252,254.1 248.4,252.9 245.9,251.8 248.4,251.3 253.3,250.8 259.4,249.9 263.1,249.4 269.2,248.9 275.3,248.4 281.4,247.8 287.5,246.8 290,246.3 293.7,246.8 299.8,247.4 303.4,248 305.9,247.6 312,248.4 315.7,248 318.1,246.8 320.6,245.6 324.2,245.9 330.4,245.8 336.5,246.2 342.6,246.4 346.3,245.6 348.7,245.9 349.9,244.3 352.4,243.1 354.8,241.6 356.4,239.6 358.5,238.2 361.6,236.7 365.1,235.2 368.3,234.4 372.9,233.9 370.7,235.2 367.7,236.4 365.9,238 365.1,239.6 364.6,241.3 365.9,243.1 366.5,244.9 367.1,246.5 364.6,248 361,249.2 359.1,250.8 363.4,251.7 368.3,252.1 373.8,252.5 381.8,253 391.3,253.2 397.7,252.1 403.8,250.6 408.7,249.1 413.6,247.8 418.5,246.5 422.1,245.6 426.1,244.7 430.7,244.1 435.6,244 440.5,243.7M440.5,243.7 446.6,242.9 452.7,242.7 458.9,242.5 465,242.7 471.1,243.1 477.2,241.6 480.9,240.9 483.3,240.8 487,242.3 489.5,241 495.6,239.7 501.7,238.6 506.6,237.5 510.3,238.3 513.9,239.3 520,239.7 523.7,239.8 526.2,241 527.4,242.6 529.8,242.3 532.3,241.6 536,240.7 539.6,239.8 544.5,238.6 548.2,238.2 550.6,238.2 556.8,238.1 562.9,237.5 566.5,237 569,238.1 575.1,237.6 578.8,237.4 582.5,238.5 587.4,238.5 591,238.1 595.9,237.8 599.6,237.6 605.7,237.6 609.4,238.1 611.8,238.5 615.5,238.7 617.9,239.4 620.4,239.7 624.1,240.7 627.7,240.8 630.2,241.6 633.9,241.9 636.3,242.7 638.7,243 641.2,243.1 644.9,243.7 649.1,244.5 648.5,245.6 646.1,246.8 643.6,248.4 641.2,249.9 641.8,251.4 638.7,252.9 636.8,254.3 637.5,255.7 641.2,256.8 648.5,258.4 660.8,259.5 673,260.3 685.3,260.5 697.5,260.9 702.4,260.8 695,259 691.4,257.4 699.9,256 692.6,254.1 688.9,252.9 686.5,251.8 688.9,251.3 693.8,250.8 699.9,249.9 703.6,249.4 709.7,248.9 715.8,248.4 722,247.8 728.1,246.8 730.5,246.3 734.2,246.8 740.3,247.4 744,248 746.4,247.6 752.6,248.4 756.2,248 758.7,246.8 761.1,245.6 764.8,245.9 770.9,245.8 777,246.2 783.2,246.4 786.8,245.6 789.3,245.9 790.5,244.3 792.9,243.1 795.4,241.6 797,239.6 799.1,238.2 802.1,236.7 805.7,235.2 808.8,234.4 813.5,233.9 811.3,235.2 808.2,236.4 806.4,238 805.7,239.6 805.2,241.3 806.4,243.1 807,244.9 807.6,246.5 805.2,248 801.5,249.2 799.7,250.8 804,251.7 808.8,252.1 814.4,252.5 822.3,253 831.9,253.2 838.2,252.1 844.3,250.6 849.2,249.1 854.1,247.8 859,246.5 862.7,245.6 866.6,244.7 871.3,244.1 876.2,244 881.1,243.7M-440.6,243.7 -434.5,242.9 -428.4,242.7 -422.2,242.5 -416.1,242.7 -410,243.1 -403.9,241.6 -400.2,240.9 -397.8,240.8 -394.1,242.3 -391.7,241 -385.5,239.7 -379.4,238.6 -374.5,237.5 -370.8,238.3 -367.2,239.3 -361.1,239.7 -357.4,239.8 -354.9,241 -353.7,242.6 -351.3,242.3 -348.8,241.6 -345.1,240.7 -341.5,239.8 -336.6,238.6 -332.9,238.2 -330.5,238.2 -324.3,238.1 -318.2,237.5 -314.6,237 -312.1,238.1 -306,237.6 -302.3,237.4 -298.6,238.5 -293.8,238.5 -290.1,238.1 -285.2,237.8 -281.5,237.6 -275.4,237.6 -271.7,238.1 -269.3,238.5 -265.6,238.7 -263.2,239.4 -260.7,239.7 -257,240.7 -253.4,240.8 -250.9,241.6 -247.2,241.9 -244.8,242.7 -242.4,243 -239.9,243.1 -236.2,243.7 -232,244.5 -232.6,245.6 -235,246.8 -237.5,248.4 -239.9,249.9 -239.3,251.4 -242.4,252.9 -244.3,254.3 -243.6,255.7 -239.9,256.8 -232.6,258.4 -220.3,259.5 -208.1,260.3 -195.9,260.5 -183.6,260.9 -178.7,260.8 -186.1,259 -189.7,257.4 -181.2,256 -188.5,254.1 -192.2,252.9 -194.6,251.8 -192.2,251.3 -187.3,250.8 -181.2,249.9 -177.5,249.4 -171.4,248.9 -165.3,248.4 -159.1,247.8 -153,246.8 -150.6,246.3 -146.9,246.8 -140.8,247.4 -137.1,248 -134.7,247.6 -128.5,248.4 -124.9,248 -122.4,246.8 -120,245.6 -116.3,245.9 -110.2,245.8 -104.1,246.2 -98,246.4 -94.3,245.6 -91.8,245.9 -90.6,244.3 -88.2,243.1 -85.7,241.6 -84.1,239.6 -82,238.2 -79,236.7 -75.4,235.2 -72.3,234.4 -67.6,233.9 -69.8,235.2 -72.9,236.4 -74.7,238 -75.4,239.6 -75.9,241.3 -74.7,243.1 -74.1,244.9 -73.5,246.5 -75.9,248 -79.6,249.2 -81.4,250.8 -77.1,251.7 -72.3,252.1 -66.7,252.5 -58.8,253 -49.2,253.2 -42.9,252.1 -36.8,250.6 -31.9,249.1 -27,247.8 -22.1,246.5 -18.4,245.6 -14.5,244.7 -9.8,244.1 -4.9,244 -0.1,243.7M361.6,96.1 363.4,96.3 364.9,97 362.8,96.8 361.6,96.1M304.4,85.4 306.5,84.8 310.2,84.6 307.7,85 304.4,85.4M334,61.7 327.9,60.7 324.2,59.7 323,58.9 326.7,57.9 331.6,58.9 333.4,60.1 334,61.7M359.7,81.4 354.8,80.4 352.4,79.3 346.9,78.7 345,78.2 345,77.8 347.5,77.3 349.9,77.7 350.6,76.5 351.2,74.7 350.6,73.7 347.5,72.8 345,71.9 343.8,71.3 341.4,71.8 337.1,71.6 334,71.3 331.6,70.7 330.4,69.4 330.6,68 331.6,67.1 335.3,67 336.5,68 337.1,67 340.2,67 341.4,67.7 342,68.6 345,68 345,67.4 347.5,68.2 349.3,69.4 352.4,69.8 354.8,70.8 356.7,71.4 358.5,72.5 357.9,73.5 361,74.1 363.4,74.9 365.2,75.6 364.6,76.7 362.8,77.7 360.3,76.7 357.9,75.9 358.5,77.1 361,78.3 362.2,79.5 361.2,80.6 359.1,80.1 356.7,79.3 358.5,80.5 360.3,81.4 359.7,81.4M290,70.2 286.9,69.3 286.9,68.1 288.8,66.5 292.4,66.2 296.7,66.5 296.7,67.4 294.9,68.5 293,69.8 290,70.2M313.2,65.2 318.1,65.5 321.2,64.9 320.6,63.7 316.9,63.5 313.2,64.1 313.2,65.2M343.2,88 343.8,88.7M342.6,88.4 342.8,88.9M230.4,79.5 232.5,79.3 233.9,79.9 232.1,79.9 230.4,79.5M235.8,83.5 237.7,83.4 237.6,84 235.8,83.5M228.8,83.2 229.5,83.4M378.1,252.5 384.2,252.9 385.4,254.8 379.3,255.1 376.9,253.8 378.1,252.5M342,67.1 345,67 347.5,67.7 345.7,68.3 342.6,68 342,67.1M344.8,127.3 345.4,126.1 345,126.7M346,124.4 346.3,124.8M345.3,124.3 344.2,124.4M347.3,126.1 347.4,126.7M348.1,127.2 348.4,127.4M350.4,131.2 351,131M364.7,143.7 365.9,143.6 365.9,144.5 364.7,144.5 364.7,143.7M364.9,136.9 365.6,137.1M365.6,138.8 366,139.1M365.9,139.8 366,140.1M367.6,140.7 367.7,140.8M362.2,143.4 362.4,143.3M356.1,141.9 356.3,142M339.2,130.2 339.4,130.6 338.9,130.6 339.2,130.2M349.7,209.8 350.4,209.8 350.6,208.2 349.9,208 349.7,209.8M338.9,80.4 340.2,80.3 342.6,80.8 339.5,81.1 338.9,80.4M322.4,65.5 326.1,65.9 326.1,64.9 323,64.8 322.4,65.5M336.6,130.1 337.7,129.1 338.9,128.8 339.7,128.7 341,128.7 342.6,128.9 343.8,129.5 345.7,130.2 347.5,131 348.7,131.6 349.8,132.2 348.5,132.6 347.7,132.4 345.4,132.7 346.1,132.1 346,131.6 344.4,131.2 343.2,130.4 342,130 340.8,129.8 339.8,129.1 338.3,129.8 337.3,130.2 336.6,130.1M342.6,64.8 337.7,64.6 331.6,64.9 327.9,64.1 323,63.6 323,64.8 327.9,66 332.8,66.2 337.7,66.2 342,66 342.6,64.8M373.4,72.1 375.6,72.5 376.9,71.9 375,71.3 373.4,72.1M345,63.8 342.6,64.1 338.9,63.8 334,63.8 331,63.7 331.6,62.9 332.8,61.8 334,61.2 336.5,60.1 334.6,59.1 329.1,58 328.5,57.4 332.8,56.7 340.2,55.9 347.5,55.7 354.8,55.7 362.2,56.3 365.2,56.7 362.2,57.6 358.5,58.3 354.8,59.1 352.4,59.8 348.7,60.4 347.5,61.3 348.1,62.1 345,62.9 345,63.8M338.4,106 339.5,106.4 340.8,106.2 342.6,105.4 343.9,104.7 342.6,104.9 341.1,104.8 339.5,105.7 338.8,105.6 338.4,106M290,77.7 293.7,77.5 296.1,76.5 294.3,75.3 291.2,75.9 290,76.7 290,77.7M297.3,82.6 301,82.3 303.4,81 306.5,80.4 304.1,81 301,81.4 298.5,81.6 297.3,82.6M386.7,84 384.8,83.5 381.8,82.8 379.9,81.4 378.7,80.1 377.2,78.7 376.3,77.1 374.8,75.4 374.8,74.1 378.1,73.1 378.1,72.2 376.9,71.6 373.8,71 373.8,69.8 372.6,68.6 371.8,68.2 370.7,66.8 368.9,65.2 365.9,64.3 362.2,64.2 359.1,64.3 356.1,63.8 353.6,63.1 352.4,61.9 351.2,61.5 356.1,60.7 359.7,60.3 361,59.5 358.5,58.9 362.2,58 365.9,57.3 369.5,56.8 374.4,56.7 379.3,56.6 384.2,56.1 389.1,55.5 395.2,55.2 401.3,55.1 407.5,55.5 411.1,56.2 414.8,56.8 413.6,57.6 419.7,57.6 425.2,57.6 426.4,57.8 423.4,58.6 419.7,59.5 417.9,60.7 416.6,61.9 417.2,63.1 416,64.3 416.6,65.5 415.4,66.4 413.6,67.4 412.4,68.2 413.6,69.2 413.6,69.9 409.9,70.4 410.5,71 413,71.4 411.7,72.2 409.3,73.1 406.2,73.7 402.6,74.1 400.1,74.9 397.7,76.1 394.6,76.9 391.6,77.7 390.7,78.9 389.7,80.1 388.5,81.4 388.1,82.6 387.5,83.5 386.7,84M277.7,90.8 279.3,91.1 279.2,92.3 280.1,93.5 278.5,92.3 277.6,91.2 277.7,90.8M349.3,134.4 349.8,134.1 351.4,134.3 351.9,134.1 351.4,133.5 350.7,132.8 352.1,132.7 352.9,132.6 354,132.7 355,132.8 355.8,133.3 356.4,133.8 356.9,134.1 356.4,134.6 355,134.3 354.1,134.6 353.5,135.3 352.8,134.9 351.8,134.6 350.2,134.6 349.3,134.4M336.8,101.1 338.3,101.7 338.6,102.6 337.8,103.6 339.5,104.3 340.5,103.9 340.6,102.6 341,101.8 342.4,102.5 342.8,102 342,101.3 340.8,100.8 338.9,100.6 337.5,100.6 336.8,101.1M344.6,134.4 345.7,134.3 347.1,134.6 347.3,135 346,135.2 344.8,134.7 344.6,134.4M323,72.8 320,73.3 318.7,72.5 321.2,71.8 323,72.4 323,72.8M252.3,87.4 254.2,86.7 253.8,85.7 252.7,86.2 251.3,86.7 252.3,87.4M342.6,81 343.2,81.7 342.4,81.6 342.6,81M352.9,143.5 352.4,144.8 353.2,145.6 353.6,144.6 352.9,143.5M298.5,65.3 303.4,66.2 308.3,65.9 310.8,65.3 310.8,64.5 307.1,63.5 302.2,63.8 297.3,64.1 298.5,65.3M333.3,105.9 333.1,104.5 333.4,102.6 332.8,102.5 334,101.4 335.3,100.9 336.5,101.1 335.9,102 335,102.6 334.6,103.9 334.9,105.1 334.2,105.9 333.3,105.9M375.5,100 376,98.9 375.6,97.8 375.5,97.5 374.4,96.7 372.6,96.1 372,95.7 372.5,94.4 372.7,94 370.9,94.7 370.5,95.1 369.8,96.3 369,97.2 367.9,98.1 367.9,98.9 370.1,98.9 372,99 372.2,99.7 373.2,99.2 374.2,99.1 374.4,99.8 374.9,100.1 375.5,100M335.4,142 336.5,143.1 335.7,142.9 335.4,142M342.8,104.1 343.8,104.1 345.7,104.1 347.1,103.9 347.1,103.1 345.7,103.4 343.8,103.5 342.8,104.1M361.8,99.7 363.4,100.2 364.6,100.3 363.6,100.8 362.2,100.4 361.8,99.7M321.8,68.1 319.3,69.8 315.7,69 315.7,68 318.1,67 321.2,67.3 321.8,68.1M290.6,64.1 294.9,64.3 297.9,63.5 296.1,62.6 292.4,63.1 290.6,64.1M358.3,134.3 360.2,134.4 360,134.9 358.3,134.9 358.3,134.3M315.1,88 315.7,86.5 315.3,86.2 315.1,88M314.5,61.7 319.3,62.1 321.8,61.1 318.1,60.3 314.5,60.9 314.5,61.7M321.8,61.9 325.5,62.1 324.2,61.1 321.2,61.3 321.8,61.9M302.2,62.3 305.9,62.4 305.9,61.7 302.2,61.5 302.2,62.3M312,62.9 312.6,62.3M305.9,61.4 307.1,60.8M241,253.5 244.1,253.3 244.7,254.3 242.3,254.6 241,253.5M329.8,68.2 326.1,69.2 323.6,68.2 323.6,67 327.9,66.8 329.8,67.3 329.8,68.2M342.4,79.2 339.5,79.3 338.3,78.9 336.5,79.9 333.8,79.3 335.3,78.1 335,76.9 336.5,76.5 338.3,76.7 340.2,78 341.4,78.6 342.4,79.2M365.9,233.6 368.9,232.7M372.6,231.7 373.8,231.5M384.2,231 385.4,231.1M327.8,100 330.4,98.6 331.3,97.9 332.8,97.3 334.6,97.5 336.5,98.5 336.7,99.7 337.1,100.2 336.5,99.8 334.6,100.2 333.4,100.2 332.8,99.4 333.1,99.1 332.2,99.6 331,99.8 329.8,100.1 327.8,100M356.8,221.2 356.9,221.6 357.3,222.3 359.1,223.5 360.7,223.8 359.7,224.2 357.9,224.6 358.1,225.2 356.1,224.7 354.2,224.4 352.4,223.4 350.6,222.3 352.4,222.8 353.9,222.9 354.5,222.2 355.4,221.3 356.8,221.2M354.8,175.5 356.1,176.6 355.1,176.3 354.8,175.5M283.4,95 286.3,95.5 287.2,96 288.8,96.9 289.5,97.9 287.9,97.8 286.4,97 285.1,96.2 284,95.8 283.4,95M297.3,72.8 299.8,73.5 302.2,73.5 305.9,73.3 308.9,73.1 312,72.8 315.7,72.6 316.3,71.9 314.5,71 317.1,70.9 315.7,69.8 313.2,68.6 312,68 308.3,67.7 305.9,68.2 302.2,68.2 299.8,67.6 296.7,68.2 294.9,69.7 296.7,70 298.5,71 302.2,71.3 298.5,71.9 297,71.6 297.3,72.8M322,95.5 322.7,94.5 321.2,93.3 320.6,92.3 319.3,91.3 320,92.5 320.8,93.8 321.8,94.7 322,95.5M318.1,93.9 317.5,92.5 318.1,92.3 318.5,93.5 318.1,93.9" fill="none" stroke="#000" stroke-width="0.9" stroke-linejoin="round"/></g>
<rect x="-0.1" y="46.5" width="440.6" height="220.5" fill="none" stroke="#000" stroke-width="0.7"/>
<g clip-path="url(#cm1)"><path d="M39.5,396.4 38.9,396.2 37.9,396.1 36.5,396.6 35.4,396.9 33.2,396.3 30.8,396.1 29.3,395.5 28.1,394.9 26.5,394.5 24.4,395.5 24.4,397 23.4,397.7 21.4,396.9 19,396.2 18.4,395.1 16.1,394.5 14.6,394.5 13.4,393.8 12.3,393.3 13.4,391.9 12.9,391 12.9,390.2 13.4,389.5 11.9,389.1 9.5,389.5 6.1,389.8 3.6,389.8 1.2,390.1 -0.8,391.1 -2.5,391.8 -3.7,391.6 -6.5,390.8 -7.3,391 -7.6,391.7 -8.4,393.2 -9.4,393.6 -10.5,394 -11.3,395.2 -12,396.2 -12.2,397.3 -11.8,397.5 -12.5,398.7 -14.1,399.8 -15.8,400.6 -16.4,401.5 -17.8,402.8 -18.4,404.3 -19.5,405.7 -20.7,408.4 -20.9,409.2 -20.2,410.9 -19.9,411.4 -19.6,412.5 -20.2,415 -21,416.3 -21.5,416.6 -20.6,417.5 -20.4,418.2 -20.5,419.5 -19.1,420 -18.4,421.1 -17.9,421.7 -16.8,422.9 -16.2,424.2 -15.3,425.4 -14.1,426.1 -13.3,426.8 -11.1,428.4 -9.5,429.1 -7.4,428.7 -4.9,428.1 -3.7,428.4 -2.6,428.8 -0.3,427.8 1.4,427.1 2.9,426.8 4.1,426.7 5.3,426.8 6.1,427.4 6.7,428.2 7.4,429.3 8.5,429.1 10.4,429 11,429.6 11.8,429.6 11.9,430.9 11.5,432.1 11.7,433.3 11.5,434 10.7,435.4 11.3,436.9 12.2,437.9 13.4,439.3 14.4,440.4 14.9,441.4 15,442 15.6,443.1 16.1,445.3 16.8,448 16.3,449.9 15.2,451.6 14.8,453.1 14.3,455.7 14.4,456.6 15.2,457.8 16.3,460 17.6,461.8 17.7,462.7 17.7,464.5 18.6,467.1 20.1,469.5 21.1,471.9 22.3,473.7 21.9,474.9 22.5,476 22.6,476.6 24.4,477.1 27,476.4 28.6,476.3 31.3,476.1 34.1,474.9 36.9,472.5 37.9,471.1 39.8,469.4 40.2,467.6 39.8,466.4 41.1,465.4 43.3,464.5 43.4,463.8 43.4,461.4 42.9,460.2 42.7,458.8 44.4,457.5 45.1,456.4 46.5,455.6 48.8,454.3 49.8,452.9 49.9,452.3 49.5,450.4 49.6,447.6 49.1,447.1 48.3,445.5 48.3,444.3 48,442.8 47.4,442.1 47.8,440.7 48.5,439.5 49,438.4 50,437.3 50.7,436.6 52,435 54.4,432.7 55.4,432.1 56.6,431.1 58.1,429.6 59.3,428.1 59.9,427.2 60.9,424.8 62.1,422.9 62.9,421.9 62.7,420.2 60.2,420.8 57.5,421 55,421.9 53.2,420.8 52.7,420.4 52.9,419.3 52.2,418.7 50.4,417.2 49.1,416.3 48.3,415.5 47.9,415 47.1,412.6 45.7,411.6 45.5,410.7 45.5,409 44.7,407.5 43.6,406.5 43.4,405.3 42.7,404.1 41.9,402.9 41.3,401.4 40.6,400.2 39.8,398.6 39.7,398M480,396.4 479.4,396.2 478.4,396.1 477.1,396.6 476,396.9 473.8,396.3 471.3,396.1 469.9,395.5 468.6,394.9 467.1,394.5 465,395.5 465,397 464,397.7 461.9,396.9 459.6,396.2 459,395.1 456.7,394.5 455.2,394.5 454,393.8 452.9,393.3 454,391.9 453.5,391 453.5,390.2 454,389.5 452.5,389.1 450,389.5 446.6,389.8 444.2,389.8 441.7,390.1 439.8,391.1 438.1,391.8 436.8,391.6 434,390.8 433.3,391 432.9,391.7 432.2,393.2 431.2,393.6 430.1,394 429.2,395.2 428.5,396.2 428.4,397.3 428.8,397.5 428,398.7 426.4,399.8 424.7,400.6 424.1,401.5 422.8,402.8 422.1,404.3 421,405.7 419.8,408.4 419.7,409.2 420.3,410.9 420.7,411.4 420.9,412.5 420.3,415 419.6,416.3 419.1,416.6 419.9,417.5 420.2,418.2 420.1,419.5 421.4,420 422.1,421.1 422.6,421.7 423.7,422.9 424.3,424.2 425.2,425.4 426.4,426.1 427.3,426.8 429.5,428.4 431.1,429.1 433.2,428.7 435.6,428.1 436.8,428.4 437.9,428.8 440.3,427.8 442,427.1 443.4,426.8 444.7,426.7 445.9,426.8 446.6,427.4 447.2,428.2 448,429.3 449.1,429.1 450.9,429 451.5,429.6 452.4,429.6 452.5,430.9 452,432.1 452.2,433.3 452,434 451.3,435.4 451.9,436.9 452.7,437.9 454,439.3 454.9,440.4 455.4,441.4 455.6,442 456.2,443.1 456.7,445.3 457.4,448 456.9,449.9 455.8,451.6 455.3,453.1 454.8,455.7 454.9,456.6 455.8,457.8 456.9,460 458.1,461.8 458.2,462.7 458.2,464.5 459.1,467.1 460.7,469.5 461.7,471.9 462.9,473.7 462.4,474.9 463,476 463.1,476.6 465,477.1 467.5,476.4 469.1,476.3 471.8,476.1 474.6,474.9 477.5,472.5 478.4,471.1 480.4,469.4 480.8,467.6 480.4,466.4 481.6,465.4 483.8,464.5 483.9,463.8 483.9,461.4 483.5,460.2 483.2,458.8 484.9,457.5 485.7,456.4 487,455.6 489.3,454.3 490.3,452.9 490.4,452.3 490.1,450.4 490.2,447.6 489.7,447.1 488.8,445.5 488.8,444.3 488.6,442.8 488,442.1 488.3,440.7 489.1,439.5 489.6,438.4 490.6,437.3 491.3,436.6 492.5,435 495,432.7 495.9,432.1 497.2,431.1 498.6,429.6 499.9,428.1 500.5,427.2 501.4,424.8 502.7,422.9 503.4,421.9 503.3,420.2 500.7,420.8 498,421 495.6,421.9 493.7,420.8 493.2,420.4 493.5,419.3 492.8,418.7 490.9,417.2 489.7,416.3 488.8,415.5 488.5,415 487.6,412.6 486.3,411.6 486,410.7 486,409 485.3,407.5 484.2,406.5 483.9,405.3 483.2,404.1 482.5,402.9 481.9,401.4 481.1,400.2 480.4,398.6 480.3,398M71.3,379.8 71.8,378.6 73.1,377.8 74.6,377.7 75.6,378.6 75,379.8 74.6,380.8 73.4,381.5 72.2,381.4 71.3,380.6 71.3,379.8M174.3,447.6 175.6,449.8 175.9,452 177.8,453.5 178.4,455.2 178.9,457.2 179.6,458.1 181.1,459 182.5,460.5 184.1,462.1 184.5,463.3 185.3,463.9 186.6,464.9 187.4,465.5 187.4,468.2 187.9,469.5 187.2,471.6 187.1,473 185.7,474.8 185.1,476 184.5,477.4 183.8,478.6 183.5,480.4 181.1,480.9 179.8,481.7 179.1,482.4 178,481.7 177.4,481.1 176.8,481.4 175.6,482.2 173.2,481.5 171.9,481.1 170.9,479.8 170.7,478.6 169.4,478.1 169.4,477.3 168.9,476.4 168.6,477.5 167.5,477.7 168.2,476.1 168.6,474.4 167.6,475.8 166.4,476.9 166.3,477.3 165.4,476.9 164.9,475.5 164.2,474.7 163.6,473.8 161.5,473.7 160.5,473.1 157.8,473.2 155.4,473.9 153.5,474.4 151.7,475.2 149.1,476 146.8,476.1 144.2,477.5 142.5,477.4 140.8,476.6 140.7,475.7 141.4,475.3 141.6,473.7 141,472.5 140.7,471.2 140.2,469.8 139.6,468.3 138.8,466.6 138.7,464.5 139.2,462.7 139.7,461.2 140.2,461.8 141.3,460.7 142.8,459.7 145.1,459.4 146.8,458.9 148.6,457.8 149.5,456.6 149.5,455.6 150.3,454.7 151.2,455.7 151.2,454.5 152.3,454.5 152.9,453.2 153.9,452 155.1,451.4 156.3,452.3 156.8,452.9 158.2,452.8 158.7,451.6 159.4,450.7 160,449.7 160.5,449.3 162.1,449.3 162.2,448.5 161.5,448.2 162.7,448.7 165.2,449.3 166.4,449.4 167.5,449.6 167,450.7 166.4,451 166.3,452.3 165.6,452.9 167,453.9 168.2,454.3 170.1,455.2 170.8,455.9 172.3,455.9 173,454.1 173.2,452.3 173.2,450.4 173.6,449.2 173.8,448 174.3,447.6M127,371.9 128.4,371.6 130.3,370.5 132.1,369.4 133.7,367.9 134.3,366.6 133.3,367.3 131.9,369 129.7,370.2 127.8,371.3 127,371.9M89.9,379.1 91.1,378.2 93,377.7 95.4,378 97,377.7M35.4,384.4 37,384.4 38.4,384.3 40.3,383.4 43,383.4 44.4,384.3 46.3,384.6 48.5,384.6 50.6,384.2 51,383.3 50.1,382.2 48.5,381.5 47.8,380.9 46.2,380.1 44.9,379.5 45.7,379.4 46.3,378.6 46.8,377.7 48,377.1 45.8,377.2 45,377.6 43.1,378.1 42.5,378.3 43.1,379.3 44.6,379.3 43.3,379.8 41.8,380.4 40.9,380.3 40.9,379.5 39.7,379.4 41.1,378.6 39.7,378.4 38.5,377.8 37.5,378 36.3,379.5 35.1,380.8 34.1,382 33.6,382.8 34.2,383.5 35.4,384.4M134.1,432.1 135.2,432.4 136.2,431.5 138.2,430.6 139.5,429 140.7,428.4 141.9,427.2 142.9,426 144,426.7 144.5,427.4 145.8,428.1 144.4,429.4 144,430.2 144.4,431.8 145.6,433.3 144.4,433.5 143.7,434.5 142.9,436.1 142.5,437.2 142.1,438.5 140.3,439.5 140.1,438.7 138.2,438.4 136.8,438.7 134.9,438.1 134.6,436.3 133.6,434.6 133.3,433.3 134.1,432.1M58.7,378.6 60.5,378 62.4,377.3 63.6,377.6 64.8,377.5 65.1,378.2 64.8,379.4 62.7,379.8 62.4,380.4 61.4,380.5 62.6,381.5 64.1,382.5 64.4,384 64.8,384.4 66.6,383.9 66.9,384.6 65.8,384.9 64.8,385.9 64.6,386.7 65.9,387.2 65.9,389.1 66,389.6 63.6,390 62.4,389.9 61.1,389 60.5,388.9 59.8,387.8 59.8,387.3 60.4,386.6 61.6,385.4 60.5,385.1 59.9,384 59.1,383.3 58.1,382.2 58.1,381.2 57.1,380.4 57.5,379.5 58.4,379.1 58.7,378.6M17.1,418.3 17.8,417.7 18.3,418.4 17.6,418.9 17.1,418.3M25.6,339.4 28.7,339.5 29.3,340.3 26.9,340.5 25.6,339.4M39.5,396.4 41.3,396.7 42,396.2 42.5,395.5 42.8,394.6 43.4,393.3 43.8,392.7 43.8,391.3 44.2,390 43.1,390 42.3,389.8 41.4,390.4 40.1,390.7 39.1,390.1 37.5,389.6 36.8,390.4 35.6,390 34.6,389.8 33.5,389.5 33.4,388.4 32.1,387.9 32.9,387 31.9,386.5 32,385.9 32,385.1 31.6,384.9 29.8,384.8 29.3,385.5 29,385.9 28,385.1 27.6,385.4 27.7,386.1 28.1,386.7 27.9,387.3 28.8,387.7 29.3,388.7 29,388.4 28.1,388.4 28.3,388.9 27.9,388.9 28.3,390.2 27.5,390.2 27,389.5 26.5,389.8 26,388.5 26.5,388 25.8,387.9 25.3,387.2 24.8,386.5 24.4,386 23.7,385.4 23.7,384.3 23.3,383.3 22.1,382.7 20,381.6 18.6,380.9 18.2,379.8 17.6,379.4 16.8,379.9 16.8,379.1 15,379.3 15.2,379.9 15,380.5 16.5,381.5 17.3,382.8 18.6,383.5 19.8,383.5 19.4,384 20.6,384.5 22,385.1 22.6,385.7 22.5,386.1 22,385.9 21,385.3 20.3,386.1 21,387 20.3,387.7 19.5,388.4 19,388.2 19.5,386.6 19.2,385.9 18.1,385 17.3,384.9 16.6,384.4 15.4,384.2 14.4,383.3 13.5,382.9 12.8,382.3 12.6,381.6 11.9,380.9 10.8,380.5 9.7,381.1 8.9,381.4 7.2,382.1 6.6,381.8 5.8,381.8 4.7,381.6 3.7,382.1 3.6,382.6 4,383.1 2.6,384.2 1.4,384.5 1.1,385 -0.1,385.9 -0.4,386.5 0.2,387.4 -0.7,387.9 -1.3,388.8 -2.7,389.9 -4.3,389.9 -5.4,389.9 -6.6,390.6 -6.9,390.7 -7.8,390.1 -8.5,389.3 -9.7,389.5 -11.1,389.5 -10.9,388.3 -11.7,387.3 -11.6,386.6 -10.9,385.7 -10.7,384.5 -10.8,383.2 -11.4,382.3 -10.3,381.7 -9.5,381.2 -7,381.5 -4.7,381.6 -2.5,381.8 -2,381.6 -1.5,380.1 -1.4,379.1 -1.5,378.3 -2.3,378 -2.7,377 -3.8,376.7 -5.4,376.4 -5.9,375.6 -4.9,375.3 -3.7,375.2 -2.5,375.4 -1.9,375.4 -2,375.2 -2.4,374.1 -1.6,374.1 -1.4,374.4 -0.4,374.6 0.1,374.3 1.3,373.8 1.9,372.8 2.3,372.5 3.5,372.2 4.4,372 5,371.3 5.7,370.2 6.6,369.8 7.5,369.6 8.5,369.6 9.7,369.2 10.6,369 10.8,368.7 10.5,368.3 10.2,367.7 10.2,367 9.9,366.4 9.9,365.7 10.5,365.1 12.1,364.5 12.9,364.3 12.8,364.7 12.6,365.7 13.3,365.9 12.4,366.3 11.9,367 11.6,367.6 11.9,367.9 12.4,368.3 13.4,368.3 13.3,368.8 14.8,368.6 16.5,368.1 17.4,369 19,368.6 20.1,368.2 21.4,367.9 23,368.1 22.8,368.3 24.4,368 25.8,366.8 25.6,365.8 26.3,364.7 27.6,364.3 28.3,365.1 29.3,365.2 29.8,364.8 29.9,363.5 28.7,363.2 28.6,362.5 30.2,362.2 31.8,362 34.2,362.1 36.9,361.7 35.4,361.3 35.1,360.7 33,360.9 30.5,361.4 28.1,361.8 27.1,361.1 26,360.6 26.3,359.6 26,358.7 26.3,357.8 27.5,356.9 29.3,356.1 31,355.5 29.9,354.6 29.4,354.5 27.1,354.7 26.3,355.1 25.9,355.8 24.8,356.9 23.2,357.6 21.9,358.4 21.1,358.6 20.9,359.5 21,360.7 22.6,361.3 22.8,361.8 22.1,362.4 21.5,363 20.5,363.2 20.3,364.3 20,365.6 19.5,366.2 19,366.2 17.9,366.3 17.6,367 16.8,367.1 15.9,366.9 15.5,366.4 15.2,366 15.7,365.6 14.9,365.1 14.5,364.3 13.7,363.5 13.7,362.9 13.3,362.5 13,361.7 12.8,362.3 12.4,362.8 11.5,362.9 10.7,363.4 9.7,363.9 8.5,364 7.3,363.5 6.8,362.8 6.3,362.3 6.3,361.1 5.9,360.3 6.1,359.6 6.2,358.9 7.4,358.5 8.6,358.3 9.4,357.8 10.4,357.4 11.6,357 12.2,356.6 13.2,356.1 13.7,355.6 14.9,354.9 15.4,354.2 15.9,353.6 17.6,352.7 18.3,351.8 19.5,351.3 20.8,350.6 23.2,349.7 25,349.3 29,348.5 31.5,348 33.6,348.2 34.8,348.4 38,348.9 36.7,349.4 36.7,349.7 39.1,349.5 40.8,350.4 42.8,350.4 45.2,351 47.7,351.7 50.1,352.8 50.5,353.4 49.5,353.9 47.1,354.1 44,353.9 42.2,353.5 39.7,352.9 40.9,353.9 42.5,355.5 42.5,356.1 45.2,356.8 46.6,356.8 45.8,356.2 45,355.5 46.5,355.6 48.7,355.9 49.5,355.9 48.9,354.9 51.3,353.8 53.8,354.2 54.2,353.6 53.6,352.8 52.9,351.1 55,351.2 56.9,352.1 56.2,353 58.3,353.1 59.3,352.2 62.4,351.3 64.8,350.8 66,351.4 67.3,351.2 70.3,351 72.8,351 74.4,350.6 74,349.6 78.9,350.4 81.9,351.2 83.8,351.6 84.4,350.7 83.2,349.4 81.9,348.2 83.8,346.9 85,345.7 85.6,345.1 88.7,346 89,347.6 88.7,348.8 89.9,350.6 89.3,351.8 88.7,353.6 89.9,353.3 90.5,351.8 91.1,350.6 90.3,348.8 90.9,346.9 91.7,346 93.6,346.9 95.4,346.5 95.4,348.2 96.6,347.9 97.9,346.9 100.9,347.6 101.8,348.8 100.3,347.2 98.5,345.1 104,344.5 106.4,343.3 110.1,342.6 116.2,342 121.1,341.6 123.5,340.9 127.6,340 129.7,340.5 132.1,341.2 135.8,341.2 138.8,342.1 138.2,343.3 134.6,344.5 130.9,345.5 129.7,345.7 134.6,344.8 137.6,344.8 138.8,345.2 141.9,345 145,345.1 146.8,345.7 151.1,344.9 155.4,345.1 158.4,346.3 157.8,347.4 160.3,348.4 162.7,347.6 165.8,347.4 168.2,347.8 170.7,347.6 171.3,346.5 172.5,346 178.6,346.5 182.3,346.7 184.1,347.6 186,348.3 190.9,348.2 194.5,348.4 195.8,349.7 197.6,350 200.6,349.7 204.3,349.9 205.9,349.4 208.6,349.3 208,350.6 209.2,350.6 211.7,349.6 215.3,349.6 218.4,350.1 220.2,350.7 221.4,350.8 223.9,351.4 226.3,352.4 228.8,353 230.6,353.3 232.8,354.1 231.9,354.7 230,355.2 229.4,356.1 228.4,356.2 225.7,355.7 224.5,354.9 222.1,354.9 221.4,354 220.2,354.5 219,355.7 217.2,355.8 217.2,356.7 219,357.6 219.4,358.5 216.6,358.5 213.5,359.4 210.4,360.3 208.4,361.5 204.3,361.2 201.9,361.7 200,361.7 199.8,362.9 198.8,364 199.4,364.6 199.7,366.2 198,367.4 198.2,367.9 196.4,368.2 195.8,369.8 194.2,370.1 193.7,371.3 191.7,372.5 191.5,371.3 190.9,369.4 190.5,367.6 190.6,365.8 191.8,364.6 193.3,364 195.1,362.8 197,361.5 198.8,360.7 200.4,360.1 200.6,358.6 199.4,358.5 198.2,359.7 196.1,360.7 195.8,359.5 192.1,359.5 191.5,360.1 189.6,361.5 189,362.1 187.2,362.8 184.7,362.8 184.5,362.1 182.3,362 178.6,362.4 174.9,362.4 171.9,363.7 170.1,364.8 168.2,366.4 165.8,367.9 167.6,368.5 168.2,369.2 170.7,368.7 172.5,369.7 173.1,371.3 172.3,371.9 171.9,373.7 171.6,375.5 170.1,376.7 169.2,378 167.4,379.8 165.8,381 163.9,382.2 162.7,382.6 161.5,382.1 160.3,382.7 159.9,383.1 158.8,383.7 158.7,384.9 157.2,385.9 156.1,386.1 155.9,386.8 157.1,387.7 157.8,388.7 158.4,390.7 157.9,391.8 156.6,392.1 155.4,392.4 154.6,392.3 154.8,391.3 154.9,390.7 154.5,389.8 154.9,388.9 153.5,388.5 152.8,388 153.2,387.4 153.2,386.5 152.1,386 150.5,386.3 148.8,387.2 148.3,386.5 149.2,385.3 148.3,384.8 146.3,386 144.1,387.1 144.4,387.9 145.6,388.7 145.8,389.3 146.8,389 147.8,388.5 148.5,388.9 149.9,389 149.7,389.6 147.3,390.6 146.2,391.5 145.9,392.3 147.2,392.9 147.9,394.4 149,396 149.1,396.8 147.8,397.7 149.2,398.1 148.9,399.2 148,400.5 147.2,401.7 146.4,402.9 145.6,403.9 144.5,404.7 142.9,406 140.7,406.9 139.7,407.4 138.8,407.5 137,408.1 135.2,408.7 134.8,409.8 134.3,409.7 134.3,408.5 133.5,408.4 132.4,408.2 130.6,409.2 130,410.2 129.4,411.4 129.4,411.8 130.3,413 131.6,414.4 132.4,414.9 133.3,416.9 133.6,417.7 133.8,418.9 133.6,420 132.2,421.2 131,421.9 130.5,422.6 128.8,423.8 128.2,424 128.3,422.7 127.8,421.9 126.6,421.6 126,420.8 125.4,419.9 123.9,419.1 123.4,418.1 122.9,418.1 122.3,418.3 122.3,419.2 122.1,420.2 121.3,421.7 121.6,423.3 122.3,424.3 123.1,425.7 123.9,426.1 125.1,427 126.1,428.1 126.5,429.9 126.6,431.3 127.6,432.8 127,432.9 126.5,432.7 125,431.8 124,430.9 123.2,429.6 122.8,427.9 122.4,426.7 121.7,425.6 121,424.8 120.2,424.9 120.2,423.6 120.6,422.3 120.5,421.1 120.6,419.4 120,417.5 119.5,416.3 119.4,414.4 118.7,413.9 117.7,414.4 116.7,415.3 115.3,415.2 115.6,413.2 115.3,412 114.6,411 113.6,410.1 112.5,408.5 112.3,407.4 111.3,407.1 110.7,407.7 109.5,408 108.3,408.1 106.7,408.4 106.2,409.3 106,409.8 104.9,410.4 103.8,411 101.9,413 100.7,413.8 100.7,414.3 99.3,414.8 99,415.3 98,415.7 98,417 98.2,418.6 97.7,420 97.6,421.1 97.7,422 97,422 96.5,423.1 95.6,423.8 94.8,424.7 94.1,424.2 93.2,422.3 92.7,420.8 91.5,418.8 90.6,416.5 90.3,415.7 89.7,413.8 89,411.4 88.9,410.2 88.9,408.7 88.7,407.5 88.3,408 87.4,409.1 86.1,409.1 85.1,408.2 84.4,407.5 86,406.7 84.9,406.8 83.8,406.2 82.6,405.4 81.9,404.3 81.3,403.6 79,403.9 77.7,403.7 76.2,404 74.1,403.7 72.2,403.6 70.7,403.4 69.7,402.3 69.5,401.5 68.8,401.4 67.9,402 67.1,402.2 65.4,402 64.3,401.1 62.1,399.4 61.5,398.3 60.5,397.9 59.9,397.5 59.4,398.1 58.7,398.7 59.2,399.8 59.7,400.7 60.8,401.7 61.4,402.3 61.4,403.2 62.1,404.3 62.1,403.5 62.6,402.8 63.1,403.1 63.1,404.2 62.9,404.7 64.2,405.1 66.5,404.7 67.6,403.7 68.5,403.1 68.8,402.5 69,403.5 69.3,404.8 71.7,405.8 73.1,407.1 72.5,408.5 71.8,409.6 70.7,410.2 70.6,410.5 70.7,411.5 69.1,412.6 67.6,413.1 66.2,413.8 64.8,414.3 63.8,415 62.4,416 60,416.9 58.1,417.8 56.2,418.2 55,418.9 53.2,419.1 52.8,418.3 52.4,416.5 52.2,415 52,413.9 50.7,412.6 50.1,411.2 48.9,409.8 47.9,408.4 47.7,407.1 46.5,405.2 45.5,404.1 44.5,402.6 43.4,401.1 42.8,400.3 42.8,398.6 42.2,400.1 41.9,400.7 41.1,400.1 40.6,399.7 40,398.4 39.8,398.1M480,396.4 481.9,396.7 482.6,396.2 483.1,395.5 483.3,394.6 483.9,393.3 484.3,392.7 484.3,391.3 484.8,390 483.7,390 482.8,389.8 482,390.4 480.6,390.7 479.7,390.1 478.1,389.6 477.3,390.4 476.1,390 475.1,389.8 474,389.5 473.9,388.4 472.7,387.9 473.4,387 472.4,386.5 472.6,385.9 472.6,385.1 472.2,384.9 470.4,384.8 469.9,385.5 469.5,385.9 468.5,385.1 468.2,385.4 468.3,386.1 468.6,386.7 468.4,387.3 469.4,387.7 469.9,388.7 469.5,388.4 468.6,388.4 468.9,388.9 468.4,388.9 468.9,390.2 468,390.2 467.5,389.5 467.1,389.8 466.6,388.5 467.1,388 466.3,387.9 465.8,387.2 465.3,386.5 465,386 464.2,385.4 464.2,384.3 463.9,383.3 462.6,382.7 460.6,381.6 459.1,380.9 458.7,379.8 458.1,379.4 457.4,379.9 457.4,379.1 455.6,379.3 455.8,379.9 455.6,380.5 457,381.5 457.9,382.8 459.1,383.5 460.3,383.5 460,384 461.2,384.5 462.5,385.1 463.1,385.7 463,386.1 462.5,385.9 461.5,385.3 460.8,386.1 461.5,387 460.8,387.7 460.1,388.4 459.6,388.2 460.1,386.6 459.7,385.9 458.6,385 457.9,384.9 457.1,384.4 455.9,384.2 454.9,383.3 454.1,382.9 453.3,382.3 453.1,381.6 452.5,380.9 451.4,380.5 450.3,381.1 449.4,381.4 447.7,382.1 447.1,381.8 446.4,381.8 445.3,381.6 444.3,382.1 444.2,382.6 444.5,383.1 443.2,384.2 442,384.5 441.6,385 440.5,385.9 440.1,386.5 440.7,387.4 439.9,387.9 439.3,388.8 437.8,389.9 436.2,389.9 435.1,389.9 434,390.6 433.6,390.7 432.8,390.1 432.1,389.3 430.8,389.5 429.5,389.5 429.6,388.3 428.9,387.3 429,386.6 429.6,385.7 429.9,384.5 429.7,383.2 429.1,382.3 430.2,381.7 431.1,381.2 433.5,381.5 435.8,381.6 438.1,381.8 438.5,381.6 439,380.1 439.2,379.1 439,378.3 438.3,378 437.8,377 436.7,376.7 435.1,376.4 434.6,375.6 435.6,375.3 436.8,375.2 438.1,375.4 438.7,375.4 438.5,375.2 438.2,374.1 438.9,374.1 439.2,374.4 440.1,374.6 440.6,374.3 441.8,373.8 442.5,372.8 442.8,372.5 444,372.2 444.9,372 445.5,371.3 446.3,370.2 447.1,369.8 448.1,369.6 449.1,369.6 450.3,369.2 451.1,369 451.4,368.7 451,368.3 450.8,367.7 450.8,367 450.4,366.4 450.4,365.7 451,365.1 452.6,364.5 453.5,364.3 453.3,364.7 453.1,365.7 453.8,365.9 453,366.3 452.5,367 452.1,367.6 452.5,367.9 453,368.3 454,368.3 453.8,368.8 455.3,368.6 457,368.1 458,369 459.6,368.6 460.7,368.2 461.9,367.9 463.5,368.1 463.4,368.3 465,368 466.3,366.8 466.2,365.8 466.8,364.7 468.2,364.3 468.9,365.1 469.9,365.2 470.4,364.8 470.5,363.5 469.3,363.2 469.1,362.5 470.7,362.2 472.3,362 474.8,362.1 477.5,361.7 476,361.3 475.6,360.7 473.5,360.9 471.1,361.4 468.6,361.8 467.7,361.1 466.6,360.6 466.8,359.6 466.6,358.7 466.8,357.8 468,356.9 469.9,356.1 471.6,355.5 470.5,354.6 470,354.5 467.7,354.7 466.8,355.1 466.4,355.8 465.3,356.9 463.8,357.6 462.4,358.4 461.7,358.6 461.4,359.5 461.5,360.7 463.1,361.3 463.4,361.8 462.6,362.4 462,363 461.1,363.2 460.8,364.3 460.6,365.6 460.1,366.2 459.6,366.2 458.5,366.3 458.1,367 457.4,367.1 456.4,366.9 456,366.4 455.8,366 456.2,365.6 455.4,365.1 455.1,364.3 454.2,363.5 454.2,362.9 453.8,362.5 453.6,361.7 453.3,362.3 453,362.8 452,362.9 451.3,363.4 450.3,363.9 449.1,364 447.8,363.5 447.4,362.8 446.9,362.3 446.9,361.1 446.5,360.3 446.6,359.6 446.7,358.9 448,358.5 449.2,358.3 449.9,357.8 450.9,357.4 452.1,357 452.7,356.6 453.7,356.1 454.2,355.6 455.4,354.9 455.9,354.2 456.4,353.6 458.1,352.7 458.9,351.8 460.1,351.3 461.3,350.6 463.8,349.7 465.6,349.3 469.5,348.5 472.1,348 474.2,348.2 475.4,348.4 478.6,348.9 477.2,349.4 477.2,349.7 479.7,349.5 481.4,350.4 483.3,350.4 485.8,351 488.2,351.7 490.7,352.8 491,353.4 490.1,353.9 487.6,354.1 484.6,353.9 482.7,353.5 480.3,352.9 481.5,353.9 483.1,355.5 483.1,356.1 485.8,356.8 487.1,356.8 486.4,356.2 485.5,355.5 487,355.6 489.2,355.9 490.1,355.9 489.5,354.9 491.9,353.8 494.3,354.2 494.7,353.6 494.1,352.8 493.5,351.1 495.6,351.2 497.4,352.1 496.8,353 498.9,353.1 499.9,352.2 502.9,351.3 505.4,350.8 506.6,351.4 507.8,351.2 510.9,351 513.3,351 514.9,350.6 514.5,349.6 519.4,350.4 522.5,351.2 524.3,351.6 524.9,350.7 523.7,349.4 522.5,348.2 524.3,346.9 525.6,345.7 526.2,345.1 529.2,346 529.6,347.6 529.2,348.8 530.4,350.6 529.8,351.8 529.2,353.6 530.4,353.3 531.1,351.8 531.7,350.6 530.8,348.8 531.4,346.9 532.3,346 534.1,346.9 536,346.5 536,348.2 537.2,347.9 538.4,346.9 541.5,347.6 542.3,348.8 540.8,347.2 539,345.1 544.5,344.5 547,343.3 550.6,342.6 556.8,342 561.7,341.6 564.1,340.9 568.1,340 570.2,340.5 572.7,341.2 576.3,341.2 579.4,342.1 578.8,343.3 575.1,344.5 571.4,345.5 570.2,345.7 575.1,344.8 578.2,344.8 579.4,345.2 582.5,345 585.5,345.1 587.4,345.7 591.6,344.9 595.9,345.1 599,346.3 598.4,347.4 600.8,348.4 603.3,347.6 606.3,347.4 608.8,347.8 611.2,347.6 611.8,346.5 613,346 619.2,346.5 622.8,346.7 624.7,347.6 626.5,348.3 631.4,348.2 635.1,348.4 636.3,349.7 638.1,350 641.2,349.7 644.9,349.9 646.5,349.4 649.1,349.3 648.5,350.6 649.8,350.6 652.2,349.6 655.9,349.6 658.9,350.1 660.8,350.7 662,350.8 664.4,351.4 666.9,352.4 669.3,353 671.2,353.3 673.4,354.1 672.4,354.7 670.6,355.2 670,356.1 669,356.2 666.3,355.7 665.1,354.9 662.6,354.9 662,354 660.8,354.5 659.6,355.7 657.7,355.8 657.7,356.7 659.6,357.6 659.9,358.5 657.1,358.5 654,359.4 651,360.3 648.9,361.5 644.9,361.2 642.4,361.7 640.6,361.7 640.3,362.9 639.4,364 640,364.6 640.2,366.2 638.5,367.4 638.7,367.9 636.9,368.2 636.3,369.8 634.7,370.1 634.2,371.3 632.3,372.5 632,371.3 631.4,369.4 631,367.6 631.2,365.8 632.4,364.6 633.9,364 635.7,362.8 637.5,361.5 639.4,360.7 641,360.1 641.2,358.6 640,358.5 638.7,359.7 636.7,360.7 636.3,359.5 632.6,359.5 632,360.1 630.2,361.5 629.6,362.1 627.7,362.8 625.3,362.8 625,362.1 622.8,362 619.2,362.4 615.5,362.4 612.4,363.7 610.6,364.8 608.8,366.4 606.3,367.9 608.2,368.5 608.8,369.2 611.2,368.7 613,369.7 613.7,371.3 612.8,371.9 612.4,373.7 612.2,375.5 610.6,376.7 609.7,378 607.9,379.8 606.3,381 604.5,382.2 603.3,382.6 602,382.1 600.8,382.7 600.4,383.1 599.3,383.7 599.2,384.9 597.8,385.9 596.7,386.1 596.4,386.8 597.6,387.7 598.4,388.7 599,390.7 598.5,391.8 597.1,392.1 595.9,392.4 595.2,392.3 595.3,391.3 595.4,390.7 595.1,389.8 595.4,388.9 594.1,388.5 593.3,388 593.7,387.4 593.7,386.5 592.6,386 591,386.3 589.3,387.2 588.8,386.5 589.8,385.3 588.8,384.8 586.9,386 584.7,387.1 584.9,387.9 586.1,388.7 586.4,389.3 587.4,389 588.3,388.5 589.1,388.9 590.4,389 590.3,389.6 587.8,390.6 586.7,391.5 586.5,392.3 587.7,392.9 588.5,394.4 589.6,396 589.7,396.8 588.3,397.7 589.8,398.1 589.4,399.2 588.6,400.5 587.7,401.7 587,402.9 586.1,403.9 585,404.7 583.4,406 581.2,406.9 580.3,407.4 579.4,407.5 577.6,408.1 575.7,408.7 575.4,409.8 574.9,409.7 574.9,408.5 574,408.4 572.9,408.2 571.2,409.2 570.6,410.2 570,411.4 570,411.8 570.8,413 572.2,414.4 572.9,414.9 573.9,416.9 574.1,417.7 574.4,418.9 574.1,420 572.8,421.2 571.6,421.9 571.1,422.6 569.4,423.8 568.7,424 568.9,422.7 568.4,421.9 567.2,421.6 566.5,420.8 565.9,419.9 564.5,419.1 564,418.1 563.5,418.1 562.9,418.3 562.8,419.2 562.6,420.2 561.9,421.7 562.1,423.3 562.9,424.3 563.6,425.7 564.5,426.1 565.7,427 566.7,428.1 567,429.9 567.2,431.3 568.1,432.8 567.5,432.9 567,432.7 565.6,431.8 564.6,430.9 563.7,429.6 563.4,427.9 563,426.7 562.3,425.6 561.5,424.8 560.8,424.9 560.8,423.6 561.2,422.3 561,421.1 561.2,419.4 560.5,417.5 560.1,416.3 559.9,414.4 559.2,413.9 558.2,414.4 557.2,415.3 555.9,415.2 556.1,413.2 555.9,412 555.2,411 554.2,410.1 553.1,408.5 552.8,407.4 551.9,407.1 551.2,407.7 550,408 548.8,408.1 547.2,408.4 546.7,409.3 546.6,409.8 545.5,410.4 544.4,411 542.4,413 541.2,413.8 541.2,414.3 539.9,414.8 539.5,415.3 538.5,415.7 538.5,417 538.8,418.6 538.3,420 538.2,421.1 538.3,422 537.5,422 537.1,423.1 536.2,423.8 535.3,424.7 534.6,424.2 533.7,422.3 533.3,420.8 532,418.8 531.2,416.5 530.8,415.7 530.2,413.8 529.6,411.4 529.5,410.2 529.5,408.7 529.2,407.5 528.9,408 528,409.1 526.7,409.1 525.7,408.2 524.9,407.5 526.5,406.7 525.4,406.8 524.3,406.2 523.1,405.4 522.5,404.3 521.9,403.6 519.6,403.9 518.2,403.7 516.7,404 514.7,403.7 512.7,403.6 511.2,403.4 510.3,402.3 510,401.5 509.4,401.4 508.4,402 507.7,402.2 506,402 504.9,401.1 502.7,399.4 502.1,398.3 501.1,397.9 500.5,397.5 500,398.1 499.2,398.7 499.7,399.8 500.2,400.7 501.3,401.7 501.9,402.3 501.9,403.2 502.7,404.3 502.7,403.5 503.2,402.8 503.6,403.1 503.6,404.2 503.4,404.7 504.7,405.1 507.1,404.7 508.2,403.7 509,403.1 509.4,402.5 509.5,403.5 509.9,404.8 512.2,405.8 513.7,407.1 513.1,408.5 512.3,409.6 511.2,410.2 511.1,410.5 511.2,411.5 509.6,412.6 508.2,413.1 506.7,413.8 505.4,414.3 504.4,415 502.9,416 500.6,416.9 498.6,417.8 496.8,418.2 495.6,418.9 493.7,419.1 493.4,418.3 493,416.5 492.8,415 492.5,413.9 491.3,412.6 490.7,411.2 489.5,409.8 488.5,408.4 488.2,407.1 487,405.2 486,404.1 485,402.6 483.9,401.1 483.3,400.3 483.3,398.6 482.7,400.1 482.5,400.7 481.6,400.1 481.1,399.7 480.5,398.4 480.3,398.1M216.9,456.1 218.5,455.9 218.4,456.8 217,456.7 216.9,456.1M218.6,455.1 220.2,454.3 219.6,455.1 218.6,455.1M57.5,336.6 61.7,336.2 59.9,336.9 57.5,336.6M64.8,336.9 69.7,336.5 72.2,336.9 68.5,337.1 64.8,336.9M70.3,336 75.8,336.2 79.5,336.1 75.8,335.6 70.3,336M-7,373.6 -6.4,373.7 -5.1,373.3 -4.2,373 -3,373.1 -1.6,372.8 -0.2,372.7 1.2,372.6 1.7,372.2 0.8,371.9 1.5,371.4 2.1,370.7 1.5,370.2 0.3,370.2 0.4,369.9 0.1,369.3 -0.2,368.7 -0.8,368.2 -1.5,368.1 -1.8,367.6 -2.5,366.6 -4,366.4 -3.2,366 -2.6,365.1 -2.3,364.6 -2.5,364.3 -4.3,364.3 -5.2,364.6 -4.7,364.1 -3.8,363.5 -3.7,363.2 -6.2,363.2 -6.5,363.7 -7.1,364.5 -7,364.8 -7.6,365.6 -6.8,365.9 -6.9,366.4 -7.1,367.3 -6.2,366.5 -5.9,366.5 -5.7,367 -6.2,367.6 -6,368.1 -4.3,367.7 -4.5,368.2 -4,368.7 -3.6,368.7 -3.7,369.6 -4.7,369.7 -5.7,369.7 -5.3,369.9 -5.9,370.3 -5.1,370.2 -5.1,370.8 -5.8,371.1 -6.5,371.4 -6.3,371.6 -4.9,371.8 -4,371.9 -3.4,371.8 -3.7,372.1 -5.1,372.2 -5.6,372.5 -6.2,373.1 -6.8,373.5 -7,373.6M433.5,373.6 434.1,373.7 435.5,373.3 436.3,373 437.6,373.1 438.9,372.8 440.4,372.7 441.7,372.6 442.2,372.2 441.4,371.9 442.1,371.4 442.6,370.7 442.1,370.2 440.9,370.2 440.9,369.9 440.6,369.3 440.4,368.7 439.8,368.2 439,368.1 438.8,367.6 438.1,366.6 436.6,366.4 437.3,366 437.9,365.1 438.3,364.6 438.1,364.3 436.2,364.3 435.4,364.6 435.8,364.1 436.7,363.5 436.8,363.2 434.4,363.2 434,363.7 433.4,364.5 433.5,364.8 432.9,365.6 433.8,365.9 433.6,366.4 433.4,367.3 434.4,366.5 434.6,366.5 434.9,367 434.4,367.6 434.5,368.1 436.2,367.7 436.1,368.2 436.6,368.7 437,368.7 436.8,369.6 435.8,369.7 434.9,369.7 435.2,369.9 434.6,370.3 435.5,370.2 435.5,370.8 434.7,371.1 434,371.4 434.3,371.6 435.6,371.8 436.6,371.9 437.2,371.8 436.8,372.1 435.5,372.2 435,372.5 434.4,373.1 433.8,373.5 433.5,373.6M135.4,410.1 135.8,410.7 135.2,411.6 134.1,412.4 133,412 132.8,411.2 133.7,410.3 134.6,410.1 135.4,410.1M156,431.8 156.6,432.7 157.4,432.7 156.6,433.5 157.2,434.1 156.5,434.5 156.6,435.5 156.1,433.9 156,431.8M244.5,407.7 245.6,407.5 245.4,407.9 244.5,407.7M246.8,408.2 247.5,408.6M248,408.7 248.6,408.8M248.7,409.1 249.6,409.3M249.6,409.9 250.6,410.2 251.1,410.8 250.1,411.4 249.6,410.7 249.6,409.9M173.6,379.2 174.9,380.4 177.8,380.6 178.4,381.7 176.7,382.2 175.2,383.4 173.2,382.7 171.6,382.8 172.5,383.4 172.7,383.7 172.1,383.7 171.4,384.2 171,383.2 171.6,382 172.5,382 172.9,381.7 173.4,380.6 173.6,379.2M172.4,384 173,384.2 173.1,385.3 173.7,386.3 173.1,387.9 172.5,388 172.5,389.5 172.4,391.1 171.6,391.9 171,391.9 171,391.2 170.9,391.7 170.3,391.6 169.9,392.4 169.4,391.9 169.1,392.4 167.6,392.4 167.4,391.9 167.5,392.8 166.7,393.3 166.1,393.9 165.3,392.9 165.5,392.4 165.2,392.4 163.9,392.5 162,392.8 160.3,393.2 160.1,392.7 160.8,392.7 161.6,392.1 162.3,391.5 164.2,391.3 166,391.3 166.4,391.1 166.5,390.5 167.2,389.9 167.2,389.1 168,388.9 167.6,389.5 167.8,389.8 169.1,389.3 170.1,388.4 170.7,387.7 171,387.2 170.9,386 171.3,385.6 171.6,384.4 172.1,384.8 172.7,384.4 172.4,384M412.7,356.9 413.6,356.6 413.3,356.1 411.1,355.6 413,355.5 413.6,354.9 410.5,354.9 412.1,353.8 413.1,353.7 414.4,354.9 415.7,354.6 415.8,354.1 417.9,354 418.2,354.6 419.1,354.1 420.7,353.6 422.5,353.8 422.8,354.6 423.9,355.2 423.4,355.9 421.9,356.4 420.3,356.9 418.5,357.3 417.2,357.4 415.7,357.3 414.6,356.9 412.7,356.9M431.4,367.1 433,367.4 433.5,368.1 432.8,368.8 433,369.7 433.2,370.2 432.7,371 431.9,371.1 430.3,371.5 428.5,371.9 427.8,371.1 428.6,370.5 429.5,369.8 428,369.6 428.1,368.8 428.3,368.5 430,368.5 430.5,368.1 429.9,368 430.3,367.4 431.4,367.1M128.7,442.8 129.7,441.7 130.6,442 132.8,442.7 135.1,443 135.8,442.3 137.9,443.3 139.9,443.9 140.1,445.2 138.2,444.7 135.8,444.5 134,443.9 132.1,444.1 130.3,443.6 128.7,442.8M59.3,350.6 60.5,350 61.5,350.6 60.3,351 59.3,350.6M178.1,381.1 179.4,380.4 181.8,379.3M160.3,393.3 161.1,393.6 161.1,394.1 161.1,394.9 160.9,395.7 160.6,396.3 159.9,396.8 159.8,396.1 159.4,396.4 159.3,395.6 159,395.1 158.8,394.7 158.7,394.1 158.4,393.9 159,393.8 159.5,393.6 160.3,393.3M37.8,361.5 38.5,360.6 37.3,360 39.7,360 40.3,360.8 39.1,361.4 37.8,361.5M140.1,444.5 141.5,444.8 140.9,445.3 140.1,444.5M141.9,444.8 142.8,444.8 142.5,445.4 141.9,444.8M142.9,444.9 144.4,444.5 145.8,444.9 145,445.4 143.1,445.5 142.9,444.9M146.7,444.9 148.6,444.8 150.5,444.7 150.2,445.2 148,445.4 146.7,444.9M151.1,447.1 152.3,445.8 153.5,445 155.7,444.8 154.8,445.5 152.9,446.5 151.1,447.1M145.6,446.1 146.8,446 147.8,446.8 146.8,447 145.6,446.1M147.5,412 149.1,412.2 149.6,413.5 149.5,414.8 148.8,415.3 148.8,416.5 149.5,417.5 150.5,417.5 151.6,417.7 151.8,419.2 150.8,418.7 149.9,418 149,417.6 148,418 147.5,417.2 147.9,416.7 147.4,416.9 146.9,416.3 146.7,414.8 147.2,414.9 147.3,413.2 147.5,412M60.3,449.2 61.1,451 61.7,453.2 60.9,453.5 60.6,454.7 60.4,456.7 59.7,459 59.1,460.8 58.2,463.3 57.5,465.1 55.3,465.9 53.8,465.1 53.4,463.2 52.9,461.4 53.3,460.6 54.2,459.4 54.3,457.8 53.8,455.9 54.4,454.3 55.6,454 56.6,453.7 57.7,452.8 58.6,451.6 59.1,450.9 59.7,449.8 60.3,449.2M41.6,446.3 42.3,448 41.9,449.8 42.7,451.9 43,452.1 42.4,449.8 42.7,448 41.9,446.3 41.6,446.3M32,385.9 32.6,385.4 33.6,385.4 35.4,385.3 36.1,385 35.4,384.6 34.2,384.6 33.4,384.9 32.6,385.1 32,385.1M153.4,422.6 154.5,423.7 154.8,425.6 154.4,426.8 153.7,426.6 153.7,426 153.4,427.7 151.9,427 151.7,425.6 151,425.4 149.4,426.1 149.5,425 150.5,424.2 151.5,424.5 152.6,424 153.4,422.6M147.3,418.1 148.5,418.2 148.6,419.4 147.9,419.5 147.3,418.1M154.1,438.4 155.4,438.3 155.6,439 154.4,439.2 154.1,438.4M156.6,438.1 158.4,437.9 160,438.7 158.4,438.7 156.6,438.5 156.6,438.1M181.4,441.5 182.9,441.2 184.5,441.2 186,439.8 186.3,440.4 185.3,441.4 184.1,442.1 182.3,442.1 181.4,441.5M200.6,459.1 202.5,460.2 204.3,461.8 203.1,461.4 201.3,460.1 200.6,459.1M160.3,435.5 162.1,435 163.9,435.5 164.3,436.9 165.2,438.5 167,437.2 168.6,436.3 170.1,436.9 172.1,437.7 173.1,437.8 175.7,438.8 176.8,439.3 178.4,440.9 179.8,441.9 180.8,442.7 179.8,442.8 180.1,443.7 181.3,444.7 182.3,445.6 183.5,446.9 184.5,447.1 183.5,447.5 181.1,447 180.1,446.1 178.6,444.9 177.1,443.9 176.2,443.9 175.3,444.9 174.9,445.8 173.7,445.8 172.5,445.6 171.3,444.5 169.8,444.7 168.5,444.8 169.4,443.1 169.8,441.9 168.8,441.1 167,440.3 165.2,439.9 163.3,439.3 162.5,439.4 161.5,438.1 163.3,437.6 163.7,437.2 161.9,437.2 160.5,436.2 160.3,435.5M184.5,437.7 186,438.5 187.2,440.1 186.8,439.2 185.3,437.9 184.5,437.7M22.6,337 24.4,336.5 28.1,336.7 33,337.1 31.8,337.9 28.1,338.2 25,337.8 22.6,337M69.7,348.7 67.3,348.5 65.4,348.4 63,347.6 64.2,346.6 64.8,345.7 66.6,345.2 67.3,343.9 69.1,342.9 72.2,342.1 75.8,341.6 79.5,341 83.8,340.9 84.1,341.4 80.7,342.1 75.8,342.9 73.4,343.7 70.9,344.5 69.7,345.4 68.5,346.6 70.3,347.8 69.7,348.7M168.2,342.7 172.5,342 176.2,342.7 173.7,343.4 168.8,343.5 168.2,342.7M179.8,342.9 184.1,343.2 182.3,343.5 179.8,342.9M171.3,345.1 174.9,345.2 173.7,345.5 171.3,345.1M211.3,476.6 212.3,477.4 213.2,477.7 213.6,479 214,479.7 214.7,479.2 215.2,480.2 215.7,480.6 216.8,481.1 218.4,480.7 217.8,481.9 217.7,482.5 216.6,482.9 216.6,483.5 215.7,484.7 214.5,485.5 213.9,485.1 214.2,484.1 214.1,483.4 213.2,483.1 212.6,482.6 213,482.3 213.6,481.7 213.9,480.4 213.4,479.6 212.6,478.6 211.7,477.4 211.3,476.6M211.3,484.1 211.8,485 212.9,484.7 213.2,485.6 212.5,486.4 211.7,487.2 211.4,487.8 211.8,488.2 210.7,488.4 209.6,488.9 209.2,489.7 208.8,490.7 207.7,491.5 205.9,491.6 204.9,491.1 203.7,490.7 204.1,489.6 205.3,488.8 206.2,488.3 208,487.3 209.5,486.4 209.9,485.6 210.6,484.6 211.3,484.1M43.1,360.3 42.8,358.9 44,358.5 44.4,359.7 43.1,360.3M143.4,424.3 145,423.2 146.2,421.7 145.9,420.6 145.3,422 143.9,423.6 143.4,424.3M149.2,420 150.6,420.5 150,421.7 150.6,423.3 149.9,422.5 149.1,421.7 149.2,420M156.2,402.8 157,401.9M173.7,368.5 174.6,368.3 175.3,370.1 175.2,371.9 175.6,373.7 176.4,374.7 177,375.3 174.9,374.6 174.7,376.7 175.3,377.6 175.6,378.4 174.6,377.7 173.7,378.7 173.6,377.3 173.8,376.1 173.7,374.3 174,372.5 173.4,371.3 173.5,369.6 173.7,368.5M152.1,419.3 153.3,419.3 153.8,420.9 152.9,421.1 152.9,422.1 152.3,421.4 152.1,420.5 152.1,419.3M229.2,451 230,451.4M230.3,451.6 230.6,451.6M116.8,338.3 119.3,337.2 122.3,337.3 122.3,338.2 119.9,338.7 116.8,338.3M122.3,338.7 126,338.3 128.4,339.2 126,339.9 122.3,339.4 122.3,338.7M116.2,336.6 119.3,335.8 119.9,336.9 116.2,336.6M164.7,392.9 164.2,394.1 163.3,393.8 162.7,394.7 162.1,394.1 161.5,393.9 162.3,393.3 162.7,393 163.9,392.7 164.7,392.9M65.3,419.4 66.6,419.2 65.8,419.5 65.3,419.4M70.1,459.1 70.7,459.4M67.6,460.2 68.2,460.5M84.1,494.5 86.2,494.8 85.4,495.3 84.1,494.5M52.9,448.7 53.2,449.1M409.3,388.5 409.7,388.5M405.9,387.7 406.2,387.7M419.7,394.7 420.1,394.7M419.9,400.1 420.7,399.8M421.3,400.5 421.7,400.5M423.1,400.1 423.5,399.7M411.1,414.1 411.7,416.3M394.6,500.8 396.4,501.4M367.1,497.7 368.3,497.5 369.5,497.8 367.9,498.4 367.1,497.7M365.9,497.6 366.8,498M113.5,418.1 113.4,420.3M10.1,434.1 8.1,434.3M328.5,435.1 329.1,435.7 329.8,435.2M306.6,467.7 306.7,467.7M257.4,456.1 257.9,456.2M89.3,499.4 90.1,499.5M118.4,449.3 118.5,449.4M193.5,426.1 193.7,426.2M177,418.3 177.3,418M433.5,454 433.5,454.1M422.9,444.2 423,444.3M11.3,382.3 11.6,384.2 10.6,383.5 11.3,382.3M10,384.8 11.8,384.6 11.7,386.8 10.4,387.1 10.2,385.5 10,384.8M15.2,388.3 18.9,388 18.4,389.9 15.2,388.8 15.2,388.3M28.7,391.6 32.1,391.7 29.3,391.9 28.7,391.6M39.5,391.9 42.2,391.2 41.4,392.1 40,392.3 39.5,391.9M2.9,386.3 4.1,386.1 3.7,386.7 2.9,386.3M431.7,358.9 432.5,359.1M438.7,361.1 439,361.7M436.6,362.8 437.1,362.8M431.9,364.3 431.6,365.1M432.8,363.6 432.1,364.1M27.5,363.6 28.1,363.2 26.9,363.9 27.5,363.6M22.2,364.1 23.2,364.7 22.3,365.2 22.2,364.1M20.3,366.2 20.9,364.8M18.1,367.4 18.4,367.5M13.2,367 12.8,367.6 13.7,367.3 15.2,367.3 15.2,366.4 14,366.5 13.2,367M189.3,441.2 190.7,442.8 189.9,442.7 189.3,441.2M191.5,442.7 192.7,443.6M194,443.8 195.5,444.9M195.5,446 196.7,446.5M196.6,444.9 197.3,446.1M197.6,447.1 198.6,447.6M97.9,422.6 99,423.7 99.4,424.2 100.2,425.6 99.9,426.6 99.1,427.1 98.1,427.2 97.7,426.2 97.6,424.8 97.7,423.6 97.9,422.6M204.9,492 205.8,492 205.5,492.3 204.9,492M152.7,432.7 151.7,433.3 150.5,433.3 148.6,433.2 147.8,432.9 146.8,433.5 146.6,434.5 146.6,435.5 145.9,436.3 145.3,437.9 145.9,438.8 146.2,440 146.1,440.9 146.6,441.4 147.3,441.4 147.3,439.4 147.2,438.1 148,437.8 148.6,439.4 149.2,440.4 150.2,440.3 150.7,439.4 149.9,438.5 149.5,436.9 148.6,436.8 149.9,435.7 151,435.6 150.5,435.2 148.9,435.6 148,436.1 147.5,435.7 146.9,435.4 147,434.1 148,433.9 149.9,433.9 151.1,434.1 152.3,433.9 153.2,432.7 152.7,432.7M116.6,427.7 118.9,428.2 119.9,429 120.7,429.9 122.3,431.1 123.3,431.9 124.5,432.4 126,433.6 127,434.9 126.6,435.7 127.8,436.7 129.7,437.6 129.7,438.5 129.4,440 129.4,441.6 128.7,441.6 128,441.2 127.2,440.6 125.1,439.2 122.8,435.7 121.3,434.1 120.9,432.4 119.5,431.5 117.6,429.5 116.6,427.7M13.4,337.6 17.1,337.2 19.5,337.2 22,337.6 23.2,338.4 26.3,338.8 23.2,339.7 22.6,340.3 20.8,341.4 18.3,340.6 17.1,339.9 16.5,339.4 14,338.8 13,338.1 13.4,337.6M148.6,403.7 149.2,404.1 148.8,405.3 148.4,406.5 147.8,407.7 147.2,407 146.9,405.9 147.7,404.6 148,404 148.6,403.7M35.8,438.7 36.1,440.6 37.3,443.1 37.9,445.2 37.4,444.7 36.5,442.8 35.6,440.6 35.8,438.7M177,484.4 179.2,484.8 181.1,484.5 181.4,485.9 181.1,487.4 179.8,487.9 178.6,487.8 177.8,486.6 177.1,485.3 177,484.4M15.2,363.4 15.9,362.4 17.1,362.8 16.5,363.4 15.2,363.4M203.8,452.6 204.6,453.6M204.7,454.1 205.3,454.7M205.9,456.1 206.2,456.3M207,458.4 207.3,458.5M38.9,435.1 39.7,434.1 41.3,434.1 41.9,435.1 41.6,436.3 40.9,437.6 39.7,437.7 38.9,436.7 38.9,435.1M218.4,347.9 220.2,347.6 222.7,347.8 223.3,348.2 220.2,348.4 218.4,347.9M340.8,369.8 342,370.3 341.4,369.8 340.8,369.8M237,369 235.2,369.7M227.6,371 226.8,371.1M203,367.4 203.7,367.9M347.5,519 352.4,519.3 355.4,521.5 352.4,523.3 348.7,522.5 347.5,519M275.9,364 274.7,364.9 275.5,365.8 276.2,364.8 275.9,364M277.1,366 278.4,367 277.7,367.9 277,367 277.1,366M345.2,425.7 344.6,424.8 343.2,423.6 342,424.5 342.1,425.6 341.4,425 339.1,424.5 338.1,424 336.8,422.8 336.2,422.7 335.5,421.9 335.6,421 334.3,419.7 333.2,418.7 332.2,418.4 330.6,418 328.6,417.5 327.5,416.7 325.6,415 324,414.8 322.4,415.4 320.6,414.9 318.2,414.1 316.3,413.2 315.4,412.6 313.8,412.1 312.7,411.3 311.4,410.2 311.1,409.7 311.6,409.2 311.5,408.4 310.9,406.9 310.3,406.3 308.6,404.7 307.4,403.6 306.6,403.1 306.6,402 304.8,400.6 303.2,399.4 302.5,398 302,396.6 300.1,395.8 300,396.8 300.5,398 301.6,399.2 302.5,400.5 303.1,401.4 304.2,402.6 304.7,404.1 305.4,405.1 306.1,405.7 306,406.7 305.5,406 303.9,404.8 303.2,404.1 303.1,402.6 301.5,401.9 300.4,401.3 299.8,400.7 300.7,400.1 300.1,398.9 298.9,397.8 298.2,396.6 297.7,395.8 297.2,395 295.6,393.3 293,392.5 292.1,391.1 291.3,390 290.6,388.5 290,388.3 289.1,387.1 288.3,385.4 288.5,383.7 288.1,382.5 288.6,381 288.8,378.3 287.9,375.6 290,375.9 290.6,376.9 290.7,375.8 290,374.9 289.7,374.6 288.1,373.7 286.3,373.1 284.5,372.5 284.1,370.9 282.6,369.4 281,368.5 280.8,367.3 279.2,367.3 278.7,366 277.1,364.6 275.9,363.6 274.7,363.4 273.3,363.7 271.9,363.2 269.4,362 267.3,361.5 264.3,361.5 262.4,361.1 261.8,360.7 260.6,360.3 259.1,360.8 257.7,361.5 254.7,362.5 255.1,361.9 255.3,360.7 256.9,360.1 255.1,360.3 253.9,361.2 252.7,362.1 251.8,363 251.8,363.7 249.6,364.6 247.4,365.6 245.3,366.6 242.9,367.4 240.7,367.9 238.8,368.1 241,367.3 243.5,366.4 244.7,365.8 246.5,364.8 247.8,363.4 248.4,363 246.5,363 244.1,363.1 242,363.2 242.5,362.1 241.6,361.3 239.2,360.9 238.1,360.2 237.4,359.5 238.6,358.3 238.9,357.6 241,357.6 243.2,357.3 243.7,356.1 242.9,356.1 241,356.1 238.1,356.1 236.7,355.8 234.8,354.7 236.7,354 239.2,353.6 240.2,354.1 242.5,354.1 242.9,353.6 241.6,353.1 240.2,352.8 239.8,352.2 236.4,351.4 237.1,350.7 239.8,350.6 241,349.6 242.3,349 244.7,348.5 248.6,347.8 250.8,348.2 254.5,348.4 256.9,348.8 258.8,349 261.8,349.3 264.9,349.3 268,349.9 270.4,350 272.8,350.6 274.7,350.2 276.5,349.9 277.7,350 280.2,349.4 282,349.4 283.9,348.8 285.1,349.4 286.9,350.1 288.1,349.4 290,350 292.4,349.7 296.1,350.6 299.2,350.7 301,351.4 299.8,352.1 302.2,352.2 305.9,351.9 307.7,352.4 308.3,353.3 308.9,352.1 310.8,351.4 312.6,351.8 315.7,352.1 318.1,352.1 320,351.4 321.2,351.2 323,351.6 323.6,352.7 324.9,351.6 323.6,350.4 322.7,349.1 322.4,347.9 324.2,347.1 325.5,347.3 326.9,348.2 327.9,349.4 328.5,350 329.8,350.6 331.6,350.6 332.8,351.4 332.8,352.7 334,352.4 335.3,351.8 335.9,350.6 336.5,349.6 339.5,349.7 340.8,350.6 341,351.8 339.5,352.8 338.3,353.9 335.9,353.6 334.9,353.6 335.3,354.5 333.4,355.1 331.6,355.5 332.8,356.4 330.4,356.7 329.5,357.5 327.3,358.3 326.1,359.7 325.3,360.2 324.6,361.5 325.2,363 326.7,363.1 327.3,364.8 327.5,365.2 329.8,364.9 332.8,365.8 335.3,366.6 336.5,367.3 339.8,367.4 339.9,368.8 339.9,370.1 340.8,370.9 342,372.1 343.2,371.9 344.1,370.7 343.8,369.1 343.5,368 345.7,367 346.6,365.8 346.8,364.6 345.3,363.2 344.4,362.1 345.7,361.3 345,360.1 345,358.7 345.7,358.5 348.1,358.7 350.6,358.9 352.4,359.7 353.6,360.2 355.2,360.3 355.4,361.8 355.1,363 356.7,363.7 358.5,363.4 360,362.4 361,361.2 361.6,361.1 362.8,362.4 364,363.6 364.9,364.8 365.5,366 366.8,367.1 368.5,367.9 370.1,368.5 370.4,369.4 372,370.3 372.3,371.4 370.7,372 368.9,372.2 367.1,373.2 365,373.5 362.2,373.3 359.1,373.5 357.9,374.4 356.6,375 355.2,376 353.4,377.6 354.8,377 356.7,375.6 358.5,374.9 361,374.7 361.8,375.2 360.7,376.1 359.4,376.1 361,376.6 361.2,377.3 361.6,378.2 362.4,378.6 364,378.9 365.2,379.1 366.6,377.3 367.2,378.6 365.9,379.4 362.8,380.3 361.6,381 360.3,381.6 359.6,381.2 360,380.3 361.6,379.4 359.7,379.5 358.5,380 356.7,380.6 354.8,381.2 354.5,381.5 353.9,382.5 353.6,383.1 354.1,383.5 354.8,383.4 354.8,383.8 354,384 353,384.2 351.8,384.3 349.9,385.1 351.8,384.8 349.9,385.3 349.9,386.1 349.5,386.6 348.8,387.2 348.1,386.5 348.6,387.4 348.5,388.3 347.6,389.3 347.5,389.5 347,388 347.1,386.8 346.8,388.3 347.1,389.6 347.6,390.1 348.1,391.7 346.9,392.3 345.7,392.8 345,393.3 343.8,393.8 342.7,394.7 341.4,395.6 340.9,397.2 340.9,397.7 341.4,399 342,399.8 342.5,401.7 342.5,403.1 342.1,403.9 341.3,404 340.5,402.9 340.2,402.3 339.3,400.8 339.3,399.5 338.4,398.5 337.7,397.9 336.1,398.4 334.9,397.5 333.8,397.7 332.8,397.7 331.6,397.7 331,397.9 331.1,398.9 331.5,399.2 330.4,399.1 329.1,399 327.9,398.5 326.1,398.3 324.5,398.9 323.3,399.7 321.6,400.8 321.3,402.3 321.6,403 320.9,404.7 320.8,407.1 321.4,409 322.4,410.4 322.9,411.2 323.6,411.8 324.9,412.4 326.7,412.1 327.9,411.9 328.8,411.6 329.5,410.8 329.8,410.4 329.9,409.2 330.4,408.7 330.7,408.6 332.8,408.2 333.8,408.4 334.3,408.8 333.5,409.9 333.4,411 333.1,412.2 332.6,413.2 332.4,414.4 331.7,415.2 332.6,415.4 333.4,415.3 335.3,415.3 336.5,415.2 337.7,415.3 338.7,416.3 338.3,417.5 338.3,418.7 338.1,419.9 337.9,421.1 338.1,421.2 338.9,422.3 339.9,423.3 340.8,423.6 341.7,423.4 342.7,423.1 343.8,422.8 345,423.2 345.8,423.9 346.5,424 346.4,424.8 347.1,423.6 348,422.8 348.1,421.9 349,421.1 349.7,420.8 351.2,420.5 352.8,419.4 353.4,419.9 352.5,420.4 352.9,421.2 352.9,422.6 353.6,422.9 353.6,421.7 353.6,421.1 354.6,420.5 354.8,419.7 355.1,420.5 356.3,420.6 356.9,421.4 357.3,421.7 358.5,421.6 359.7,421.6 361,422.2 361.7,422 361.9,421.7 363.4,421.5 364.6,421.5 363.6,421.9 364,422.3 365.2,422.6 366.1,423.6 367.1,424.2 368.3,424.8 369.3,426.2 370.5,427.2 372.9,427.3 374.4,427.4 376.5,428.5 377.5,429.3 378.1,430.9 378.9,432.3 379.3,433.9 378.7,434.5 379.9,434.7 381.1,434.9 381.4,435.5 381.1,436.2 382.4,435.2 384.2,435.7 385.4,436.3 386,437.3 386.3,437.6 387.3,437.4 389.1,437.9 391.6,437.9 393.4,439 394.9,440.3 395.8,440.7 397.2,440.9 397.4,441.6 397.9,443.2 397.8,444.4 396.8,446.4 395.2,447.9 394.6,449 393.4,450.4 392.8,451.6 392.8,452.6 392.8,454.7 392.5,456.2 391.9,457.2 391.8,458.5 391.2,459.4 390.3,461 390.3,461.4 389.1,462.7 387.6,462.7 386,462.9 383.8,463.9 382,465.1 381.3,465.9 381,467.3 381.1,468.3 380.8,469.5 379.7,470.5 378.9,471.9 378.1,473 376.7,473.9 375.2,475.8 374.7,476.6 373.2,477.4 371.7,477.3 369.8,476.6 369,476.9 370.4,477.7 370.5,478.6 371.1,479.1 370.1,481.1 368.5,481.8 365.9,482.3 364.4,482.2 364.4,483.5 364.3,484.5 362.4,485 361,484.5 360.7,485.7 361.9,486.3 362.7,486.8 361.6,486.9 361,487.5 360.6,489 360.1,489.6 358.1,490.2 357.9,490.7 357.9,491.5 359.1,492.1 359.9,493.1 358.5,494.2 357.7,495.1 356.7,496 355.8,497 356.1,497.7 356.8,498.7 355.4,498.8 353.9,499.2 353.7,500.3 352.4,500 350.6,499.2 349.1,498.7 348.7,497.6 348.1,495.8 348.1,493.9 348.1,492.1 348,491.7 349.3,490.6 350.2,489 351.2,487.8 351.4,486.3 350.2,485.7 350.2,484.7 350.7,483.3 350.6,481.7 351,479.6 351.5,478 352.5,476.1 352.9,474.9 353,473.1 353.1,471.1 353,469.4 353.7,467.6 354.2,465.6 354.3,463.4 354.2,462.8 354.6,461.4 354.6,459.2 354.5,457.2 353.2,456.2 352.4,455.3 350.6,454.5 348.5,453.4 347.1,451.6 346.5,450.1 346.1,449.2 345.4,448 344.7,446.5 344.3,445.6 343.7,444.4 342.7,443 341.4,441.9 341,440.3 341.5,439.2 342.1,438.8 342.7,437.7 342.2,437.7 341.4,437.2 341.6,435.7 342.5,434.5 342.6,433.5 343,433.3 343.9,432.8 344.1,432.3 344.6,431.3 346.1,429.8 345.7,429.4 345.9,427.8 345.7,426.5 345.2,425.7M-0.1,521.5 6.1,520.6 12.2,520.5 18.3,520.2 24.4,520.5 30.5,520.9 36.7,519.4 40.3,518.7 42.8,518.5 46.5,520 48.9,518.8 55,517.4 61.1,516.3 66,515.2 69.7,516.1 73.4,517.1 79.5,517.4 83.2,517.6 85.6,518.8 86.8,520.4 89.3,520 91.7,519.4 95.4,518.4 99.1,517.6 104,516.3 107.6,516 110.1,516 116.2,515.8 122.3,515.2 126,514.7 128.4,515.8 134.6,515.4 138.2,515.1 141.9,516.2 146.8,516.2 150.5,515.8 155.4,515.6 159,515.4 165.2,515.4 168.8,515.8 171.3,516.2 174.9,516.5 177.4,517.2 179.8,517.4 183.5,518.4 187.2,518.5 189.6,519.4 193.3,519.6 195.8,520.5 198.2,520.7 200.6,520.9 204.3,521.5 208.6,522.2 208,523.3 205.5,524.5 203.1,526.1 200.6,527.6 201.3,529.2 198.2,530.7 196.2,532 197,533.5 200.6,534.6 208,536.2 220.2,537.3 232.5,538 244.7,538.3 256.9,538.6 261.8,538.5 254.5,536.8 250.8,535.2 259.4,533.7 252,531.9 248.4,530.7 245.9,529.6 248.4,529.1 253.3,528.6 259.4,527.6 263.1,527.1 269.2,526.6 275.3,526.1 281.4,525.5 287.5,524.5 290,524 293.7,524.5 299.8,525.1 303.4,525.8 305.9,525.4 312,526.1 315.7,525.8 318.1,524.5 320.6,523.3 324.2,523.7 330.4,523.6 336.5,523.9 342.6,524.2 346.3,523.3 348.7,523.7 349.9,522.1 352.4,520.9 354.8,519.4 356.4,517.3 358.5,516 361.6,514.5 365.1,512.9 368.3,512.2 372.9,511.7 370.7,512.9 367.7,514.1 365.9,515.7 365.1,517.3 364.6,519 365.9,520.9 366.5,522.7 367.1,524.3 364.6,525.8 361,527 359.1,528.6 363.4,529.4 368.3,529.8 373.8,530.3 381.8,530.8 391.3,530.9 397.7,529.8 403.8,528.3 408.7,526.9 413.6,525.5 418.5,524.3 422.1,523.3 426.1,522.5 430.7,521.8 435.6,521.7 440.5,521.5M440.5,521.5 446.6,520.6 452.7,520.5 458.9,520.2 465,520.5 471.1,520.9 477.2,519.4 480.9,518.7 483.3,518.5 487,520 489.5,518.8 495.6,517.4 501.7,516.3 506.6,515.2 510.3,516.1 513.9,517.1 520,517.4 523.7,517.6 526.2,518.8 527.4,520.4 529.8,520 532.3,519.4 536,518.4 539.6,517.6 544.5,516.3 548.2,516 550.6,516 556.8,515.8 562.9,515.2 566.5,514.7 569,515.8 575.1,515.4 578.8,515.1 582.5,516.2 587.4,516.2 591,515.8 595.9,515.6 599.6,515.4 605.7,515.4 609.4,515.8 611.8,516.2 615.5,516.5 617.9,517.2 620.4,517.4 624.1,518.4 627.7,518.5 630.2,519.4 633.9,519.6 636.3,520.5 638.7,520.7 641.2,520.9 644.9,521.5 649.1,522.2 648.5,523.3 646.1,524.5 643.6,526.1 641.2,527.6 641.8,529.2 638.7,530.7 636.8,532 637.5,533.5 641.2,534.6 648.5,536.2 660.8,537.3 673,538 685.3,538.3 697.5,538.6 702.4,538.5 695,536.8 691.4,535.2 699.9,533.7 692.6,531.9 688.9,530.7 686.5,529.6 688.9,529.1 693.8,528.6 699.9,527.6 703.6,527.1 709.7,526.6 715.8,526.1 722,525.5 728.1,524.5 730.5,524 734.2,524.5 740.3,525.1 744,525.8 746.4,525.4 752.6,526.1 756.2,525.8 758.7,524.5 761.1,523.3 764.8,523.7 770.9,523.6 777,523.9 783.2,524.2 786.8,523.3 789.3,523.7 790.5,522.1 792.9,520.9 795.4,519.4 797,517.3 799.1,516 802.1,514.5 805.7,512.9 808.8,512.2 813.5,511.7 811.3,512.9 808.2,514.1 806.4,515.7 805.7,517.3 805.2,519 806.4,520.9 807,522.7 807.6,524.3 805.2,525.8 801.5,527 799.7,528.6 804,529.4 808.8,529.8 814.4,530.3 822.3,530.8 831.9,530.9 838.2,529.8 844.3,528.3 849.2,526.9 854.1,525.5 859,524.3 862.7,523.3 866.6,522.5 871.3,521.8 876.2,521.7 881.1,521.5M-440.6,521.5 -434.5,520.6 -428.4,520.5 -422.2,520.2 -416.1,520.5 -410,520.9 -403.9,519.4 -400.2,518.7 -397.8,518.5 -394.1,520 -391.7,518.8 -385.5,517.4 -379.4,516.3 -374.5,515.2 -370.8,516.1 -367.2,517.1 -361.1,517.4 -357.4,517.6 -354.9,518.8 -353.7,520.4 -351.3,520 -348.8,519.4 -345.1,518.4 -341.5,517.6 -336.6,516.3 -332.9,516 -330.5,516 -324.3,515.8 -318.2,515.2 -314.6,514.7 -312.1,515.8 -306,515.4 -302.3,515.1 -298.6,516.2 -293.8,516.2 -290.1,515.8 -285.2,515.6 -281.5,515.4 -275.4,515.4 -271.7,515.8 -269.3,516.2 -265.6,516.5 -263.2,517.2 -260.7,517.4 -257,518.4 -253.4,518.5 -250.9,519.4 -247.2,519.6 -244.8,520.5 -242.4,520.7 -239.9,520.9 -236.2,521.5 -232,522.2 -232.6,523.3 -235,524.5 -237.5,526.1 -239.9,527.6 -239.3,529.2 -242.4,530.7 -244.3,532 -243.6,533.5 -239.9,534.6 -232.6,536.2 -220.3,537.3 -208.1,538 -195.9,538.3 -183.6,538.6 -178.7,538.5 -186.1,536.8 -189.7,535.2 -181.2,533.7 -188.5,531.9 -192.2,530.7 -194.6,529.6 -192.2,529.1 -187.3,528.6 -181.2,527.6 -177.5,527.1 -171.4,526.6 -165.3,526.1 -159.1,525.5 -153,524.5 -150.6,524 -146.9,524.5 -140.8,525.1 -137.1,525.8 -134.7,525.4 -128.5,526.1 -124.9,525.8 -122.4,524.5 -120,523.3 -116.3,523.7 -110.2,523.6 -104.1,523.9 -98,524.2 -94.3,523.3 -91.8,523.7 -90.6,522.1 -88.2,520.9 -85.7,519.4 -84.1,517.3 -82,516 -79,514.5 -75.4,512.9 -72.3,512.2 -67.6,511.7 -69.8,512.9 -72.9,514.1 -74.7,515.7 -75.4,517.3 -75.9,519 -74.7,520.9 -74.1,522.7 -73.5,524.3 -75.9,525.8 -79.6,527 -81.4,528.6 -77.1,529.4 -72.3,529.8 -66.7,530.3 -58.8,530.8 -49.2,530.9 -42.9,529.8 -36.8,528.3 -31.9,526.9 -27,525.5 -22.1,524.3 -18.4,523.3 -14.5,522.5 -9.8,521.8 -4.9,521.7 -0.1,521.5M361.6,373.8 363.4,374.1 364.9,374.8 362.8,374.6 361.6,373.8M304.4,363.1 306.5,362.5 310.2,362.4 307.7,362.8 304.4,363.1M334,339.4 327.9,338.4 324.2,337.5 323,336.6 326.7,335.6 331.6,336.6 333.4,337.8 334,339.4M359.7,359.1 354.8,358.1 352.4,357 346.9,356.4 345,355.9 345,355.6 347.5,355.1 349.9,355.5 350.6,354.2 351.2,352.4 350.6,351.4 347.5,350.6 345,349.6 343.8,349 341.4,349.5 337.1,349.4 334,349 331.6,348.4 330.4,347.2 330.6,345.7 331.6,344.9 335.3,344.8 336.5,345.7 337.1,344.8 340.2,344.8 341.4,345.5 342,346.3 345,345.7 345,345.1 347.5,346 349.3,347.2 352.4,347.6 354.8,348.5 356.7,349.1 358.5,350.2 357.9,351.2 361,351.8 363.4,352.7 365.2,353.4 364.6,354.5 362.8,355.5 360.3,354.5 357.9,353.6 358.5,354.9 361,356.1 362.2,357.3 361.2,358.4 359.1,357.9 356.7,357 358.5,358.3 360.3,359.1 359.7,359.1M290,347.9 286.9,347.1 286.9,345.9 288.8,344.3 292.4,343.9 296.7,344.3 296.7,345.1 294.9,346.2 293,347.6 290,347.9M313.2,342.9 318.1,343.3 321.2,342.7 320.6,341.5 316.9,341.2 313.2,341.8 313.2,342.9M343.2,365.8 343.8,366.4M342.6,366.2 342.8,366.6M230.4,357.3 232.5,357 233.9,357.6 232.1,357.6 230.4,357.3M235.8,361.3 237.7,361.2 237.6,361.8 235.8,361.3M228.8,360.9 229.5,361.2M378.1,530.3 384.2,530.7 385.4,532.5 379.3,532.9 376.9,531.5 378.1,530.3M342,344.9 345,344.8 347.5,345.5 345.7,346.1 342.6,345.7 342,344.9M344.8,405.1 345.4,403.9 345,404.5M346,402.2 346.3,402.5M345.3,402 344.2,402.2M347.3,403.9 347.4,404.5M348.1,405 348.4,405.2M350.4,409 351,408.7M364.7,421.5 365.9,421.4 365.9,422.2 364.7,422.2 364.7,421.5M364.9,414.7 365.6,414.8M365.6,416.5 366,416.9M365.9,417.6 366,417.8M367.6,418.4 367.7,418.6M362.2,421.1 362.4,421M356.1,419.7 356.3,419.8M339.2,408 339.4,408.4 338.9,408.4 339.2,408M349.7,487.5 350.4,487.5 350.6,485.9 349.9,485.7 349.7,487.5M338.9,358.1 340.2,358 342.6,358.5 339.5,358.9 338.9,358.1M322.4,343.3 326.1,343.7 326.1,342.7 323,342.6 322.4,343.3M336.6,407.9 337.7,406.9 338.9,406.5 339.7,406.4 341,406.4 342.6,406.7 343.8,407.3 345.7,408 347.5,408.7 348.7,409.3 349.8,409.9 348.5,410.3 347.7,410.2 345.4,410.4 346.1,409.8 346,409.3 344.4,409 343.2,408.1 342,407.7 340.8,407.5 339.8,406.9 338.3,407.5 337.3,408 336.6,407.9M342.6,342.6 337.7,342.3 331.6,342.7 327.9,341.8 323,341.4 323,342.6 327.9,343.8 332.8,343.9 337.7,343.9 342,343.8 342.6,342.6M373.4,349.9 375.6,350.2 376.9,349.6 375,349 373.4,349.9M345,341.6 342.6,341.8 338.9,341.6 334,341.6 331,341.5 331.6,340.6 332.8,339.5 334,338.9 336.5,337.8 334.6,336.9 329.1,335.8 328.5,335.2 332.8,334.4 340.2,333.7 347.5,333.5 354.8,333.5 362.2,334.1 365.2,334.4 362.2,335.4 358.5,336 354.8,336.9 352.4,337.6 348.7,338.2 347.5,339 348.1,339.9 345,340.6 345,341.6M338.4,383.8 339.5,384.2 340.8,383.9 342.6,383.2 343.9,382.5 342.6,382.7 341.1,382.6 339.5,383.4 338.8,383.3 338.4,383.8M290,355.5 293.7,355.2 296.1,354.2 294.3,353 291.2,353.6 290,354.5 290,355.5M297.3,360.3 301,360.1 303.4,358.7 306.5,358.1 304.1,358.7 301,359.1 298.5,359.4 297.3,360.3M386.7,361.8 384.8,361.3 381.8,360.6 379.9,359.1 378.7,357.9 377.2,356.4 376.3,354.9 374.8,353.1 374.8,351.8 378.1,350.8 378.1,350 376.9,349.4 373.8,348.8 373.8,347.6 372.6,346.3 371.8,346 370.7,344.5 368.9,342.9 365.9,342.1 362.2,342 359.1,342.1 356.1,341.6 353.6,340.9 352.4,339.7 351.2,339.3 356.1,338.4 359.7,338.1 361,337.2 358.5,336.6 362.2,335.8 365.9,335 369.5,334.5 374.4,334.4 379.3,334.3 384.2,333.8 389.1,333.2 395.2,333 401.3,332.8 407.5,333.2 411.1,333.9 414.8,334.5 413.6,335.4 419.7,335.4 425.2,335.4 426.4,335.5 423.4,336.4 419.7,337.2 417.9,338.4 416.6,339.7 417.2,340.9 416,342.1 416.6,343.3 415.4,344.2 413.6,345.1 412.4,346 413.6,346.9 413.6,347.7 409.9,348.2 410.5,348.8 413,349.1 411.7,350 409.3,350.8 406.2,351.4 402.6,351.8 400.1,352.7 397.7,353.9 394.6,354.6 391.6,355.5 390.7,356.7 389.7,357.9 388.5,359.1 388.1,360.3 387.5,361.3 386.7,361.8M277.7,368.6 279.3,368.8 279.2,370.1 280.1,371.3 278.5,370.1 277.6,369 277.7,368.6M349.3,412.1 349.8,411.9 351.4,412 351.9,411.9 351.4,411.3 350.7,410.5 352.1,410.4 352.9,410.3 354,410.4 355,410.5 355.8,411 356.4,411.5 356.9,411.9 356.4,412.4 355,412 354.1,412.4 353.5,413.1 352.8,412.6 351.8,412.4 350.2,412.4 349.3,412.1M336.8,378.8 338.3,379.4 338.6,380.4 337.8,381.4 339.5,382.1 340.5,381.6 340.6,380.4 341,379.5 342.4,380.3 342.8,379.8 342,379.1 340.8,378.6 338.9,378.3 337.5,378.3 336.8,378.8M344.6,412.1 345.7,412 347.1,412.4 347.3,412.7 346,413 344.8,412.5 344.6,412.1M323,350.6 320,351.1 318.7,350.2 321.2,349.5 323,350.1 323,350.6M252.3,365.2 254.2,364.5 253.8,363.5 252.7,364 251.3,364.5 252.3,365.2M342.6,358.7 343.2,359.5 342.4,359.4 342.6,358.7M352.9,421.2 352.4,422.6 353.2,423.3 353.6,422.3 352.9,421.2M298.5,343.1 303.4,343.9 308.3,343.7 310.8,343.1 310.8,342.2 307.1,341.2 302.2,341.6 297.3,341.8 298.5,343.1M333.3,383.7 333.1,382.2 333.4,380.4 332.8,380.3 334,379.2 335.3,378.7 336.5,378.8 335.9,379.8 335,380.4 334.6,381.6 334.9,382.8 334.2,383.7 333.3,383.7M375.5,377.7 376,376.6 375.6,375.5 375.5,375.3 374.4,374.4 372.6,373.8 372,373.5 372.5,372.1 372.7,371.8 370.9,372.5 370.5,372.8 369.8,374.1 369,374.9 367.9,375.9 367.9,376.6 370.1,376.6 372,376.7 372.2,377.5 373.2,377 374.2,376.9 374.4,377.6 374.9,377.8 375.5,377.7M335.4,419.8 336.5,420.9 335.7,420.6 335.4,419.8M342.8,381.8 343.8,381.8 345.7,381.8 347.1,381.6 347.1,380.9 345.7,381.1 343.8,381.2 342.8,381.8M361.8,377.5 363.4,378 364.6,378.1 363.6,378.6 362.2,378.2 361.8,377.5M321.8,345.9 319.3,347.6 315.7,346.7 315.7,345.7 318.1,344.8 321.2,345 321.8,345.9M290.6,341.8 294.9,342.1 297.9,341.2 296.1,340.4 292.4,340.9 290.6,341.8M358.3,412 360.2,412.1 360,412.6 358.3,412.6 358.3,412M315.1,365.8 315.7,364.2 315.3,364 315.1,365.8M314.5,339.4 319.3,339.9 321.8,338.8 318.1,338.1 314.5,338.7 314.5,339.4M321.8,339.7 325.5,339.9 324.2,338.8 321.2,339 321.8,339.7M302.2,340 305.9,340.1 305.9,339.4 302.2,339.3 302.2,340M312,340.6 312.6,340M305.9,339.2 307.1,338.6M241,531.3 244.1,531 244.7,532 242.3,532.4 241,531.3M329.8,346 326.1,346.9 323.6,346 323.6,344.8 327.9,344.5 329.8,345 329.8,346M342.4,356.9 339.5,357 338.3,356.7 336.5,357.6 333.8,357 335.3,355.8 335,354.6 336.5,354.2 338.3,354.5 340.2,355.7 341.4,356.3 342.4,356.9M365.9,511.3 368.9,510.4M372.6,509.5 373.8,509.2M384.2,508.7 385.4,508.9M327.8,377.7 330.4,376.4 331.3,375.6 332.8,375 334.6,375.3 336.5,376.3 336.7,377.5 337.1,378 336.5,377.6 334.6,378 333.4,378 332.8,377.1 333.1,376.9 332.2,377.3 331,377.6 329.8,377.8 327.8,377.7M356.8,498.9 356.9,499.3 357.3,500 359.1,501.3 360.7,501.5 359.7,502 357.9,502.4 358.1,503 356.1,502.5 354.2,502.1 352.4,501.1 350.6,500 352.4,500.5 353.9,500.6 354.5,499.9 355.4,499.1 356.8,498.9M354.8,453.2 356.1,454.3 355.1,454.1 354.8,453.2M283.4,372.7 286.3,373.2 287.2,373.7 288.8,374.7 289.5,375.6 287.9,375.5 286.4,374.8 285.1,373.9 284,373.6 283.4,372.7M297.3,350.6 299.8,351.2 302.2,351.2 305.9,351.1 308.9,350.8 312,350.6 315.7,350.4 316.3,349.6 314.5,348.8 317.1,348.7 315.7,347.6 313.2,346.3 312,345.7 308.3,345.5 305.9,346 302.2,346 299.8,345.4 296.7,346 294.9,347.4 296.7,347.8 298.5,348.8 302.2,349 298.5,349.6 297,349.4 297.3,350.6M322,373.2 322.7,372.2 321.2,371 320.6,370.1 319.3,369.1 320,370.3 320.8,371.5 321.8,372.5 322,373.2M318.1,371.6 317.5,370.3 318.1,370.1 318.5,371.3 318.1,371.6" fill="none" stroke="#000" stroke-width="0.9" stroke-linejoin="round"/></g>
<rect x="-0.1" y="324.5" width="440.6" height="220" fill="none" stroke="#000" stroke-width="0.7"/>
<g clip-path="url(#cm2)"><path d="M39.5,673.7 38.9,673.5 37.9,673.4 36.5,673.9 35.4,674.2 33.2,673.6 30.8,673.4 29.3,672.8 28.1,672.2 26.5,671.8 24.4,672.8 24.4,674.3 23.4,675 21.4,674.2 19,673.5 18.4,672.4 16.1,671.8 14.6,671.8 13.4,671.1 12.3,670.6 13.4,669.2 12.9,668.3 12.9,667.5 13.4,666.8 11.9,666.4 9.5,666.8 6.1,667.1 3.6,667.1 1.2,667.4 -0.8,668.4 -2.5,669.1 -3.7,668.9 -6.5,668.1 -7.3,668.3 -7.6,669 -8.4,670.5 -9.4,670.9 -10.5,671.3 -11.3,672.5 -12,673.5 -12.2,674.6 -11.8,674.8 -12.5,676 -14.1,677.1 -15.8,677.9 -16.4,678.8 -17.8,680.1 -18.4,681.6 -19.5,683 -20.7,685.7 -20.9,686.5 -20.2,688.2 -19.9,688.7 -19.6,689.8 -20.2,692.3 -21,693.6 -21.5,693.9 -20.6,694.8 -20.4,695.5 -20.5,696.8 -19.1,697.3 -18.4,698.4 -17.9,699 -16.8,700.2 -16.2,701.5 -15.3,702.7 -14.1,703.4 -13.3,704.1 -11.1,705.7 -9.5,706.4 -7.4,706 -4.9,705.4 -3.7,705.7 -2.6,706.1 -0.3,705.1 1.4,704.4 2.9,704.1 4.1,704 5.3,704.1 6.1,704.7 6.7,705.5 7.4,706.6 8.5,706.4 10.4,706.3 11,706.9 11.8,706.9 11.9,708.2 11.5,709.4 11.7,710.6 11.5,711.3 10.7,712.7 11.3,714.2 12.2,715.2 13.4,716.6 14.4,717.7 14.9,718.7 15,719.3 15.6,720.4 16.1,722.6 16.8,725.3 16.3,727.2 15.2,728.9 14.8,730.4 14.3,733 14.4,733.8 15.2,735.1 16.3,737.3 17.6,739.1 17.7,740 17.7,741.8 18.6,744.4 20.1,746.8 21.1,749.2 22.3,751 21.9,752.2 22.5,753.3 22.6,753.9 24.4,754.4 27,753.7 28.6,753.6 31.3,753.4 34.1,752.2 36.9,749.8 37.9,748.4 39.8,746.7 40.2,744.9 39.8,743.6 41.1,742.7 43.3,741.8 43.4,741.1 43.4,738.8 42.9,737.5 42.7,736.1 44.4,734.8 45.1,733.7 46.5,732.9 48.8,731.6 49.8,730.2 49.9,729.6 49.5,727.7 49.6,724.9 49.1,724.4 48.3,722.8 48.3,721.6 48,720.1 47.4,719.4 47.8,718 48.5,716.8 49,715.7 50,714.6 50.7,713.9 52,712.3 54.4,710 55.4,709.4 56.6,708.4 58.1,706.9 59.3,705.4 59.9,704.5 60.9,702.1 62.1,700.2 62.9,699.2 62.7,697.5 60.2,698.1 57.5,698.3 55,699.2 53.2,698.1 52.7,697.7 52.9,696.6 52.2,696 50.4,694.5 49.1,693.6 48.3,692.8 47.9,692.3 47.1,689.9 45.7,688.9 45.5,688 45.5,686.3 44.7,684.8 43.6,683.8 43.4,682.6 42.7,681.4 41.9,680.2 41.3,678.7 40.6,677.5 39.8,675.9 39.7,675.3M480,673.7 479.4,673.5 478.4,673.4 477.1,673.9 476,674.2 473.8,673.6 471.3,673.4 469.9,672.8 468.6,672.2 467.1,671.8 465,672.8 465,674.3 464,675 461.9,674.2 459.6,673.5 459,672.4 456.7,671.8 455.2,671.8 454,671.1 452.9,670.6 454,669.2 453.5,668.3 453.5,667.5 454,666.8 452.5,666.4 450,666.8 446.6,667.1 444.2,667.1 441.7,667.4 439.8,668.4 438.1,669.1 436.8,668.9 434,668.1 433.3,668.3 432.9,669 432.2,670.5 431.2,670.9 430.1,671.3 429.2,672.5 428.5,673.5 428.4,674.6 428.8,674.8 428,676 426.4,677.1 424.7,677.9 424.1,678.8 422.8,680.1 422.1,681.6 421,683 419.8,685.7 419.7,686.5 420.3,688.2 420.7,688.7 420.9,689.8 420.3,692.3 419.6,693.6 419.1,693.9 419.9,694.8 420.2,695.5 420.1,696.8 421.4,697.3 422.1,698.4 422.6,699 423.7,700.2 424.3,701.5 425.2,702.7 426.4,703.4 427.3,704.1 429.5,705.7 431.1,706.4 433.2,706 435.6,705.4 436.8,705.7 437.9,706.1 440.3,705.1 442,704.4 443.4,704.1 444.7,704 445.9,704.1 446.6,704.7 447.2,705.5 448,706.6 449.1,706.4 450.9,706.3 451.5,706.9 452.4,706.9 452.5,708.2 452,709.4 452.2,710.6 452,711.3 451.3,712.7 451.9,714.2 452.7,715.2 454,716.6 454.9,717.7 455.4,718.7 455.6,719.3 456.2,720.4 456.7,722.6 457.4,725.3 456.9,727.2 455.8,728.9 455.3,730.4 454.8,733 454.9,733.8 455.8,735.1 456.9,737.3 458.1,739.1 458.2,740 458.2,741.8 459.1,744.4 460.7,746.8 461.7,749.2 462.9,751 462.4,752.2 463,753.3 463.1,753.9 465,754.4 467.5,753.7 469.1,753.6 471.8,753.4 474.6,752.2 477.5,749.8 478.4,748.4 480.4,746.7 480.8,744.9 480.4,743.6 481.6,742.7 483.8,741.8 483.9,741.1 483.9,738.8 483.5,737.5 483.2,736.1 484.9,734.8 485.7,733.7 487,732.9 489.3,731.6 490.3,730.2 490.4,729.6 490.1,727.7 490.2,724.9 489.7,724.4 488.8,722.8 488.8,721.6 488.6,720.1 488,719.4 488.3,718 489.1,716.8 489.6,715.7 490.6,714.6 491.3,713.9 492.5,712.3 495,710 495.9,709.4 497.2,708.4 498.6,706.9 499.9,705.4 500.5,704.5 501.4,702.1 502.7,700.2 503.4,699.2 503.3,697.5 500.7,698.1 498,698.3 495.6,699.2 493.7,698.1 493.2,697.7 493.5,696.6 492.8,696 490.9,694.5 489.7,693.6 488.8,692.8 488.5,692.3 487.6,689.9 486.3,688.9 486,688 486,686.3 485.3,684.8 484.2,683.8 483.9,682.6 483.2,681.4 482.5,680.2 481.9,678.7 481.1,677.5 480.4,675.9 480.3,675.3M71.3,657.1 71.8,655.9 73.1,655.1 74.6,655 75.6,655.9 75,657.1 74.6,658.1 73.4,658.8 72.2,658.7 71.3,657.9 71.3,657.1M174.3,724.9 175.6,727.1 175.9,729.3 177.8,730.8 178.4,732.5 178.9,734.5 179.6,735.4 181.1,736.3 182.5,737.8 184.1,739.4 184.5,740.6 185.3,741.2 186.6,742.2 187.4,742.8 187.4,745.5 187.9,746.8 187.2,748.9 187.1,750.3 185.7,752.1 185.1,753.3 184.5,754.7 183.8,755.9 183.5,757.7 181.1,758.2 179.8,759 179.1,759.7 178,759 177.4,758.3 176.8,758.7 175.6,759.5 173.2,758.8 171.9,758.3 170.9,757.1 170.7,755.9 169.4,755.4 169.4,754.6 168.9,753.7 168.6,754.8 167.5,755 168.2,753.4 168.6,751.7 167.6,753.1 166.4,754.2 166.3,754.6 165.4,754.2 164.9,752.8 164.2,752 163.6,751.1 161.5,751 160.5,750.4 157.8,750.5 155.4,751.2 153.5,751.7 151.7,752.5 149.1,753.3 146.8,753.4 144.2,754.8 142.5,754.7 140.8,753.9 140.7,753 141.4,752.6 141.6,751 141,749.8 140.7,748.5 140.2,747.1 139.6,745.6 138.8,743.9 138.7,741.8 139.2,740 139.7,738.5 140.2,739.1 141.3,738 142.8,737 145.1,736.7 146.8,736.2 148.6,735.1 149.5,733.8 149.5,732.9 150.3,732 151.2,733 151.2,731.8 152.3,731.8 152.9,730.5 153.9,729.3 155.1,728.7 156.3,729.6 156.8,730.2 158.2,730.1 158.7,728.9 159.4,728 160,727 160.5,726.6 162.1,726.6 162.2,725.8 161.5,725.5 162.7,726 165.2,726.6 166.4,726.7 167.5,726.9 167,728 166.4,728.3 166.3,729.6 165.6,730.2 167,731.2 168.2,731.6 170.1,732.5 170.8,733.2 172.3,733.2 173,731.4 173.2,729.6 173.2,727.7 173.6,726.5 173.8,725.3 174.3,724.9M127,649.2 128.4,648.9 130.3,647.8 132.1,646.7 133.7,645.2 134.3,643.9 133.3,644.6 131.9,646.3 129.7,647.5 127.8,648.6 127,649.2M89.9,656.4 91.1,655.5 93,655 95.4,655.3 97,655M35.4,661.7 37,661.7 38.4,661.6 40.3,660.7 43,660.7 44.4,661.6 46.3,661.9 48.5,661.9 50.6,661.5 51,660.6 50.1,659.5 48.5,658.8 47.8,658.2 46.2,657.4 44.9,656.8 45.7,656.7 46.3,655.9 46.8,655 48,654.4 45.8,654.5 45,654.9 43.1,655.4 42.5,655.6 43.1,656.6 44.6,656.6 43.3,657.1 41.8,657.7 40.9,657.6 40.9,656.8 39.7,656.7 41.1,655.9 39.7,655.7 38.5,655.1 37.5,655.3 36.3,656.8 35.1,658.1 34.1,659.3 33.6,660.1 34.2,660.8 35.4,661.7M134.1,709.4 135.2,709.7 136.2,708.8 138.2,707.9 139.5,706.3 140.7,705.7 141.9,704.5 142.9,703.3 144,704 144.5,704.7 145.8,705.4 144.4,706.7 144,707.5 144.4,709.1 145.6,710.6 144.4,710.8 143.7,711.8 142.9,713.4 142.5,714.5 142.1,715.8 140.3,716.8 140.1,716 138.2,715.7 136.8,716 134.9,715.4 134.6,713.6 133.6,711.9 133.3,710.6 134.1,709.4M58.7,655.9 60.5,655.3 62.4,654.6 63.6,654.9 64.8,654.8 65.1,655.5 64.8,656.7 62.7,657.1 62.4,657.7 61.4,657.8 62.6,658.8 64.1,659.8 64.4,661.3 64.8,661.7 66.6,661.2 66.9,661.9 65.8,662.2 64.8,663.2 64.6,664 65.9,664.5 65.9,666.4 66,666.9 63.6,667.3 62.4,667.2 61.1,666.3 60.5,666.2 59.8,665.1 59.8,664.6 60.4,663.9 61.6,662.7 60.5,662.4 59.9,661.3 59.1,660.6 58.1,659.5 58.1,658.5 57.1,657.7 57.5,656.8 58.4,656.4 58.7,655.9M17.1,695.6 17.8,695 18.3,695.7 17.6,696.2 17.1,695.6M25.6,616.7 28.7,616.8 29.3,617.6 26.9,617.8 25.6,616.7M39.5,673.7 41.3,674 42,673.5 42.5,672.8 42.8,671.9 43.4,670.6 43.8,670 43.8,668.6 44.2,667.3 43.1,667.3 42.3,667.1 41.4,667.7 40.1,668 39.1,667.4 37.5,666.9 36.8,667.7 35.6,667.3 34.6,667.1 33.5,666.8 33.4,665.7 32.1,665.2 32.9,664.3 31.9,663.8 32,663.2 32,662.4 31.6,662.2 29.8,662.1 29.3,662.8 29,663.2 28,662.4 27.6,662.7 27.7,663.4 28.1,664 27.9,664.6 28.8,665 29.3,666 29,665.7 28.1,665.7 28.3,666.2 27.9,666.2 28.3,667.5 27.5,667.5 27,666.8 26.5,667.1 26,665.8 26.5,665.3 25.8,665.2 25.3,664.5 24.8,663.8 24.4,663.3 23.7,662.7 23.7,661.6 23.3,660.6 22.1,660 20,658.9 18.6,658.2 18.2,657.1 17.6,656.7 16.8,657.2 16.8,656.4 15,656.6 15.2,657.2 15,657.8 16.5,658.8 17.3,660.1 18.6,660.8 19.8,660.8 19.4,661.3 20.6,661.8 22,662.4 22.6,663 22.5,663.4 22,663.2 21,662.6 20.3,663.4 21,664.3 20.3,665 19.5,665.7 19,665.5 19.5,663.9 19.2,663.2 18.1,662.3 17.3,662.2 16.6,661.7 15.4,661.5 14.4,660.6 13.5,660.2 12.8,659.6 12.6,658.9 11.9,658.2 10.8,657.8 9.7,658.4 8.9,658.7 7.2,659.4 6.6,659.1 5.8,659.1 4.7,658.9 3.7,659.4 3.6,659.9 4,660.4 2.6,661.5 1.4,661.8 1.1,662.3 -0.1,663.2 -0.4,663.8 0.2,664.7 -0.7,665.2 -1.3,666.1 -2.7,667.2 -4.3,667.2 -5.4,667.2 -6.6,667.9 -6.9,668 -7.8,667.4 -8.5,666.6 -9.7,666.8 -11.1,666.8 -10.9,665.6 -11.7,664.6 -11.6,663.9 -10.9,663 -10.7,661.8 -10.8,660.5 -11.4,659.6 -10.3,659 -9.5,658.5 -7,658.8 -4.7,658.9 -2.5,659.1 -2,658.9 -1.5,657.4 -1.4,656.4 -1.5,655.6 -2.3,655.3 -2.7,654.3 -3.8,654 -5.4,653.7 -5.9,652.9 -4.9,652.6 -3.7,652.5 -2.5,652.7 -1.9,652.7 -2,652.5 -2.4,651.4 -1.6,651.4 -1.4,651.7 -0.4,651.9 0.1,651.6 1.3,651.1 1.9,650.1 2.3,649.8 3.5,649.5 4.4,649.3 5,648.6 5.7,647.5 6.6,647.1 7.5,646.9 8.5,646.9 9.7,646.5 10.6,646.3 10.8,646 10.5,645.6 10.2,645 10.2,644.3 9.9,643.7 9.9,643 10.5,642.4 12.1,641.8 12.9,641.6 12.8,642 12.6,643 13.3,643.2 12.4,643.6 11.9,644.3 11.6,644.9 11.9,645.2 12.4,645.6 13.4,645.6 13.3,646.1 14.8,645.9 16.5,645.4 17.4,646.3 19,645.9 20.1,645.5 21.4,645.2 23,645.4 22.8,645.6 24.4,645.3 25.8,644.1 25.6,643.1 26.3,642 27.6,641.6 28.3,642.4 29.3,642.5 29.8,642.1 29.9,640.8 28.7,640.5 28.6,639.8 30.2,639.5 31.8,639.3 34.2,639.4 36.9,639 35.4,638.6 35.1,638 33,638.2 30.5,638.7 28.1,639.1 27.1,638.4 26,637.9 26.3,636.9 26,636 26.3,635.1 27.5,634.2 29.3,633.4 31,632.8 29.9,631.9 29.4,631.8 27.1,632 26.3,632.4 25.9,633.1 24.8,634.2 23.2,634.9 21.9,635.7 21.1,635.9 20.9,636.8 21,638 22.6,638.6 22.8,639.1 22.1,639.7 21.5,640.3 20.5,640.5 20.3,641.6 20,642.9 19.5,643.5 19,643.5 17.9,643.6 17.6,644.3 16.8,644.4 15.9,644.2 15.5,643.7 15.2,643.3 15.7,642.9 14.9,642.4 14.5,641.6 13.7,640.8 13.7,640.2 13.3,639.8 13,639 12.8,639.6 12.4,640.1 11.5,640.2 10.7,640.7 9.7,641.2 8.5,641.3 7.3,640.8 6.8,640.1 6.3,639.6 6.3,638.4 5.9,637.6 6.1,636.9 6.2,636.2 7.4,635.8 8.6,635.6 9.4,635.1 10.4,634.7 11.6,634.3 12.2,633.9 13.2,633.4 13.7,632.9 14.9,632.2 15.4,631.5 15.9,630.9 17.6,630 18.3,629.1 19.5,628.6 20.8,627.9 23.2,627 25,626.6 29,625.8 31.5,625.3 33.6,625.5 34.8,625.7 38,626.2 36.7,626.7 36.7,627 39.1,626.8 40.8,627.7 42.8,627.7 45.2,628.3 47.7,629 50.1,630.1 50.5,630.7 49.5,631.2 47.1,631.4 44,631.2 42.2,630.8 39.7,630.2 40.9,631.2 42.5,632.8 42.5,633.4 45.2,634.1 46.6,634.1 45.8,633.5 45,632.8 46.5,632.9 48.7,633.2 49.5,633.2 48.9,632.2 51.3,631.1 53.8,631.5 54.2,630.9 53.6,630.1 52.9,628.4 55,628.5 56.9,629.4 56.2,630.3 58.3,630.4 59.3,629.5 62.4,628.6 64.8,628.1 66,628.7 67.3,628.5 70.3,628.3 72.8,628.3 74.4,627.9 74,626.9 78.9,627.7 81.9,628.5 83.8,628.9 84.4,628 83.2,626.7 81.9,625.5 83.8,624.2 85,623 85.6,622.4 88.7,623.3 89,624.9 88.7,626.1 89.9,627.9 89.3,629.1 88.7,630.9 89.9,630.6 90.5,629.1 91.1,627.9 90.3,626.1 90.9,624.2 91.7,623.3 93.6,624.2 95.4,623.8 95.4,625.5 96.6,625.2 97.9,624.2 100.9,624.9 101.8,626.1 100.3,624.5 98.5,622.4 104,621.8 106.4,620.6 110.1,619.9 116.2,619.3 121.1,618.9 123.5,618.2 127.6,617.3 129.7,617.8 132.1,618.5 135.8,618.5 138.8,619.4 138.2,620.6 134.6,621.8 130.9,622.8 129.7,623 134.6,622.1 137.6,622.1 138.8,622.5 141.9,622.3 145,622.4 146.8,623 151.1,622.2 155.4,622.4 158.4,623.6 157.8,624.7 160.3,625.7 162.7,624.9 165.8,624.7 168.2,625.1 170.7,624.9 171.3,623.8 172.5,623.3 178.6,623.8 182.3,624 184.1,624.9 186,625.6 190.9,625.5 194.5,625.7 195.8,627 197.6,627.3 200.6,627 204.3,627.2 205.9,626.7 208.6,626.6 208,627.9 209.2,627.9 211.7,626.9 215.3,626.9 218.4,627.4 220.2,628 221.4,628.1 223.9,628.7 226.3,629.7 228.8,630.3 230.6,630.6 232.8,631.4 231.9,632 230,632.5 229.4,633.4 228.4,633.5 225.7,633 224.5,632.2 222.1,632.2 221.4,631.3 220.2,631.8 219,633 217.2,633.1 217.2,634 219,634.9 219.4,635.8 216.6,635.8 213.5,636.7 210.4,637.6 208.4,638.8 204.3,638.5 201.9,639 200,639 199.8,640.2 198.8,641.3 199.4,641.9 199.7,643.5 198,644.7 198.2,645.2 196.4,645.5 195.8,647.1 194.2,647.4 193.7,648.6 191.7,649.8 191.5,648.6 190.9,646.7 190.5,644.9 190.6,643.1 191.8,641.9 193.3,641.3 195.1,640.1 197,638.8 198.8,638 200.4,637.4 200.6,635.9 199.4,635.8 198.2,637 196.1,638 195.8,636.8 192.1,636.8 191.5,637.4 189.6,638.8 189,639.4 187.2,640.1 184.7,640.1 184.5,639.4 182.3,639.3 178.6,639.7 174.9,639.7 171.9,641 170.1,642.1 168.2,643.7 165.8,645.2 167.6,645.8 168.2,646.5 170.7,646 172.5,647 173.1,648.6 172.3,649.2 171.9,651 171.6,652.8 170.1,654 169.2,655.3 167.4,657.1 165.8,658.3 163.9,659.5 162.7,659.9 161.5,659.4 160.3,660 159.9,660.4 158.8,661 158.7,662.2 157.2,663.2 156.1,663.4 155.9,664.1 157.1,665 157.8,666 158.4,668 157.9,669.1 156.6,669.4 155.4,669.7 154.6,669.6 154.8,668.6 154.9,668 154.5,667.1 154.9,666.2 153.5,665.8 152.8,665.3 153.2,664.7 153.2,663.8 152.1,663.3 150.5,663.6 148.8,664.5 148.3,663.8 149.2,662.6 148.3,662.1 146.3,663.3 144.1,664.4 144.4,665.2 145.6,666 145.8,666.6 146.8,666.3 147.8,665.8 148.5,666.2 149.9,666.3 149.7,666.9 147.3,667.9 146.2,668.8 145.9,669.6 147.2,670.2 147.9,671.7 149,673.3 149.1,674.1 147.8,675 149.2,675.4 148.9,676.5 148,677.8 147.2,679 146.4,680.2 145.6,681.2 144.5,682 142.9,683.3 140.7,684.2 139.7,684.7 138.8,684.8 137,685.4 135.2,686 134.8,687.1 134.3,687 134.3,685.8 133.5,685.7 132.4,685.5 130.6,686.5 130,687.5 129.4,688.7 129.4,689.1 130.3,690.3 131.6,691.7 132.4,692.2 133.3,694.2 133.6,695 133.8,696.2 133.6,697.3 132.2,698.5 131,699.2 130.5,699.9 128.8,701.1 128.2,701.3 128.3,700 127.8,699.2 126.6,698.9 126,698.1 125.4,697.2 123.9,696.4 123.4,695.4 122.9,695.4 122.3,695.6 122.3,696.5 122.1,697.5 121.3,699 121.6,700.6 122.3,701.6 123.1,703 123.9,703.4 125.1,704.3 126.1,705.4 126.5,707.2 126.6,708.6 127.6,710.1 127,710.2 126.5,710 125,709.1 124,708.2 123.2,706.9 122.8,705.2 122.4,704 121.7,702.9 121,702.1 120.2,702.2 120.2,700.9 120.6,699.6 120.5,698.4 120.6,696.7 120,694.8 119.5,693.6 119.4,691.7 118.7,691.2 117.7,691.7 116.7,692.6 115.3,692.5 115.6,690.5 115.3,689.3 114.6,688.3 113.6,687.4 112.5,685.8 112.3,684.7 111.3,684.4 110.7,685 109.5,685.3 108.3,685.4 106.7,685.7 106.2,686.6 106,687.1 104.9,687.7 103.8,688.3 101.9,690.3 100.7,691.1 100.7,691.6 99.3,692.1 99,692.6 98,693 98,694.3 98.2,695.9 97.7,697.3 97.6,698.4 97.7,699.3 97,699.3 96.5,700.4 95.6,701.1 94.8,702 94.1,701.5 93.2,699.6 92.7,698.1 91.5,696.1 90.6,693.8 90.3,693 89.7,691.1 89,688.7 88.9,687.5 88.9,686 88.7,684.8 88.3,685.3 87.4,686.4 86.1,686.4 85.1,685.5 84.4,684.8 86,684 84.9,684.1 83.8,683.5 82.6,682.7 81.9,681.6 81.3,680.9 79,681.2 77.7,681 76.2,681.3 74.1,681 72.2,680.9 70.7,680.7 69.7,679.6 69.5,678.8 68.8,678.7 67.9,679.3 67.1,679.5 65.4,679.3 64.3,678.4 62.1,676.7 61.5,675.6 60.5,675.2 59.9,674.8 59.4,675.4 58.7,676 59.2,677.1 59.7,678 60.8,679 61.4,679.6 61.4,680.5 62.1,681.6 62.1,680.8 62.6,680.1 63.1,680.4 63.1,681.5 62.9,682 64.2,682.4 66.5,682 67.6,681 68.5,680.4 68.8,679.8 69,680.8 69.3,682.1 71.7,683.1 73.1,684.4 72.5,685.8 71.8,686.9 70.7,687.5 70.6,687.8 70.7,688.8 69.1,689.9 67.6,690.4 66.2,691.1 64.8,691.6 63.8,692.3 62.4,693.3 60,694.2 58.1,695.1 56.2,695.5 55,696.2 53.2,696.4 52.8,695.6 52.4,693.8 52.2,692.3 52,691.2 50.7,689.9 50.1,688.5 48.9,687.1 47.9,685.7 47.7,684.4 46.5,682.5 45.5,681.4 44.5,679.9 43.4,678.4 42.8,677.6 42.8,675.9 42.2,677.4 41.9,678 41.1,677.4 40.6,677 40,675.7 39.8,675.4M480,673.7 481.9,674 482.6,673.5 483.1,672.8 483.3,671.9 483.9,670.6 484.3,670 484.3,668.6 484.8,667.3 483.7,667.3 482.8,667.1 482,667.7 480.6,668 479.7,667.4 478.1,666.9 477.3,667.7 476.1,667.3 475.1,667.1 474,666.8 473.9,665.7 472.7,665.2 473.4,664.3 472.4,663.8 472.6,663.2 472.6,662.4 472.2,662.2 470.4,662.1 469.9,662.8 469.5,663.2 468.5,662.4 468.2,662.7 468.3,663.4 468.6,664 468.4,664.6 469.4,665 469.9,666 469.5,665.7 468.6,665.7 468.9,666.2 468.4,666.2 468.9,667.5 468,667.5 467.5,666.8 467.1,667.1 466.6,665.8 467.1,665.3 466.3,665.2 465.8,664.5 465.3,663.8 465,663.3 464.2,662.7 464.2,661.6 463.9,660.6 462.6,660 460.6,658.9 459.1,658.2 458.7,657.1 458.1,656.7 457.4,657.2 457.4,656.4 455.6,656.6 455.8,657.2 455.6,657.8 457,658.8 457.9,660.1 459.1,660.8 460.3,660.8 460,661.3 461.2,661.8 462.5,662.4 463.1,663 463,663.4 462.5,663.2 461.5,662.6 460.8,663.4 461.5,664.3 460.8,665 460.1,665.7 459.6,665.5 460.1,663.9 459.7,663.2 458.6,662.3 457.9,662.2 457.1,661.7 455.9,661.5 454.9,660.6 454.1,660.2 453.3,659.6 453.1,658.9 452.5,658.2 451.4,657.8 450.3,658.4 449.4,658.7 447.7,659.4 447.1,659.1 446.4,659.1 445.3,658.9 444.3,659.4 444.2,659.9 444.5,660.4 443.2,661.5 442,661.8 441.6,662.3 440.5,663.2 440.1,663.8 440.7,664.7 439.9,665.2 439.3,666.1 437.8,667.2 436.2,667.2 435.1,667.2 434,667.9 433.6,668 432.8,667.4 432.1,666.6 430.8,666.8 429.5,666.8 429.6,665.6 428.9,664.6 429,663.9 429.6,663 429.9,661.8 429.7,660.5 429.1,659.6 430.2,659 431.1,658.5 433.5,658.8 435.8,658.9 438.1,659.1 438.5,658.9 439,657.4 439.2,656.4 439,655.6 438.3,655.3 437.8,654.3 436.7,654 435.1,653.7 434.6,652.9 435.6,652.6 436.8,652.5 438.1,652.7 438.7,652.7 438.5,652.5 438.2,651.4 438.9,651.4 439.2,651.7 440.1,651.9 440.6,651.6 441.8,651.1 442.5,650.1 442.8,649.8 444,649.5 444.9,649.3 445.5,648.6 446.3,647.5 447.1,647.1 448.1,646.9 449.1,646.9 450.3,646.5 451.1,646.3 451.4,646 451,645.6 450.8,645 450.8,644.3 450.4,643.7 450.4,643 451,642.4 452.6,641.8 453.5,641.6 453.3,642 453.1,643 453.8,643.2 453,643.6 452.5,644.3 452.1,644.9 452.5,645.2 453,645.6 454,645.6 453.8,646.1 455.3,645.9 457,645.4 458,646.3 459.6,645.9 460.7,645.5 461.9,645.2 463.5,645.4 463.4,645.6 465,645.3 466.3,644.1 466.2,643.1 466.8,642 468.2,641.6 468.9,642.4 469.9,642.5 470.4,642.1 470.5,640.8 469.3,640.5 469.1,639.8 470.7,639.5 472.3,639.3 474.8,639.4 477.5,639 476,638.6 475.6,638 473.5,638.2 471.1,638.7 468.6,639.1 467.7,638.4 466.6,637.9 466.8,636.9 466.6,636 466.8,635.1 468,634.2 469.9,633.4 471.6,632.8 470.5,631.9 470,631.8 467.7,632 466.8,632.4 466.4,633.1 465.3,634.2 463.8,634.9 462.4,635.7 461.7,635.9 461.4,636.8 461.5,638 463.1,638.6 463.4,639.1 462.6,639.7 462,640.3 461.1,640.5 460.8,641.6 460.6,642.9 460.1,643.5 459.6,643.5 458.5,643.6 458.1,644.3 457.4,644.4 456.4,644.2 456,643.7 455.8,643.3 456.2,642.9 455.4,642.4 455.1,641.6 454.2,640.8 454.2,640.2 453.8,639.8 453.6,639 453.3,639.6 453,640.1 452,640.2 451.3,640.7 450.3,641.2 449.1,641.3 447.8,640.8 447.4,640.1 446.9,639.6 446.9,638.4 446.5,637.6 446.6,636.9 446.7,636.2 448,635.8 449.2,635.6 449.9,635.1 450.9,634.7 452.1,634.3 452.7,633.9 453.7,633.4 454.2,632.9 455.4,632.2 455.9,631.5 456.4,630.9 458.1,630 458.9,629.1 460.1,628.6 461.3,627.9 463.8,627 465.6,626.6 469.5,625.8 472.1,625.3 474.2,625.5 475.4,625.7 478.6,626.2 477.2,626.7 477.2,627 479.7,626.8 481.4,627.7 483.3,627.7 485.8,628.3 488.2,629 490.7,630.1 491,630.7 490.1,631.2 487.6,631.4 484.6,631.2 482.7,630.8 480.3,630.2 481.5,631.2 483.1,632.8 483.1,633.4 485.8,634.1 487.1,634.1 486.4,633.5 485.5,632.8 487,632.9 489.2,633.2 490.1,633.2 489.5,632.2 491.9,631.1 494.3,631.5 494.7,630.9 494.1,630.1 493.5,628.4 495.6,628.5 497.4,629.4 496.8,630.3 498.9,630.4 499.9,629.5 502.9,628.6 505.4,628.1 506.6,628.7 507.8,628.5 510.9,628.3 513.3,628.3 514.9,627.9 514.5,626.9 519.4,627.7 522.5,628.5 524.3,628.9 524.9,628 523.7,626.7 522.5,625.5 524.3,624.2 525.6,623 526.2,622.4 529.2,623.3 529.6,624.9 529.2,626.1 530.4,627.9 529.8,629.1 529.2,630.9 530.4,630.6 531.1,629.1 531.7,627.9 530.8,626.1 531.4,624.2 532.3,623.3 534.1,624.2 536,623.8 536,625.5 537.2,625.2 538.4,624.2 541.5,624.9 542.3,626.1 540.8,624.5 539,622.4 544.5,621.8 547,620.6 550.6,619.9 556.8,619.3 561.7,618.9 564.1,618.2 568.1,617.3 570.2,617.8 572.7,618.5 576.3,618.5 579.4,619.4 578.8,620.6 575.1,621.8 571.4,622.8 570.2,623 575.1,622.1 578.2,622.1 579.4,622.5 582.5,622.3 585.5,622.4 587.4,623 591.6,622.2 595.9,622.4 599,623.6 598.4,624.7 600.8,625.7 603.3,624.9 606.3,624.7 608.8,625.1 611.2,624.9 611.8,623.8 613,623.3 619.2,623.8 622.8,624 624.7,624.9 626.5,625.6 631.4,625.5 635.1,625.7 636.3,627 638.1,627.3 641.2,627 644.9,627.2 646.5,626.7 649.1,626.6 648.5,627.9 649.8,627.9 652.2,626.9 655.9,626.9 658.9,627.4 660.8,628 662,628.1 664.4,628.7 666.9,629.7 669.3,630.3 671.2,630.6 673.4,631.4 672.4,632 670.6,632.5 670,633.4 669,633.5 666.3,633 665.1,632.2 662.6,632.2 662,631.3 660.8,631.8 659.6,633 657.7,633.1 657.7,634 659.6,634.9 659.9,635.8 657.1,635.8 654,636.7 651,637.6 648.9,638.8 644.9,638.5 642.4,639 640.6,639 640.3,640.2 639.4,641.3 640,641.9 640.2,643.5 638.5,644.7 638.7,645.2 636.9,645.5 636.3,647.1 634.7,647.4 634.2,648.6 632.3,649.8 632,648.6 631.4,646.7 631,644.9 631.2,643.1 632.4,641.9 633.9,641.3 635.7,640.1 637.5,638.8 639.4,638 641,637.4 641.2,635.9 640,635.8 638.7,637 636.7,638 636.3,636.8 632.6,636.8 632,637.4 630.2,638.8 629.6,639.4 627.7,640.1 625.3,640.1 625,639.4 622.8,639.3 619.2,639.7 615.5,639.7 612.4,641 610.6,642.1 608.8,643.7 606.3,645.2 608.2,645.8 608.8,646.5 611.2,646 613,647 613.7,648.6 612.8,649.2 612.4,651 612.2,652.8 610.6,654 609.7,655.3 607.9,657.1 606.3,658.3 604.5,659.5 603.3,659.9 602,659.4 600.8,660 600.4,660.4 599.3,661 599.2,662.2 597.8,663.2 596.7,663.4 596.4,664.1 597.6,665 598.4,666 599,668 598.5,669.1 597.1,669.4 595.9,669.7 595.2,669.6 595.3,668.6 595.4,668 595.1,667.1 595.4,666.2 594.1,665.8 593.3,665.3 593.7,664.7 593.7,663.8 592.6,663.3 591,663.6 589.3,664.5 588.8,663.8 589.8,662.6 588.8,662.1 586.9,663.3 584.7,664.4 584.9,665.2 586.1,666 586.4,666.6 587.4,666.3 588.3,665.8 589.1,666.2 590.4,666.3 590.3,666.9 587.8,667.9 586.7,668.8 586.5,669.6 587.7,670.2 588.5,671.7 589.6,673.3 589.7,674.1 588.3,675 589.8,675.4 589.4,676.5 588.6,677.8 587.7,679 587,680.2 586.1,681.2 585,682 583.4,683.3 581.2,684.2 580.3,684.7 579.4,684.8 577.6,685.4 575.7,686 575.4,687.1 574.9,687 574.9,685.8 574,685.7 572.9,685.5 571.2,686.5 570.6,687.5 570,688.7 570,689.1 570.8,690.3 572.2,691.7 572.9,692.2 573.9,694.2 574.1,695 574.4,696.2 574.1,697.3 572.8,698.5 571.6,699.2 571.1,699.9 569.4,701.1 568.7,701.3 568.9,700 568.4,699.2 567.2,698.9 566.5,698.1 565.9,697.2 564.5,696.4 564,695.4 563.5,695.4 562.9,695.6 562.8,696.5 562.6,697.5 561.9,699 562.1,700.6 562.9,701.6 563.6,703 564.5,703.4 565.7,704.3 566.7,705.4 567,707.2 567.2,708.6 568.1,710.1 567.5,710.2 567,710 565.6,709.1 564.6,708.2 563.7,706.9 563.4,705.2 563,704 562.3,702.9 561.5,702.1 560.8,702.2 560.8,700.9 561.2,699.6 561,698.4 561.2,696.7 560.5,694.8 560.1,693.6 559.9,691.7 559.2,691.2 558.2,691.7 557.2,692.6 555.9,692.5 556.1,690.5 555.9,689.3 555.2,688.3 554.2,687.4 553.1,685.8 552.8,684.7 551.9,684.4 551.2,685 550,685.3 548.8,685.4 547.2,685.7 546.7,686.6 546.6,687.1 545.5,687.7 544.4,688.3 542.4,690.3 541.2,691.1 541.2,691.6 539.9,692.1 539.5,692.6 538.5,693 538.5,694.3 538.8,695.9 538.3,697.3 538.2,698.4 538.3,699.3 537.5,699.3 537.1,700.4 536.2,701.1 535.3,702 534.6,701.5 533.7,699.6 533.3,698.1 532,696.1 531.2,693.8 530.8,693 530.2,691.1 529.6,688.7 529.5,687.5 529.5,686 529.2,684.8 528.9,685.3 528,686.4 526.7,686.4 525.7,685.5 524.9,684.8 526.5,684 525.4,684.1 524.3,683.5 523.1,682.7 522.5,681.6 521.9,680.9 519.6,681.2 518.2,681 516.7,681.3 514.7,681 512.7,680.9 511.2,680.7 510.3,679.6 510,678.8 509.4,678.7 508.4,679.3 507.7,679.5 506,679.3 504.9,678.4 502.7,676.7 502.1,675.6 501.1,675.2 500.5,674.8 500,675.4 499.2,676 499.7,677.1 500.2,678 501.3,679 501.9,679.6 501.9,680.5 502.7,681.6 502.7,680.8 503.2,680.1 503.6,680.4 503.6,681.5 503.4,682 504.7,682.4 507.1,682 508.2,681 509,680.4 509.4,679.8 509.5,680.8 509.9,682.1 512.2,683.1 513.7,684.4 513.1,685.8 512.3,686.9 511.2,687.5 511.1,687.8 511.2,688.8 509.6,689.9 508.2,690.4 506.7,691.1 505.4,691.6 504.4,692.3 502.9,693.3 500.6,694.2 498.6,695.1 496.8,695.5 495.6,696.2 493.7,696.4 493.4,695.6 493,693.8 492.8,692.3 492.5,691.2 491.3,689.9 490.7,688.5 489.5,687.1 488.5,685.7 488.2,684.4 487,682.5 486,681.4 485,679.9 483.9,678.4 483.3,677.6 483.3,675.9 482.7,677.4 482.5,678 481.6,677.4 481.1,677 480.5,675.7 480.3,675.4M216.9,733.4 218.5,733.2 218.4,734.1 217,734 216.9,733.4M218.6,732.4 220.2,731.6 219.6,732.4 218.6,732.4M57.5,613.9 61.7,613.5 59.9,614.2 57.5,613.9M64.8,614.2 69.7,613.8 72.2,614.2 68.5,614.4 64.8,614.2M70.3,613.3 75.8,613.5 79.5,613.4 75.8,612.9 70.3,613.3M-7,650.9 -6.4,651 -5.1,650.6 -4.2,650.3 -3,650.4 -1.6,650.1 -0.2,650 1.2,649.9 1.7,649.5 0.8,649.2 1.5,648.7 2.1,648 1.5,647.5 0.3,647.5 0.4,647.2 0.1,646.6 -0.2,646 -0.8,645.5 -1.5,645.4 -1.8,644.9 -2.5,643.9 -4,643.7 -3.2,643.3 -2.6,642.4 -2.3,641.9 -2.5,641.6 -4.3,641.6 -5.2,641.9 -4.7,641.4 -3.8,640.8 -3.7,640.5 -6.2,640.5 -6.5,641 -7.1,641.8 -7,642.1 -7.6,642.9 -6.8,643.2 -6.9,643.7 -7.1,644.6 -6.2,643.8 -5.9,643.8 -5.7,644.3 -6.2,644.9 -6,645.4 -4.3,645 -4.5,645.5 -4,646 -3.6,646 -3.7,646.9 -4.7,647 -5.7,647 -5.3,647.2 -5.9,647.6 -5.1,647.5 -5.1,648.1 -5.8,648.4 -6.5,648.7 -6.3,648.9 -4.9,649.1 -4,649.2 -3.4,649.1 -3.7,649.4 -5.1,649.5 -5.6,649.8 -6.2,650.4 -6.8,650.8 -7,650.9M433.5,650.9 434.1,651 435.5,650.6 436.3,650.3 437.6,650.4 438.9,650.1 440.4,650 441.7,649.9 442.2,649.5 441.4,649.2 442.1,648.7 442.6,648 442.1,647.5 440.9,647.5 440.9,647.2 440.6,646.6 440.4,646 439.8,645.5 439,645.4 438.8,644.9 438.1,643.9 436.6,643.7 437.3,643.3 437.9,642.4 438.3,641.9 438.1,641.6 436.2,641.6 435.4,641.9 435.8,641.4 436.7,640.8 436.8,640.5 434.4,640.5 434,641 433.4,641.8 433.5,642.1 432.9,642.9 433.8,643.2 433.6,643.7 433.4,644.6 434.4,643.8 434.6,643.8 434.9,644.3 434.4,644.9 434.5,645.4 436.2,645 436.1,645.5 436.6,646 437,646 436.8,646.9 435.8,647 434.9,647 435.2,647.2 434.6,647.6 435.5,647.5 435.5,648.1 434.7,648.4 434,648.7 434.3,648.9 435.6,649.1 436.6,649.2 437.2,649.1 436.8,649.4 435.5,649.5 435,649.8 434.4,650.4 433.8,650.8 433.5,650.9M135.4,687.4 135.8,688 135.2,688.9 134.1,689.7 133,689.3 132.8,688.5 133.7,687.6 134.6,687.4 135.4,687.4M156,709.1 156.6,710 157.4,710 156.6,710.8 157.2,711.4 156.5,711.8 156.6,712.8 156.1,711.2 156,709.1M244.5,685 245.6,684.8 245.4,685.2 244.5,685M246.8,685.5 247.5,685.9M248,686 248.6,686.1M248.7,686.4 249.6,686.6M249.6,687.2 250.6,687.5 251.1,688.1 250.1,688.7 249.6,688 249.6,687.2M173.6,656.5 174.9,657.7 177.8,657.9 178.4,659 176.7,659.5 175.2,660.7 173.2,660 171.6,660.1 172.5,660.7 172.7,661 172.1,661 171.4,661.5 171,660.5 171.6,659.3 172.5,659.3 172.9,659 173.4,657.9 173.6,656.5M172.4,661.3 173,661.5 173.1,662.6 173.7,663.6 173.1,665.2 172.5,665.3 172.5,666.8 172.4,668.4 171.6,669.2 171,669.2 171,668.5 170.9,669 170.3,668.9 169.9,669.7 169.4,669.2 169.1,669.7 167.6,669.7 167.4,669.2 167.5,670.1 166.7,670.6 166.1,671.2 165.3,670.2 165.5,669.7 165.2,669.7 163.9,669.8 162,670.1 160.3,670.5 160.1,670 160.8,670 161.6,669.4 162.3,668.8 164.2,668.6 166,668.6 166.4,668.4 166.5,667.8 167.2,667.2 167.2,666.4 168,666.2 167.6,666.8 167.8,667.1 169.1,666.6 170.1,665.7 170.7,665 171,664.5 170.9,663.3 171.3,662.9 171.6,661.7 172.1,662.1 172.7,661.7 172.4,661.3M412.7,634.2 413.6,633.9 413.3,633.4 411.1,632.9 413,632.8 413.6,632.2 410.5,632.2 412.1,631.1 413.1,631 414.4,632.2 415.7,631.9 415.8,631.4 417.9,631.3 418.2,631.9 419.1,631.4 420.7,630.9 422.5,631.1 422.8,631.9 423.9,632.5 423.4,633.2 421.9,633.7 420.3,634.2 418.5,634.6 417.2,634.7 415.7,634.6 414.6,634.2 412.7,634.2M431.4,644.4 433,644.7 433.5,645.4 432.8,646.1 433,647 433.2,647.5 432.7,648.3 431.9,648.4 430.3,648.8 428.5,649.2 427.8,648.4 428.6,647.8 429.5,647.1 428,646.9 428.1,646.1 428.3,645.8 430,645.8 430.5,645.4 429.9,645.3 430.3,644.7 431.4,644.4M128.7,720.1 129.7,719 130.6,719.3 132.8,720 135.1,720.3 135.8,719.6 137.9,720.6 139.9,721.2 140.1,722.5 138.2,722 135.8,721.8 134,721.2 132.1,721.4 130.3,720.9 128.7,720.1M59.3,627.9 60.5,627.3 61.5,627.9 60.3,628.3 59.3,627.9M178.1,658.4 179.4,657.7 181.8,656.6M160.3,670.6 161.1,670.9 161.1,671.4 161.1,672.2 160.9,673 160.6,673.6 159.9,674.1 159.8,673.4 159.4,673.7 159.3,672.9 159,672.4 158.8,672 158.7,671.4 158.4,671.2 159,671.1 159.5,670.9 160.3,670.6M37.8,638.8 38.5,637.9 37.3,637.3 39.7,637.3 40.3,638.1 39.1,638.7 37.8,638.8M140.1,721.8 141.5,722.1 140.9,722.6 140.1,721.8M141.9,722.1 142.8,722.1 142.5,722.7 141.9,722.1M142.9,722.2 144.4,721.8 145.8,722.2 145,722.7 143.1,722.8 142.9,722.2M146.7,722.2 148.6,722.1 150.5,722 150.2,722.5 148,722.7 146.7,722.2M151.1,724.4 152.3,723.1 153.5,722.3 155.7,722.1 154.8,722.8 152.9,723.8 151.1,724.4M145.6,723.4 146.8,723.3 147.8,724 146.8,724.3 145.6,723.4M147.5,689.3 149.1,689.5 149.6,690.8 149.5,692.1 148.8,692.6 148.8,693.8 149.5,694.8 150.5,694.8 151.6,695 151.8,696.5 150.8,696 149.9,695.3 149,694.9 148,695.3 147.5,694.5 147.9,694 147.4,694.2 146.9,693.6 146.7,692.1 147.2,692.2 147.3,690.5 147.5,689.3M60.3,726.5 61.1,728.3 61.7,730.5 60.9,730.8 60.6,732 60.4,734 59.7,736.3 59.1,738.1 58.2,740.6 57.5,742.4 55.3,743.2 53.8,742.4 53.4,740.5 52.9,738.8 53.3,737.9 54.2,736.7 54.3,735.1 53.8,733.2 54.4,731.6 55.6,731.3 56.6,731 57.7,730.1 58.6,728.9 59.1,728.2 59.7,727.1 60.3,726.5M41.6,723.6 42.3,725.3 41.9,727.1 42.7,729.2 43,729.4 42.4,727.1 42.7,725.3 41.9,723.6 41.6,723.6M32,663.2 32.6,662.7 33.6,662.7 35.4,662.6 36.1,662.3 35.4,661.9 34.2,661.9 33.4,662.2 32.6,662.4 32,662.4M153.4,699.9 154.5,701 154.8,702.9 154.4,704.1 153.7,703.9 153.7,703.3 153.4,705 151.9,704.3 151.7,702.9 151,702.7 149.4,703.4 149.5,702.3 150.5,701.5 151.5,701.8 152.6,701.3 153.4,699.9M147.3,695.4 148.5,695.5 148.6,696.7 147.9,696.8 147.3,695.4M154.1,715.7 155.4,715.6 155.6,716.3 154.4,716.5 154.1,715.7M156.6,715.4 158.4,715.2 160,716 158.4,716 156.6,715.8 156.6,715.4M181.4,718.8 182.9,718.5 184.5,718.5 186,717.1 186.3,717.7 185.3,718.7 184.1,719.4 182.3,719.4 181.4,718.8M200.6,736.4 202.5,737.5 204.3,739.1 203.1,738.8 201.3,737.4 200.6,736.4M160.3,712.8 162.1,712.3 163.9,712.8 164.3,714.2 165.2,715.8 167,714.5 168.6,713.6 170.1,714.2 172.1,715 173.1,715.1 175.7,716.1 176.8,716.6 178.4,718.2 179.8,719.1 180.8,720 179.8,720.1 180.1,721 181.3,722 182.3,722.9 183.5,724.2 184.5,724.4 183.5,724.8 181.1,724.3 180.1,723.4 178.6,722.2 177.1,721.2 176.2,721.2 175.3,722.2 174.9,723.1 173.7,723.1 172.5,722.9 171.3,721.8 169.8,722 168.5,722.1 169.4,720.4 169.8,719.1 168.8,718.4 167,717.6 165.2,717.2 163.3,716.6 162.5,716.7 161.5,715.4 163.3,714.9 163.7,714.5 161.9,714.5 160.5,713.5 160.3,712.8M184.5,715 186,715.8 187.2,717.4 186.8,716.5 185.3,715.2 184.5,715M22.6,614.3 24.4,613.8 28.1,614 33,614.4 31.8,615.2 28.1,615.5 25,615.1 22.6,614.3M69.7,626 67.3,625.8 65.4,625.7 63,624.9 64.2,623.9 64.8,623 66.6,622.5 67.3,621.2 69.1,620.2 72.2,619.4 75.8,618.9 79.5,618.3 83.8,618.2 84.1,618.7 80.7,619.4 75.8,620.2 73.4,621 70.9,621.8 69.7,622.7 68.5,623.9 70.3,625.1 69.7,626M168.2,620 172.5,619.3 176.2,620 173.7,620.7 168.8,620.8 168.2,620M179.8,620.2 184.1,620.5 182.3,620.8 179.8,620.2M171.3,622.4 174.9,622.5 173.7,622.8 171.3,622.4M211.3,753.9 212.3,754.7 213.2,755 213.6,756.3 214,757 214.7,756.5 215.2,757.5 215.7,757.9 216.8,758.3 218.4,758 217.8,759.2 217.7,759.8 216.6,760.2 216.6,760.8 215.7,762 214.5,762.8 213.9,762.4 214.2,761.4 214.1,760.7 213.2,760.4 212.6,759.9 213,759.6 213.6,759 213.9,757.7 213.4,756.9 212.6,755.9 211.7,754.7 211.3,753.9M211.3,761.4 211.8,762.3 212.9,762 213.2,762.9 212.5,763.7 211.7,764.5 211.4,765.1 211.8,765.5 210.7,765.7 209.6,766.2 209.2,767 208.8,768 207.7,768.8 205.9,768.9 204.9,768.4 203.7,768 204.1,766.9 205.3,766.1 206.2,765.6 208,764.6 209.5,763.7 209.9,762.9 210.6,761.9 211.3,761.4M43.1,637.6 42.8,636.2 44,635.8 44.4,637 43.1,637.6M143.4,701.6 145,700.5 146.2,699 145.9,697.9 145.3,699.3 143.9,700.9 143.4,701.6M149.2,697.3 150.6,697.8 150,699 150.6,700.6 149.9,699.8 149.1,699 149.2,697.3M156.2,680.1 157,679.2M173.7,645.8 174.6,645.6 175.3,647.4 175.2,649.2 175.6,651 176.4,652 177,652.6 174.9,651.9 174.7,654 175.3,654.9 175.6,655.7 174.6,655 173.7,656 173.6,654.6 173.8,653.4 173.7,651.6 174,649.8 173.4,648.6 173.5,646.9 173.7,645.8M152.1,696.6 153.3,696.6 153.8,698.2 152.9,698.4 152.9,699.4 152.3,698.7 152.1,697.8 152.1,696.6M229.2,728.3 230,728.7M230.3,728.9 230.6,728.9M116.8,615.6 119.3,614.5 122.3,614.6 122.3,615.5 119.9,616 116.8,615.6M122.3,616 126,615.6 128.4,616.5 126,617.2 122.3,616.7 122.3,616M116.2,613.9 119.3,613.1 119.9,614.2 116.2,613.9M164.7,670.2 164.2,671.4 163.3,671.1 162.7,672 162.1,671.4 161.5,671.2 162.3,670.6 162.7,670.3 163.9,670 164.7,670.2M65.3,696.7 66.6,696.5 65.8,696.8 65.3,696.7M70.1,736.4 70.7,736.7M67.6,737.5 68.2,737.8M84.1,771.8 86.2,772.1 85.4,772.6 84.1,771.8M52.9,726 53.2,726.4M409.3,665.8 409.7,665.8M405.9,665 406.2,665M419.7,672 420.1,672M419.9,677.4 420.7,677.1M421.3,677.8 421.7,677.8M423.1,677.4 423.5,677M411.1,691.4 411.7,693.6M394.6,778.1 396.4,778.7M367.1,775 368.3,774.8 369.5,775.1 367.9,775.7 367.1,775M365.9,774.9 366.8,775.3M113.5,695.4 113.4,697.6M10.1,711.4 8.1,711.6M328.5,712.4 329.1,713 329.8,712.5M306.6,745 306.7,745M257.4,733.4 257.9,733.5M89.3,776.7 90.1,776.8M118.4,726.6 118.5,726.7M193.5,703.4 193.7,703.5M177,695.6 177.3,695.3M433.5,731.3 433.5,731.4M422.9,721.5 423,721.6M11.3,659.6 11.6,661.5 10.6,660.8 11.3,659.6M10,662.1 11.8,661.9 11.7,664.1 10.4,664.4 10.2,662.8 10,662.1M15.2,665.6 18.9,665.3 18.4,667.2 15.2,666.1 15.2,665.6M28.7,668.9 32.1,669 29.3,669.2 28.7,668.9M39.5,669.2 42.2,668.5 41.4,669.4 40,669.6 39.5,669.2M2.9,663.6 4.1,663.4 3.7,664 2.9,663.6M431.7,636.2 432.5,636.4M438.7,638.4 439,639M436.6,640.1 437.1,640.1M431.9,641.6 431.6,642.4M432.8,640.9 432.1,641.4M27.5,640.9 28.1,640.5 26.9,641.2 27.5,640.9M22.2,641.4 23.2,642 22.3,642.5 22.2,641.4M20.3,643.5 20.9,642.1M18.1,644.7 18.4,644.8M13.2,644.3 12.8,644.9 13.7,644.6 15.2,644.6 15.2,643.7 14,643.8 13.2,644.3M189.3,718.5 190.7,720.1 189.9,720 189.3,718.5M191.5,720 192.7,720.9M194,721.1 195.5,722.2M195.5,723.3 196.7,723.8M196.6,722.2 197.3,723.4M197.6,724.4 198.6,724.9M97.9,699.9 99,701 99.4,701.5 100.2,702.9 99.9,703.9 99.1,704.4 98.1,704.5 97.7,703.5 97.6,702.1 97.7,700.9 97.9,699.9M204.9,769.3 205.8,769.3 205.5,769.6 204.9,769.3M152.7,710 151.7,710.6 150.5,710.6 148.6,710.5 147.8,710.2 146.8,710.8 146.6,711.8 146.6,712.8 145.9,713.6 145.3,715.2 145.9,716.1 146.2,717.3 146.1,718.2 146.6,718.7 147.3,718.7 147.3,716.7 147.2,715.4 148,715.1 148.6,716.7 149.2,717.7 150.2,717.6 150.7,716.7 149.9,715.8 149.5,714.2 148.6,714.1 149.9,713 151,712.9 150.5,712.5 148.9,712.9 148,713.4 147.5,713 146.9,712.7 147,711.4 148,711.2 149.9,711.2 151.1,711.4 152.3,711.2 153.2,710 152.7,710M116.6,705 118.9,705.5 119.9,706.3 120.7,707.2 122.3,708.4 123.3,709.2 124.5,709.7 126,710.9 127,712.2 126.6,713 127.8,714 129.7,714.9 129.7,715.8 129.4,717.3 129.4,718.9 128.7,718.9 128,718.5 127.2,717.9 125.1,716.5 122.8,713 121.3,711.4 120.9,709.7 119.5,708.8 117.6,706.8 116.6,705M13.4,614.9 17.1,614.5 19.5,614.5 22,614.9 23.2,615.7 26.3,616.1 23.2,617 22.6,617.6 20.8,618.7 18.3,617.9 17.1,617.2 16.5,616.7 14,616.1 13,615.4 13.4,614.9M148.6,681 149.2,681.4 148.8,682.6 148.4,683.8 147.8,685 147.2,684.3 146.9,683.2 147.7,681.9 148,681.3 148.6,681M35.8,716 36.1,717.9 37.3,720.4 37.9,722.5 37.4,722 36.5,720.1 35.6,717.9 35.8,716M177,761.7 179.2,762.1 181.1,761.8 181.4,763.2 181.1,764.7 179.8,765.2 178.6,765.1 177.8,763.9 177.1,762.6 177,761.7M15.2,640.7 15.9,639.7 17.1,640.1 16.5,640.7 15.2,640.7M203.8,729.9 204.6,730.9M204.7,731.4 205.3,732M205.9,733.4 206.2,733.6M207,735.7 207.3,735.8M38.9,712.4 39.7,711.4 41.3,711.4 41.9,712.4 41.6,713.6 40.9,714.9 39.7,715 38.9,714 38.9,712.4M218.4,625.2 220.2,624.9 222.7,625.1 223.3,625.5 220.2,625.7 218.4,625.2M340.8,647.1 342,647.6 341.4,647.1 340.8,647.1M237,646.3 235.2,647M227.6,648.3 226.8,648.4M203,644.7 203.7,645.2M347.5,796.3 352.4,796.6 355.4,798.8 352.4,800.6 348.7,799.8 347.5,796.3M275.9,641.3 274.7,642.2 275.5,643.1 276.2,642.1 275.9,641.3M277.1,643.3 278.4,644.3 277.7,645.2 277,644.3 277.1,643.3M345.2,703 344.6,702.1 343.2,700.9 342,701.8 342.1,702.9 341.4,702.3 339.1,701.8 338.1,701.3 336.8,700.1 336.2,700 335.5,699.2 335.6,698.3 334.3,697 333.2,696 332.2,695.7 330.6,695.3 328.6,694.8 327.5,694 325.6,692.3 324,692.1 322.4,692.7 320.6,692.2 318.2,691.4 316.3,690.5 315.4,689.9 313.8,689.4 312.7,688.6 311.4,687.5 311.1,687 311.6,686.5 311.5,685.7 310.9,684.2 310.3,683.6 308.6,682 307.4,680.9 306.6,680.4 306.6,679.3 304.8,677.9 303.2,676.7 302.5,675.3 302,673.9 300.1,673.1 300,674.1 300.5,675.3 301.6,676.5 302.5,677.8 303.1,678.7 304.2,679.9 304.7,681.4 305.4,682.4 306.1,683 306,684 305.5,683.3 303.9,682.1 303.2,681.4 303.1,679.9 301.5,679.2 300.4,678.6 299.8,678 300.7,677.4 300.1,676.2 298.9,675.1 298.2,673.9 297.7,673.1 297.2,672.3 295.6,670.6 293,669.8 292.1,668.4 291.3,667.3 290.6,665.8 290,665.6 289.1,664.4 288.3,662.7 288.5,661 288.1,659.8 288.6,658.3 288.8,655.6 287.9,652.9 290,653.2 290.6,654.2 290.7,653.1 290,652.2 289.7,651.9 288.1,651 286.3,650.4 284.5,649.8 284.1,648.2 282.6,646.7 281,645.8 280.8,644.6 279.2,644.6 278.7,643.3 277.1,641.9 275.9,640.9 274.7,640.7 273.3,641 271.9,640.5 269.4,639.3 267.3,638.8 264.3,638.8 262.4,638.4 261.8,638 260.6,637.6 259.1,638.1 257.7,638.8 254.7,639.8 255.1,639.2 255.3,638 256.9,637.4 255.1,637.6 253.9,638.5 252.7,639.4 251.8,640.3 251.8,641 249.6,641.9 247.4,642.9 245.3,643.9 242.9,644.7 240.7,645.2 238.8,645.4 241,644.6 243.5,643.7 244.7,643.1 246.5,642.1 247.8,640.7 248.4,640.3 246.5,640.3 244.1,640.4 242,640.5 242.5,639.4 241.6,638.6 239.2,638.2 238.1,637.5 237.4,636.8 238.6,635.6 238.9,634.9 241,634.9 243.2,634.6 243.7,633.4 242.9,633.4 241,633.4 238.1,633.4 236.7,633.1 234.8,632 236.7,631.3 239.2,630.9 240.2,631.4 242.5,631.4 242.9,630.9 241.6,630.4 240.2,630.1 239.8,629.5 236.4,628.7 237.1,628 239.8,627.9 241,626.9 242.3,626.3 244.7,625.8 248.6,625.1 250.8,625.5 254.5,625.7 256.9,626.1 258.8,626.3 261.8,626.6 264.9,626.6 268,627.2 270.4,627.3 272.8,627.9 274.7,627.5 276.5,627.2 277.7,627.3 280.2,626.7 282,626.7 283.9,626.1 285.1,626.7 286.9,627.4 288.1,626.7 290,627.3 292.4,627 296.1,627.9 299.2,628 301,628.7 299.8,629.4 302.2,629.5 305.9,629.2 307.7,629.7 308.3,630.6 308.9,629.4 310.8,628.7 312.6,629.1 315.7,629.4 318.1,629.4 320,628.7 321.2,628.5 323,628.9 323.6,630 324.9,628.9 323.6,627.7 322.7,626.4 322.4,625.2 324.2,624.4 325.5,624.6 326.9,625.5 327.9,626.7 328.5,627.3 329.8,627.9 331.6,627.9 332.8,628.7 332.8,630 334,629.7 335.3,629.1 335.9,627.9 336.5,626.9 339.5,627 340.8,627.9 341,629.1 339.5,630.1 338.3,631.2 335.9,630.9 334.9,630.9 335.3,631.8 333.4,632.4 331.6,632.8 332.8,633.7 330.4,634 329.5,634.8 327.3,635.6 326.1,637 325.3,637.5 324.6,638.8 325.2,640.3 326.7,640.4 327.3,642.1 327.5,642.5 329.8,642.2 332.8,643.1 335.3,643.9 336.5,644.6 339.8,644.7 339.9,646.1 339.9,647.4 340.8,648.2 342,649.4 343.2,649.2 344.1,648 343.8,646.4 343.5,645.3 345.7,644.3 346.6,643.1 346.8,641.9 345.3,640.5 344.4,639.4 345.7,638.6 345,637.4 345,636 345.7,635.8 348.1,636 350.6,636.2 352.4,637 353.6,637.5 355.2,637.6 355.4,639.1 355.1,640.3 356.7,641 358.5,640.7 360,639.7 361,638.5 361.6,638.4 362.8,639.7 364,640.9 364.9,642.1 365.5,643.3 366.8,644.4 368.5,645.2 370.1,645.8 370.4,646.7 372,647.6 372.3,648.7 370.7,649.3 368.9,649.5 367.1,650.5 365,650.8 362.2,650.6 359.1,650.8 357.9,651.7 356.6,652.3 355.2,653.3 353.4,654.9 354.8,654.3 356.7,652.9 358.5,652.2 361,652 361.8,652.5 360.7,653.4 359.4,653.4 361,653.9 361.2,654.6 361.6,655.5 362.4,655.9 364,656.2 365.2,656.4 366.6,654.6 367.2,655.9 365.9,656.7 362.8,657.6 361.6,658.3 360.3,658.9 359.6,658.5 360,657.6 361.6,656.7 359.7,656.8 358.5,657.3 356.7,657.9 354.8,658.5 354.5,658.8 353.9,659.8 353.6,660.4 354.1,660.8 354.8,660.7 354.8,661.1 354,661.3 353,661.5 351.8,661.6 349.9,662.4 351.8,662.1 349.9,662.6 349.9,663.4 349.5,663.9 348.8,664.5 348.1,663.8 348.6,664.7 348.5,665.6 347.6,666.6 347.5,666.8 347,665.3 347.1,664.1 346.8,665.6 347.1,666.9 347.6,667.4 348.1,669 346.9,669.6 345.7,670.1 345,670.6 343.8,671.1 342.7,672 341.4,672.9 340.9,674.5 340.9,675 341.4,676.3 342,677.1 342.5,679 342.5,680.4 342.1,681.2 341.3,681.3 340.5,680.2 340.2,679.6 339.3,678.1 339.3,676.8 338.4,675.8 337.7,675.2 336.1,675.7 334.9,674.8 333.8,675 332.8,675 331.6,675 331,675.2 331.1,676.2 331.5,676.5 330.4,676.4 329.1,676.3 327.9,675.8 326.1,675.6 324.5,676.2 323.3,677 321.6,678.1 321.3,679.6 321.6,680.3 320.9,682 320.8,684.4 321.4,686.3 322.4,687.7 322.9,688.5 323.6,689.1 324.9,689.7 326.7,689.4 327.9,689.2 328.8,688.9 329.5,688.1 329.8,687.7 329.9,686.5 330.4,686 330.7,685.9 332.8,685.5 333.8,685.7 334.3,686.1 333.5,687.2 333.4,688.3 333.1,689.5 332.6,690.5 332.4,691.7 331.7,692.5 332.6,692.7 333.4,692.6 335.3,692.6 336.5,692.5 337.7,692.6 338.7,693.6 338.3,694.8 338.3,696 338.1,697.2 337.9,698.4 338.1,698.5 338.9,699.6 339.9,700.6 340.8,700.9 341.7,700.7 342.7,700.4 343.8,700.1 345,700.5 345.8,701.2 346.5,701.3 346.4,702.1 347.1,700.9 348,700.1 348.1,699.2 349,698.4 349.7,698.1 351.2,697.8 352.8,696.7 353.4,697.2 352.5,697.7 352.9,698.5 352.9,699.9 353.6,700.2 353.6,699 353.6,698.4 354.6,697.8 354.8,697 355.1,697.8 356.3,697.9 356.9,698.7 357.3,699 358.5,698.9 359.7,698.9 361,699.5 361.7,699.3 361.9,699 363.4,698.8 364.6,698.8 363.6,699.2 364,699.6 365.2,699.9 366.1,700.9 367.1,701.5 368.3,702.1 369.3,703.5 370.5,704.5 372.9,704.6 374.4,704.7 376.5,705.8 377.5,706.6 378.1,708.2 378.9,709.6 379.3,711.2 378.7,711.8 379.9,712 381.1,712.2 381.4,712.8 381.1,713.5 382.4,712.5 384.2,713 385.4,713.6 386,714.6 386.3,714.9 387.3,714.7 389.1,715.2 391.6,715.2 393.4,716.3 394.9,717.6 395.8,718 397.2,718.2 397.4,718.9 397.9,720.5 397.8,721.7 396.8,723.7 395.2,725.2 394.6,726.3 393.4,727.7 392.8,728.9 392.8,729.9 392.8,732 392.5,733.5 391.9,734.5 391.8,735.8 391.2,736.7 390.3,738.3 390.3,738.8 389.1,740 387.6,740 386,740.2 383.8,741.2 382,742.4 381.3,743.2 381,744.6 381.1,745.6 380.8,746.8 379.7,747.8 378.9,749.2 378.1,750.3 376.7,751.2 375.2,753.1 374.7,753.9 373.2,754.7 371.7,754.6 369.8,753.9 369,754.2 370.4,755 370.5,755.9 371.1,756.4 370.1,758.3 368.5,759.1 365.9,759.6 364.4,759.5 364.4,760.8 364.3,761.8 362.4,762.3 361,761.8 360.7,763 361.9,763.6 362.7,764.1 361.6,764.2 361,764.8 360.6,766.3 360.1,766.9 358.1,767.5 357.9,768 357.9,768.8 359.1,769.4 359.9,770.4 358.5,771.5 357.7,772.4 356.7,773.3 355.8,774.3 356.1,775 356.8,776 355.4,776.1 353.9,776.5 353.7,777.6 352.4,777.3 350.6,776.5 349.1,776 348.7,774.9 348.1,773 348.1,771.2 348.1,769.4 348,769 349.3,767.9 350.2,766.3 351.2,765.1 351.4,763.6 350.2,763 350.2,762 350.7,760.6 350.6,759 351,756.9 351.5,755.3 352.5,753.4 352.9,752.2 353,750.4 353.1,748.4 353,746.7 353.7,744.9 354.2,742.9 354.3,740.7 354.2,740.1 354.6,738.8 354.6,736.5 354.5,734.5 353.2,733.5 352.4,732.6 350.6,731.8 348.5,730.7 347.1,728.9 346.5,727.4 346.1,726.5 345.4,725.3 344.7,723.8 344.3,722.9 343.7,721.7 342.7,720.3 341.4,719.1 341,717.6 341.5,716.5 342.1,716.1 342.7,715 342.2,715 341.4,714.5 341.6,713 342.5,711.8 342.6,710.8 343,710.6 343.9,710.1 344.1,709.6 344.6,708.6 346.1,707.1 345.7,706.7 345.9,705.1 345.7,703.8 345.2,703M-0.1,798.8 6.1,797.9 12.2,797.8 18.3,797.5 24.4,797.8 30.5,798.2 36.7,796.7 40.3,796 42.8,795.8 46.5,797.3 48.9,796.1 55,794.7 61.1,793.6 66,792.5 69.7,793.4 73.4,794.4 79.5,794.7 83.2,794.9 85.6,796.1 86.8,797.7 89.3,797.3 91.7,796.7 95.4,795.7 99.1,794.9 104,793.6 107.6,793.3 110.1,793.3 116.2,793.1 122.3,792.5 126,792 128.4,793.1 134.6,792.6 138.2,792.4 141.9,793.5 146.8,793.5 150.5,793.1 155.4,792.9 159,792.6 165.2,792.6 168.8,793.1 171.3,793.5 174.9,793.8 177.4,794.5 179.8,794.7 183.5,795.7 187.2,795.8 189.6,796.7 193.3,796.9 195.8,797.8 198.2,798 200.6,798.2 204.3,798.8 208.6,799.5 208,800.6 205.5,801.8 203.1,803.4 200.6,804.9 201.3,806.5 198.2,808 196.2,809.3 197,810.8 200.6,811.9 208,813.5 220.2,814.6 232.5,815.3 244.7,815.6 256.9,815.9 261.8,815.8 254.5,814.1 250.8,812.5 259.4,811 252,809.2 248.4,808 245.9,806.9 248.4,806.4 253.3,805.9 259.4,804.9 263.1,804.4 269.2,803.9 275.3,803.4 281.4,802.8 287.5,801.8 290,801.3 293.7,801.8 299.8,802.4 303.4,803.1 305.9,802.7 312,803.4 315.7,803.1 318.1,801.8 320.6,800.6 324.2,801 330.4,800.9 336.5,801.2 342.6,801.5 346.3,800.6 348.7,801 349.9,799.4 352.4,798.2 354.8,796.7 356.4,794.6 358.5,793.3 361.6,791.8 365.1,790.2 368.3,789.5 372.9,789 370.7,790.2 367.7,791.4 365.9,793 365.1,794.6 364.6,796.3 365.9,798.2 366.5,800 367.1,801.6 364.6,803.1 361,804.3 359.1,805.9 363.4,806.7 368.3,807.1 373.8,807.6 381.8,808.1 391.3,808.2 397.7,807.1 403.8,805.6 408.7,804.2 413.6,802.8 418.5,801.6 422.1,800.6 426.1,799.8 430.7,799.1 435.6,799 440.5,798.8M440.5,798.8 446.6,797.9 452.7,797.8 458.9,797.5 465,797.8 471.1,798.2 477.2,796.7 480.9,796 483.3,795.8 487,797.3 489.5,796.1 495.6,794.7 501.7,793.6 506.6,792.5 510.3,793.4 513.9,794.4 520,794.7 523.7,794.9 526.2,796.1 527.4,797.7 529.8,797.3 532.3,796.7 536,795.7 539.6,794.9 544.5,793.6 548.2,793.3 550.6,793.3 556.8,793.1 562.9,792.5 566.5,792 569,793.1 575.1,792.6 578.8,792.4 582.5,793.5 587.4,793.5 591,793.1 595.9,792.9 599.6,792.6 605.7,792.6 609.4,793.1 611.8,793.5 615.5,793.8 617.9,794.5 620.4,794.7 624.1,795.7 627.7,795.8 630.2,796.7 633.9,796.9 636.3,797.8 638.7,798 641.2,798.2 644.9,798.8 649.1,799.5 648.5,800.6 646.1,801.8 643.6,803.4 641.2,804.9 641.8,806.5 638.7,808 636.8,809.3 637.5,810.8 641.2,811.9 648.5,813.5 660.8,814.6 673,815.3 685.3,815.6 697.5,815.9 702.4,815.8 695,814.1 691.4,812.5 699.9,811 692.6,809.2 688.9,808 686.5,806.9 688.9,806.4 693.8,805.9 699.9,804.9 703.6,804.4 709.7,803.9 715.8,803.4 722,802.8 728.1,801.8 730.5,801.3 734.2,801.8 740.3,802.4 744,803.1 746.4,802.7 752.6,803.4 756.2,803.1 758.7,801.8 761.1,800.6 764.8,801 770.9,800.9 777,801.2 783.2,801.5 786.8,800.6 789.3,801 790.5,799.4 792.9,798.2 795.4,796.7 797,794.6 799.1,793.3 802.1,791.8 805.7,790.2 808.8,789.5 813.5,789 811.3,790.2 808.2,791.4 806.4,793 805.7,794.6 805.2,796.3 806.4,798.2 807,800 807.6,801.6 805.2,803.1 801.5,804.3 799.7,805.9 804,806.7 808.8,807.1 814.4,807.6 822.3,808.1 831.9,808.2 838.2,807.1 844.3,805.6 849.2,804.2 854.1,802.8 859,801.6 862.7,800.6 866.6,799.8 871.3,799.1 876.2,799 881.1,798.8M-440.6,798.8 -434.5,797.9 -428.4,797.8 -422.2,797.5 -416.1,797.8 -410,798.2 -403.9,796.7 -400.2,796 -397.8,795.8 -394.1,797.3 -391.7,796.1 -385.5,794.7 -379.4,793.6 -374.5,792.5 -370.8,793.4 -367.2,794.4 -361.1,794.7 -357.4,794.9 -354.9,796.1 -353.7,797.7 -351.3,797.3 -348.8,796.7 -345.1,795.7 -341.5,794.9 -336.6,793.6 -332.9,793.3 -330.5,793.3 -324.3,793.1 -318.2,792.5 -314.6,792 -312.1,793.1 -306,792.6 -302.3,792.4 -298.6,793.5 -293.8,793.5 -290.1,793.1 -285.2,792.9 -281.5,792.6 -275.4,792.6 -271.7,793.1 -269.3,793.5 -265.6,793.8 -263.2,794.5 -260.7,794.7 -257,795.7 -253.4,795.8 -250.9,796.7 -247.2,796.9 -244.8,797.8 -242.4,798 -239.9,798.2 -236.2,798.8 -232,799.5 -232.6,800.6 -235,801.8 -237.5,803.4 -239.9,804.9 -239.3,806.5 -242.4,808 -244.3,809.3 -243.6,810.8 -239.9,811.9 -232.6,813.5 -220.3,814.6 -208.1,815.3 -195.9,815.6 -183.6,815.9 -178.7,815.8 -186.1,814.1 -189.7,812.5 -181.2,811 -188.5,809.2 -192.2,808 -194.6,806.9 -192.2,806.4 -187.3,805.9 -181.2,804.9 -177.5,804.4 -171.4,803.9 -165.3,803.4 -159.1,802.8 -153,801.8 -150.6,801.3 -146.9,801.8 -140.8,802.4 -137.1,803.1 -134.7,802.7 -128.5,803.4 -124.9,803.1 -122.4,801.8 -120,800.6 -116.3,801 -110.2,800.9 -104.1,801.2 -98,801.5 -94.3,800.6 -91.8,801 -90.6,799.4 -88.2,798.2 -85.7,796.7 -84.1,794.6 -82,793.3 -79,791.8 -75.4,790.2 -72.3,789.5 -67.6,789 -69.8,790.2 -72.9,791.4 -74.7,793 -75.4,794.6 -75.9,796.3 -74.7,798.2 -74.1,800 -73.5,801.6 -75.9,803.1 -79.6,804.3 -81.4,805.9 -77.1,806.7 -72.3,807.1 -66.7,807.6 -58.8,808.1 -49.2,808.2 -42.9,807.1 -36.8,805.6 -31.9,804.2 -27,802.8 -22.1,801.6 -18.4,800.6 -14.5,799.8 -9.8,799.1 -4.9,799 -0.1,798.8M361.6,651.1 363.4,651.4 364.9,652.1 362.8,651.9 361.6,651.1M304.4,640.4 306.5,639.8 310.2,639.7 307.7,640.1 304.4,640.4M334,616.7 327.9,615.7 324.2,614.8 323,613.9 326.7,612.9 331.6,613.9 333.4,615.1 334,616.7M359.7,636.4 354.8,635.4 352.4,634.3 346.9,633.7 345,633.2 345,632.9 347.5,632.4 349.9,632.8 350.6,631.5 351.2,629.7 350.6,628.7 347.5,627.9 345,626.9 343.8,626.3 341.4,626.8 337.1,626.7 334,626.3 331.6,625.7 330.4,624.5 330.6,623 331.6,622.2 335.3,622.1 336.5,623 337.1,622.1 340.2,622.1 341.4,622.8 342,623.6 345,623 345,622.4 347.5,623.3 349.3,624.5 352.4,624.9 354.8,625.8 356.7,626.4 358.5,627.5 357.9,628.5 361,629.1 363.4,630 365.2,630.7 364.6,631.8 362.8,632.8 360.3,631.8 357.9,630.9 358.5,632.2 361,633.4 362.2,634.6 361.2,635.7 359.1,635.2 356.7,634.3 358.5,635.6 360.3,636.4 359.7,636.4M290,625.2 286.9,624.4 286.9,623.2 288.8,621.6 292.4,621.2 296.7,621.6 296.7,622.4 294.9,623.5 293,624.9 290,625.2M313.2,620.2 318.1,620.6 321.2,620 320.6,618.8 316.9,618.5 313.2,619.1 313.2,620.2M343.2,643.1 343.8,643.7M342.6,643.5 342.8,643.9M230.4,634.6 232.5,634.3 233.9,634.9 232.1,634.9 230.4,634.6M235.8,638.6 237.7,638.5 237.6,639.1 235.8,638.6M228.8,638.2 229.5,638.5M378.1,807.6 384.2,808 385.4,809.8 379.3,810.2 376.9,808.8 378.1,807.6M342,622.2 345,622.1 347.5,622.8 345.7,623.4 342.6,623 342,622.2M344.8,682.4 345.4,681.2 345,681.8M346,679.5 346.3,679.8M345.3,679.3 344.2,679.5M347.3,681.2 347.4,681.8M348.1,682.3 348.4,682.5M350.4,686.3 351,686M364.7,698.8 365.9,698.7 365.9,699.5 364.7,699.5 364.7,698.8M364.9,692 365.6,692.1M365.6,693.8 366,694.2M365.9,694.9 366,695.1M367.6,695.7 367.7,695.9M362.2,698.4 362.4,698.3M356.1,697 356.3,697.1M339.2,685.3 339.4,685.7 338.9,685.7 339.2,685.3M349.7,764.8 350.4,764.8 350.6,763.2 349.9,763 349.7,764.8M338.9,635.4 340.2,635.3 342.6,635.8 339.5,636.2 338.9,635.4M322.4,620.6 326.1,621 326.1,620 323,619.9 322.4,620.6M336.6,685.2 337.7,684.2 338.9,683.8 339.7,683.7 341,683.7 342.6,684 343.8,684.6 345.7,685.3 347.5,686 348.7,686.6 349.8,687.2 348.5,687.6 347.7,687.5 345.4,687.7 346.1,687.1 346,686.6 344.4,686.3 343.2,685.4 342,685 340.8,684.8 339.8,684.2 338.3,684.8 337.3,685.3 336.6,685.2M342.6,619.9 337.7,619.6 331.6,620 327.9,619.1 323,618.7 323,619.9 327.9,621.1 332.8,621.2 337.7,621.2 342,621.1 342.6,619.9M373.4,627.2 375.6,627.5 376.9,626.9 375,626.3 373.4,627.2M345,618.9 342.6,619.1 338.9,618.9 334,618.9 331,618.8 331.6,617.9 332.8,616.8 334,616.2 336.5,615.1 334.6,614.2 329.1,613.1 328.5,612.5 332.8,611.7 340.2,611 347.5,610.8 354.8,610.8 362.2,611.4 365.2,611.7 362.2,612.7 358.5,613.3 354.8,614.2 352.4,614.9 348.7,615.5 347.5,616.3 348.1,617.2 345,617.9 345,618.9M338.4,661.1 339.5,661.5 340.8,661.2 342.6,660.5 343.9,659.8 342.6,660 341.1,659.9 339.5,660.7 338.8,660.6 338.4,661.1M290,632.8 293.7,632.5 296.1,631.5 294.3,630.3 291.2,630.9 290,631.8 290,632.8M297.3,637.6 301,637.4 303.4,636 306.5,635.4 304.1,636 301,636.4 298.5,636.7 297.3,637.6M386.7,639.1 384.8,638.6 381.8,637.9 379.9,636.4 378.7,635.2 377.2,633.7 376.3,632.2 374.8,630.4 374.8,629.1 378.1,628.1 378.1,627.3 376.9,626.7 373.8,626.1 373.8,624.9 372.6,623.6 371.8,623.3 370.7,621.8 368.9,620.2 365.9,619.4 362.2,619.3 359.1,619.4 356.1,618.9 353.6,618.2 352.4,617 351.2,616.6 356.1,615.7 359.7,615.4 361,614.5 358.5,613.9 362.2,613.1 365.9,612.3 369.5,611.8 374.4,611.7 379.3,611.6 384.2,611.1 389.1,610.5 395.2,610.3 401.3,610.1 407.5,610.5 411.1,611.2 414.8,611.8 413.6,612.7 419.7,612.7 425.2,612.7 426.4,612.8 423.4,613.7 419.7,614.5 417.9,615.7 416.6,617 417.2,618.2 416,619.4 416.6,620.6 415.4,621.5 413.6,622.4 412.4,623.3 413.6,624.2 413.6,625 409.9,625.5 410.5,626.1 413,626.4 411.7,627.3 409.3,628.1 406.2,628.7 402.6,629.1 400.1,630 397.7,631.2 394.6,631.9 391.6,632.8 390.7,634 389.7,635.2 388.5,636.4 388.1,637.6 387.5,638.6 386.7,639.1M277.7,645.9 279.3,646.1 279.2,647.4 280.1,648.6 278.5,647.4 277.6,646.3 277.7,645.9M349.3,689.4 349.8,689.2 351.4,689.3 351.9,689.2 351.4,688.6 350.7,687.8 352.1,687.7 352.9,687.6 354,687.7 355,687.8 355.8,688.3 356.4,688.8 356.9,689.2 356.4,689.7 355,689.3 354.1,689.7 353.5,690.4 352.8,689.9 351.8,689.7 350.2,689.7 349.3,689.4M336.8,656.1 338.3,656.7 338.6,657.7 337.8,658.7 339.5,659.4 340.5,658.9 340.6,657.7 341,656.8 342.4,657.6 342.8,657.1 342,656.4 340.8,655.9 338.9,655.6 337.5,655.6 336.8,656.1M344.6,689.4 345.7,689.3 347.1,689.7 347.3,690 346,690.3 344.8,689.8 344.6,689.4M323,627.9 320,628.4 318.7,627.5 321.2,626.8 323,627.4 323,627.9M252.3,642.5 254.2,641.8 253.8,640.8 252.7,641.3 251.3,641.8 252.3,642.5M342.6,636 343.2,636.8 342.4,636.7 342.6,636M352.9,698.5 352.4,699.9 353.2,700.6 353.6,699.6 352.9,698.5M298.5,620.4 303.4,621.2 308.3,621 310.8,620.4 310.8,619.5 307.1,618.5 302.2,618.9 297.3,619.1 298.5,620.4M333.3,661 333.1,659.5 333.4,657.7 332.8,657.6 334,656.5 335.3,656 336.5,656.1 335.9,657.1 335,657.7 334.6,658.9 334.9,660.1 334.2,661 333.3,661M375.5,655 376,653.9 375.6,652.8 375.5,652.6 374.4,651.7 372.6,651.1 372,650.8 372.5,649.4 372.7,649.1 370.9,649.8 370.5,650.1 369.8,651.4 369,652.2 367.9,653.2 367.9,653.9 370.1,653.9 372,654 372.2,654.8 373.2,654.3 374.2,654.2 374.4,654.9 374.9,655.1 375.5,655M335.4,697.1 336.5,698.2 335.7,697.9 335.4,697.1M342.8,659.1 343.8,659.1 345.7,659.1 347.1,658.9 347.1,658.2 345.7,658.4 343.8,658.5 342.8,659.1M361.8,654.8 363.4,655.3 364.6,655.4 363.6,655.9 362.2,655.5 361.8,654.8M321.8,623.2 319.3,624.9 315.7,624 315.7,623 318.1,622.1 321.2,622.3 321.8,623.2M290.6,619.1 294.9,619.4 297.9,618.5 296.1,617.7 292.4,618.2 290.6,619.1M358.3,689.3 360.2,689.4 360,689.9 358.3,689.9 358.3,689.3M315.1,643.1 315.7,641.5 315.3,641.3 315.1,643.1M314.5,616.7 319.3,617.2 321.8,616.1 318.1,615.4 314.5,616 314.5,616.7M321.8,617 325.5,617.2 324.2,616.1 321.2,616.3 321.8,617M302.2,617.3 305.9,617.4 305.9,616.7 302.2,616.6 302.2,617.3M312,617.9 312.6,617.3M305.9,616.5 307.1,615.9M241,808.6 244.1,808.3 244.7,809.3 242.3,809.7 241,808.6M329.8,623.3 326.1,624.2 323.6,623.3 323.6,622.1 327.9,621.8 329.8,622.3 329.8,623.3M342.4,634.2 339.5,634.3 338.3,634 336.5,634.9 333.8,634.3 335.3,633.1 335,631.9 336.5,631.5 338.3,631.8 340.2,633 341.4,633.6 342.4,634.2M365.9,788.6 368.9,787.8M372.6,786.8 373.8,786.5M384.2,786 385.4,786.2M327.8,655 330.4,653.7 331.3,652.9 332.8,652.3 334.6,652.6 336.5,653.6 336.7,654.8 337.1,655.3 336.5,654.9 334.6,655.3 333.4,655.3 332.8,654.4 333.1,654.2 332.2,654.6 331,654.9 329.8,655.1 327.8,655M356.8,776.2 356.9,776.6 357.3,777.3 359.1,778.6 360.7,778.8 359.7,779.3 357.9,779.7 358.1,780.3 356.1,779.8 354.2,779.4 352.4,778.4 350.6,777.3 352.4,777.8 353.9,777.9 354.5,777.2 355.4,776.4 356.8,776.2M354.8,730.5 356.1,731.6 355.1,731.4 354.8,730.5M283.4,650 286.3,650.5 287.2,651 288.8,652 289.5,652.9 287.9,652.8 286.4,652.1 285.1,651.2 284,650.9 283.4,650M297.3,627.9 299.8,628.5 302.2,628.5 305.9,628.4 308.9,628.1 312,627.9 315.7,627.7 316.3,626.9 314.5,626.1 317.1,626 315.7,624.9 313.2,623.6 312,623 308.3,622.8 305.9,623.3 302.2,623.3 299.8,622.7 296.7,623.3 294.9,624.7 296.7,625.1 298.5,626.1 302.2,626.3 298.5,626.9 297,626.7 297.3,627.9M322,650.5 322.7,649.5 321.2,648.3 320.6,647.4 319.3,646.4 320,647.6 320.8,648.8 321.8,649.8 322,650.5M318.1,648.9 317.5,647.6 318.1,647.4 318.5,648.6 318.1,648.9" fill="none" stroke="#000" stroke-width="0.9" stroke-linejoin="round"/></g>
<rect x="-0.1" y="601.6" width="440.6" height="220.4" fill="none" stroke="#000" stroke-width="0.7"/>
<rect x="517.5" y="89.10" width="26.5" height="10.85" fill="#FF1493" stroke="#000" stroke-width="0.5"/>
<rect x="517.5" y="99.95" width="26.5" height="10.85" fill="#FFB6C1" stroke="#000" stroke-width="0.5"/>
<rect x="517.5" y="110.80" width="26.5" height="10.85" fill="#B22222" stroke="#000" stroke-width="0.5"/>
<rect x="517.5" y="121.65" width="26.5" height="10.85" fill="#FF4500" stroke="#000" stroke-width="0.5"/>
<rect x="517.5" y="132.50" width="26.5" height="10.85" fill="#FFA500" stroke="#000" stroke-width="0.5"/>
<rect x="517.5" y="143.35" width="26.5" height="10.85" fill="#FFE000" stroke="#000" stroke-width="0.5"/>
<rect x="517.5" y="154.20" width="26.5" height="10.85" fill="#DEB887" stroke="#000" stroke-width="0.5"/>
<rect x="517.5" y="165.05" width="26.5" height="10.85" fill="#F5E6BE" stroke="#000" stroke-width="0.5"/>
<rect x="517.5" y="175.90" width="26.5" height="10.85" fill="#90BA32" stroke="#000" stroke-width="0.5"/>
<rect x="517.5" y="186.75" width="26.5" height="10.85" fill="#BCEE68" stroke="#000" stroke-width="0.5"/>
<rect x="517.5" y="197.60" width="26.5" height="10.85" fill="#20B2AA" stroke="#000" stroke-width="0.5"/>
<rect x="517.5" y="208.45" width="26.5" height="10.85" fill="#B0E0E6" stroke="#000" stroke-width="0.5"/>
<rect x="517.5" y="219.30" width="26.5" height="10.85" fill="#7A9AEF" stroke="#000" stroke-width="0.5"/>
<rect x="517.5" y="230.15" width="26.5" height="10.85" fill="#4064E0" stroke="#000" stroke-width="0.5"/>
<rect x="517.5" y="241.00" width="26.5" height="10.85" fill="#0000C8" stroke="#000" stroke-width="0.5"/>
<rect x="517.5" y="251.85" width="26.5" height="10.85" fill="#9370DB" stroke="#000" stroke-width="0.5"/>
<g font-family="'Liberation Sans', Arial, sans-serif" font-size="11" text-anchor="middle" fill="#000">
<text x="562" y="103.90">60</text>
<text x="562" y="114.75">59.5</text>
<text x="562" y="125.60">59</text>
<text x="562" y="136.45">58.5</text>
<text x="562" y="147.30">58</text>
<text x="562" y="158.15">57</text>
<text x="562" y="169.00">56</text>
<text x="562" y="179.85">55</text>
<text x="562" y="190.70">54</text>
<text x="562" y="201.55">53</text>
<text x="562" y="212.40">52</text>
<text x="562" y="223.25">51</text>
<text x="562" y="234.10">50</text>
<text x="562" y="244.95">49</text>
<text x="562" y="255.80">48</text>
</g>
<rect x="517.5" y="366.70" width="26.5" height="10.85" fill="#FF1493" stroke="#000" stroke-width="0.5"/>
<rect x="517.5" y="377.55" width="26.5" height="10.85" fill="#FFB6C1" stroke="#000" stroke-width="0.5"/>
<rect x="517.5" y="388.40" width="26.5" height="10.85" fill="#B22222" stroke="#000" stroke-width="0.5"/>
<rect x="517.5" y="399.25" width="26.5" height="10.85" fill="#FF4500" stroke="#000" stroke-width="0.5"/>
<rect x="517.5" y="410.10" width="26.5" height="10.85" fill="#FFA500" stroke="#000" stroke-width="0.5"/>
<rect x="517.5" y="420.95" width="26.5" height="10.85" fill="#FFE000" stroke="#000" stroke-width="0.5"/>
<rect x="517.5" y="431.80" width="26.5" height="10.85" fill="#DEB887" stroke="#000" stroke-width="0.5"/>
<rect x="517.5" y="442.65" width="26.5" height="10.85" fill="#F5E6BE" stroke="#000" stroke-width="0.5"/>
<rect x="517.5" y="453.50" width="26.5" height="10.85" fill="#90BA32" stroke="#000" stroke-width="0.5"/>
<rect x="517.5" y="464.35" width="26.5" height="10.85" fill="#BCEE68" stroke="#000" stroke-width="0.5"/>
<rect x="517.5" y="475.20" width="26.5" height="10.85" fill="#20B2AA" stroke="#000" stroke-width="0.5"/>
<rect x="517.5" y="486.05" width="26.5" height="10.85" fill="#B0E0E6" stroke="#000" stroke-width="0.5"/>
<rect x="517.5" y="496.90" width="26.5" height="10.85" fill="#7A9AEF" stroke="#000" stroke-width="0.5"/>
<rect x="517.5" y="507.75" width="26.5" height="10.85" fill="#4064E0" stroke="#000" stroke-width="0.5"/>
<rect x="517.5" y="518.60" width="26.5" height="10.85" fill="#0000C8" stroke="#000" stroke-width="0.5"/>
<rect x="517.5" y="529.45" width="26.5" height="10.85" fill="#9370DB" stroke="#000" stroke-width="0.5"/>
<g font-family="'Liberation Sans', Arial, sans-serif" font-size="11" text-anchor="middle" fill="#000">
<text x="562" y="381.50">60</text>
<text x="562" y="392.35">59.5</text>
<text x="562" y="403.20">59</text>
<text x="562" y="414.05">58.5</text>
<text x="562" y="424.90">58</text>
<text x="562" y="435.75">57</text>
<text x="562" y="446.60">56</text>
<text x="562" y="457.45">55</text>
<text x="562" y="468.30">54</text>
<text x="562" y="479.15">53</text>
<text x="562" y="490.00">52</text>
<text x="562" y="500.85">51</text>
<text x="562" y="511.70">50</text>
<text x="562" y="522.55">49</text>
<text x="562" y="533.40">48</text>
</g>
<rect x="517.5" y="644.30" width="26.5" height="10.85" fill="#FF1493" stroke="#000" stroke-width="0.5"/>
<rect x="517.5" y="655.15" width="26.5" height="10.85" fill="#FFB6C1" stroke="#000" stroke-width="0.5"/>
<rect x="517.5" y="666.00" width="26.5" height="10.85" fill="#B22222" stroke="#000" stroke-width="0.5"/>
<rect x="517.5" y="676.85" width="26.5" height="10.85" fill="#FF4500" stroke="#000" stroke-width="0.5"/>
<rect x="517.5" y="687.70" width="26.5" height="10.85" fill="#FFA500" stroke="#000" stroke-width="0.5"/>
<rect x="517.5" y="698.55" width="26.5" height="10.85" fill="#FFE000" stroke="#000" stroke-width="0.5"/>
<rect x="517.5" y="709.40" width="26.5" height="10.85" fill="#DEB887" stroke="#000" stroke-width="0.5"/>
<rect x="517.5" y="720.25" width="26.5" height="10.85" fill="#F5E6BE" stroke="#000" stroke-width="0.5"/>
<rect x="517.5" y="731.10" width="26.5" height="10.85" fill="#90BA32" stroke="#000" stroke-width="0.5"/>
<rect x="517.5" y="741.95" width="26.5" height="10.85" fill="#BCEE68" stroke="#000" stroke-width="0.5"/>
<rect x="517.5" y="752.80" width="26.5" height="10.85" fill="#20B2AA" stroke="#000" stroke-width="0.5"/>
<rect x="517.5" y="763.65" width="26.5" height="10.85" fill="#B0E0E6" stroke="#000" stroke-width="0.5"/>
<rect x="517.5" y="774.50" width="26.5" height="10.85" fill="#7A9AEF" stroke="#000" stroke-width="0.5"/>
<rect x="517.5" y="785.35" width="26.5" height="10.85" fill="#4064E0" stroke="#000" stroke-width="0.5"/>
<rect x="517.5" y="796.20" width="26.5" height="10.85" fill="#0000C8" stroke="#000" stroke-width="0.5"/>
<rect x="517.5" y="807.05" width="26.5" height="10.85" fill="#9370DB" stroke="#000" stroke-width="0.5"/>
<g font-family="'Liberation Sans', Arial, sans-serif" font-size="11" text-anchor="middle" fill="#000">
<text x="562" y="659.10">1.2</text>
<text x="562" y="669.95">1</text>
<text x="562" y="680.80">0.8</text>
<text x="562" y="691.65">0.6</text>
<text x="562" y="702.50">0.4</text>
<text x="562" y="713.35">0.2</text>
<text x="562" y="724.20">0.1</text>
<text x="562" y="735.05">0</text>
<text x="562" y="745.90">−0.1</text>
<text x="562" y="756.75">−0.2</text>
<text x="562" y="767.60">−0.4</text>
<text x="562" y="778.45">−0.6</text>
<text x="562" y="789.30">−0.8</text>
<text x="562" y="800.15">−1</text>
<text x="562" y="811.00">−1.2</text>
</g>
<g font-family="'Liberation Serif', 'DejaVu Serif', serif" font-size="14" fill="#000">
<text y="32.9"><tspan x="0.6" textLength="45.8" lengthAdjust="spacingAndGlyphs">500mb</tspan> <tspan x="55" textLength="31.6" lengthAdjust="spacingAndGlyphs">geop</tspan> <tspan x="95" textLength="43.6" lengthAdjust="spacingAndGlyphs">height</tspan></text>
<text y="35.6"><tspan x="170.7" textLength="38.8" lengthAdjust="spacingAndGlyphs">mean</tspan> <tspan x="210.9" textLength="8.7" lengthAdjust="spacingAndGlyphs">=</tspan> <tspan x="234.2" textLength="36" lengthAdjust="spacingAndGlyphs">57.03</tspan></text>
<text y="35.6"><tspan x="351.6" textLength="89.3" lengthAdjust="spacingAndGlyphs">hectometers</tspan></text>
<text y="310.5"><tspan x="0.6" textLength="45.8" lengthAdjust="spacingAndGlyphs">500mb</tspan> <tspan x="55" textLength="31.6" lengthAdjust="spacingAndGlyphs">geop</tspan> <tspan x="95" textLength="43.6" lengthAdjust="spacingAndGlyphs">height</tspan></text>
<text y="313.2"><tspan x="170.7" textLength="38.8" lengthAdjust="spacingAndGlyphs">mean</tspan> <tspan x="210.9" textLength="8.7" lengthAdjust="spacingAndGlyphs">=</tspan> <tspan x="234.2" textLength="36" lengthAdjust="spacingAndGlyphs">56.66</tspan></text>
<text y="313.2"><tspan x="351.6" textLength="89.3" lengthAdjust="spacingAndGlyphs">hectometers</tspan></text>
<text y="590.9"><tspan x="0.3" textLength="37.6" lengthAdjust="spacingAndGlyphs">mean</tspan> <tspan x="46.9" textLength="10" lengthAdjust="spacingAndGlyphs">=</tspan> <tspan x="77.7" textLength="27.8" lengthAdjust="spacingAndGlyphs">0.37</tspan></text>
<text y="590.9"><tspan x="170.3" textLength="34.2" lengthAdjust="spacingAndGlyphs">rmse</tspan> <tspan x="213.3" textLength="8.9" lengthAdjust="spacingAndGlyphs">=</tspan> <tspan x="243.6" textLength="27.8" lengthAdjust="spacingAndGlyphs">0.53</tspan></text>
<text y="590.9"><tspan x="351.6" textLength="89.3" lengthAdjust="spacingAndGlyphs">hectometers</tspan></text>
<text y="71.5" font-size="13.6"><tspan x="457.2" textLength="21.7" lengthAdjust="spacingAndGlyphs">Min</tspan> <tspan x="486.1" textLength="8.7" lengthAdjust="spacingAndGlyphs">=</tspan> <tspan x="507.2" textLength="31.8" lengthAdjust="spacingAndGlyphs">50.41</tspan> <tspan x="546.8" textLength="23.2" lengthAdjust="spacingAndGlyphs">Max</tspan> <tspan x="577.2" textLength="8.7" lengthAdjust="spacingAndGlyphs">=</tspan> <tspan x="599.5" textLength="32.6" lengthAdjust="spacingAndGlyphs">59.38</tspan></text>
<text y="348.8" font-size="13.6"><tspan x="457.2" textLength="21.7" lengthAdjust="spacingAndGlyphs">Min</tspan> <tspan x="486.1" textLength="8.7" lengthAdjust="spacingAndGlyphs">=</tspan> <tspan x="507.2" textLength="31.8" lengthAdjust="spacingAndGlyphs">49.14</tspan> <tspan x="546.8" textLength="23.2" lengthAdjust="spacingAndGlyphs">Max</tspan> <tspan x="577.2" textLength="8.7" lengthAdjust="spacingAndGlyphs">=</tspan> <tspan x="599.5" textLength="32.6" lengthAdjust="spacingAndGlyphs">59.19</tspan></text>
<text y="625.8" font-size="13.6"><tspan x="457.2" textLength="21.7" lengthAdjust="spacingAndGlyphs">Min</tspan> <tspan x="486.1" textLength="8.7" lengthAdjust="spacingAndGlyphs">=</tspan> <tspan x="507.8" textLength="35.3" lengthAdjust="spacingAndGlyphs">−0.32</tspan> <tspan x="549.7" textLength="21.7" lengthAdjust="spacingAndGlyphs">Max</tspan> <tspan x="578.6" textLength="8.7" lengthAdjust="spacingAndGlyphs">=</tspan> <tspan x="608.4" textLength="24.1" lengthAdjust="spacingAndGlyphs">1.45</tspan></text>
</g>
<g font-family="'Liberation Sans', Arial, sans-serif" font-size="14.5" fill="#000">
<text x="140.8" y="11.1" textLength="160.7" lengthAdjust="spacingAndGlyphs">b01.01ibis (yrs 475-499)</text>
<text x="147.4" y="288.6" textLength="147.2" lengthAdjust="spacingAndGlyphs">b30.004 (yrs 475-499)</text>
<text x="152.8" y="570.1" textLength="135" lengthAdjust="spacingAndGlyphs">b01.01ibis - b30.004</text>
</g>
<text x="535.6" y="28.7" text-anchor="middle" font-family="'Liberation Sans', Arial, sans-serif" font-size="24" font-weight="bold">ANN</text>
</svg>
</body></html>
